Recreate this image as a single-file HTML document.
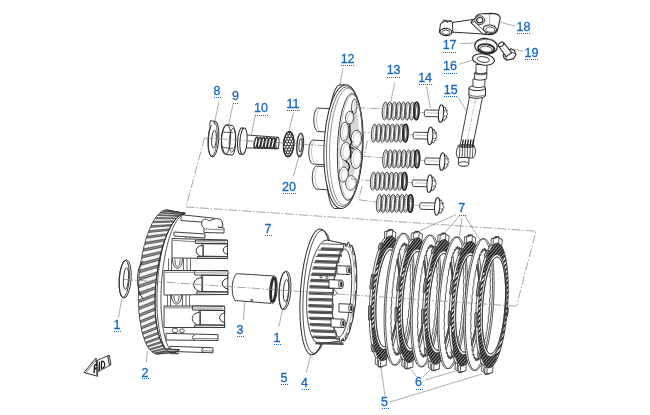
<!DOCTYPE html>
<html><head><meta charset="utf-8"><style>
html,body{margin:0;padding:0;background:#fff;width:650px;height:415px;overflow:hidden}
svg{position:absolute;left:0;top:0;display:block;will-change:transform}
</style></head><body>
<svg width="650" height="415" viewBox="0 0 650 415">
<defs>
<pattern id="fric" width="3.2" height="3.2" patternUnits="userSpaceOnUse" patternTransform="rotate(40)">
<rect width="3.2" height="3.2" fill="#f2f2f2"/><rect width="1.7" height="3.2" fill="#2a2a2a"/>
</pattern>
<pattern id="fricd" width="2.4" height="2.4" patternUnits="userSpaceOnUse" patternTransform="rotate(40)">
<rect width="2.4" height="2.4" fill="#cfcfcf"/><rect width="1.9" height="2.4" fill="#262626"/>
</pattern>
</defs>

<g fill="none" stroke="#9a9a9a" stroke-width="0.8">
<line x1="493" y1="20.5" x2="515" y2="26"/>
<line x1="513" y1="49" x2="523.8" y2="51.2"/>
<line x1="460.4" y1="43.6" x2="474.9" y2="43"/>
<line x1="459" y1="64.3" x2="473.4" y2="60"/>
<line x1="458" y1="96.8" x2="468.8" y2="115"/>
<line x1="426.5" y1="86" x2="430.3" y2="108"/>
<line x1="394.7" y1="83" x2="390.8" y2="101.4"/>
<line x1="343" y1="68" x2="339.5" y2="86.6"/>
<line x1="219" y1="101.7" x2="214" y2="124.6"/>
<line x1="233" y1="104" x2="228.5" y2="125.8"/>
<line x1="255" y1="116" x2="251.4" y2="135"/>
<line x1="293.6" y1="112.5" x2="288.8" y2="131.8"/>
<line x1="299" y1="156" x2="293.3" y2="176.5"/>
<line x1="456" y1="214.6" x2="420" y2="230.8"/>
<line x1="460" y1="215.4" x2="443.8" y2="233.8"/>
<line x1="462.3" y1="217.7" x2="457.7" y2="244.6"/>
<line x1="464.6" y1="215.4" x2="481.5" y2="242.3"/>
<line x1="147.3" y1="350.8" x2="146.3" y2="362.5"/>
<line x1="245.2" y1="298.5" x2="243.3" y2="320"/>
<line x1="282.4" y1="310" x2="278.8" y2="327"/>
<line x1="311.7" y1="350.6" x2="306.4" y2="372.5"/>
<line x1="417" y1="377" x2="410" y2="368"/>
<line x1="423" y1="377" x2="430" y2="370"/>
<line x1="425" y1="380" x2="456" y2="371"/>
<line x1="385" y1="396" x2="381" y2="368"/>
<line x1="390" y1="402" x2="482" y2="374"/>
<line x1="121.9" y1="298" x2="118.5" y2="317.5"/>
</g>
<g fill="#fff" stroke="#2a2a2a" stroke-width="0.9" stroke-linejoin="round">
<ellipse cx="125.20" cy="279.00" rx="5.90" ry="19.20" transform="rotate(4 125.20 279.00)" />
<ellipse cx="124.20" cy="279.00" rx="5.00" ry="18.60" transform="rotate(4 124.20 279.00)" fill="none"/>
<ellipse cx="126.00" cy="278.60" rx="2.50" ry="11.00" transform="rotate(4 126.00 278.60)" />
<ellipse cx="285.00" cy="290.40" rx="5.80" ry="19.50" transform="rotate(4 285.00 290.40)" />
<ellipse cx="284.00" cy="290.40" rx="4.90" ry="18.80" transform="rotate(4 284.00 290.40)" fill="none"/>
<ellipse cx="286.00" cy="290.60" rx="2.60" ry="11.20" transform="rotate(4 286.00 290.60)" />
<path d="M236.6,273.7 L273.4,275.9 L271,303.4 L235,300.5 C231,295 231,279 236.6,273.7 Z"/>
<ellipse cx="273.40" cy="289.60" rx="3.70" ry="13.80" transform="rotate(4 273.40 289.60)" />
<ellipse cx="273.40" cy="289.80" rx="2.30" ry="12.00" transform="rotate(4 273.40 289.80)" stroke-width="2.2" fill="none"/>
<ellipse cx="251.70" cy="300.30" rx="1.00" ry="0.80" transform="rotate(0 251.70 300.30)" fill="#fff"/>
<path d="M178,214 L224,218 L228,240 L228,330 L209,353 L172,351 C158,330 158,240 178,214 Z" fill="#fff" stroke="none"/>
<line x1="168.5" y1="258.5" x2="168.5" y2="270.5" stroke-width="0.7"/>
<line x1="171.5" y1="258.5" x2="171.5" y2="270.5" stroke-width="0.7"/>
<line x1="183.5" y1="258.5" x2="183.5" y2="270.5" stroke-width="0.7"/>
<line x1="187.0" y1="258.5" x2="187.0" y2="270.5" stroke-width="0.7"/>
<line x1="190.5" y1="258.5" x2="190.5" y2="270.5" stroke-width="0.7"/>
<path d="M172.5,258.5 C172.5,271.5 182.5,271.5 182.5,258.5" fill="none" stroke-width="0.9"/>
<path d="M175.0,259.5 C175.0,269.0 180.0,269.0 180.0,259.5" fill="none" stroke-width="0.8"/>
<line x1="167.5" y1="295.0" x2="167.5" y2="306.0" stroke-width="0.7"/>
<line x1="170.5" y1="295.0" x2="170.5" y2="306.0" stroke-width="0.7"/>
<line x1="182.5" y1="295.0" x2="182.5" y2="306.0" stroke-width="0.7"/>
<line x1="186.0" y1="295.0" x2="186.0" y2="306.0" stroke-width="0.7"/>
<line x1="189.5" y1="295.0" x2="189.5" y2="306.0" stroke-width="0.7"/>
<path d="M171.5,295.0 C171.5,307.0 181.5,307.0 181.5,295.0" fill="none" stroke-width="0.9"/>
<path d="M174.0,296.0 C174.0,304.5 179.0,304.5 179.0,296.0" fill="none" stroke-width="0.8"/>
<path d="M186,236 L186,238.5 M190,236 L190,238.5 M194,236 L194,238.5" fill="none" stroke-width="0.7"/>
<ellipse cx="175.00" cy="330.50" rx="2.80" ry="2.30" transform="rotate(0 175.00 330.50)" fill="none" stroke-width="0.8"/>
<ellipse cx="182.00" cy="330.80" rx="2.30" ry="2.00" transform="rotate(0 182.00 330.80)" fill="none" stroke-width="0.8"/>
<path d="M181.00,214.70 L214.30,218.20 L214.30,223.00 L181.00,220.50 Z" stroke-width="0.9"/>
<path d="M174.00,232.00 L205.00,234.00 L205.00,238.00 L174.00,236.00 Z" stroke-width="0.9"/>
<path d="M172.00,238.50 L227.50,240.00 L227.50,258.50 L172.00,258.00 Z" stroke-width="0.9"/>
<line x1="173.0" y1="240.3" x2="195.5" y2="241.8" fill="none" stroke-width="0.6"/>
<path d="M195.5,240.0 L226.5,240.4 C228.1,240.6 228.1,243.5 226.5,243.7 L195.5,243.4 Z" stroke-width="0.9"/>
<line x1="196.5" y1="241.7" x2="226.0" y2="242.1" stroke-width="0.5"/>
<path d="M202.0,243.7 L227.5,244.0 L227.5,246.0 C221.8,246.8 221.8,253.4 227.5,254.2 L227.5,256.5 L202.0,256.2 Z" fill="#fff" stroke-width="1"/>
<path d="M202.0,245.6 C194.2,246.0 194.2,255.4 202.0,256.5" fill="#fff" stroke-width="1"/>
<path d="M203.3,244.7 L203.3,256.0" fill="none" stroke-width="0.9"/>
<path d="M197.5,256.5 L227.5,256.8 L227.5,258.5 L197.5,258.2 Z" stroke-width="0.9"/>
<path d="M164.00,270.50 L227.80,270.50 L227.80,294.50 L164.00,295.00 Z" stroke-width="0.9"/>
<line x1="165.0" y1="272.3" x2="194.8" y2="272.3" fill="none" stroke-width="0.6"/>
<path d="M194.8,270.5 L226.8,270.9 C228.4,271.1 228.4,275.1 226.8,275.3 L194.8,275.0 Z" stroke-width="0.9"/>
<line x1="195.8" y1="272.7" x2="226.3" y2="273.1" stroke-width="0.5"/>
<path d="M201.3,275.3 L227.8,275.6 L227.8,278.3 C220.4,279.3 220.4,287.8 227.8,288.9 L227.8,291.9 L201.3,291.6 Z" fill="#fff" stroke-width="1"/>
<path d="M201.3,277.8 C191.2,278.3 191.2,290.5 201.3,291.9" fill="#fff" stroke-width="1"/>
<path d="M202.6,276.3 L202.6,291.4" fill="none" stroke-width="0.9"/>
<path d="M196.8,291.9 L227.8,292.2 L227.8,294.5 L196.8,294.2 Z" stroke-width="0.9"/>
<path d="M164.00,306.00 L224.60,306.00 L224.60,327.50 L164.00,327.50 Z" stroke-width="0.9"/>
<line x1="165.0" y1="307.8" x2="192.6" y2="307.8" fill="none" stroke-width="0.6"/>
<path d="M192.6,306.0 L223.6,306.4 C225.2,306.6 225.2,310.1 223.6,310.3 L192.6,310.0 Z" stroke-width="0.9"/>
<line x1="193.6" y1="307.9" x2="223.1" y2="308.3" stroke-width="0.5"/>
<path d="M199.1,310.3 L224.6,310.6 L224.6,313.0 C218.0,313.9 218.0,321.5 224.6,322.5 L224.6,325.1 L199.1,324.8 Z" fill="#fff" stroke-width="1"/>
<path d="M199.1,312.5 C190.1,313.0 190.1,323.9 199.1,325.1" fill="#fff" stroke-width="1"/>
<path d="M200.4,311.3 L200.4,324.6" fill="none" stroke-width="0.9"/>
<path d="M194.6,325.1 L224.6,325.4 L224.6,327.5 L194.6,327.2 Z" stroke-width="0.9"/>
<path d="M166.00,333.30 L218.00,334.70 L218.00,340.50 L166.00,340.00 Z" stroke-width="0.9"/>
<path d="M194.0,334.7 L194.0,335.9 C191.7,335.9 191.7,339.3 194.0,339.3 L194.0,340.5" fill="#fff" stroke-width="0.9"/>
<line x1="194.0" y1="338.5" x2="218.0" y2="338.7" fill="none" stroke-width="0.6"/>
<path d="M170.00,346.30 L213.00,347.80 L213.00,352.80 L170.00,351.40 Z" stroke-width="0.9"/>
<path d="M203.0,347.8 L203.0,348.8 C201.1,348.8 201.1,351.8 203.0,351.8 L203.0,352.8" fill="#fff" stroke-width="0.9"/>
<line x1="203.0" y1="350.8" x2="213.0" y2="351.0" fill="none" stroke-width="0.6"/>
<path d="M202,221 C204,218.5 207,218.5 209,221 L214,219 C218,218 221,219 222,221 L223,226 C221,228 219,228 218,227 L224,228 L224,233 L204,232.5 L204,228 C202,227 201,224 202,221 Z" stroke-width="0.9"/>
<path d="M205,229 L223,229.8" fill="none" stroke-width="0.6"/>
<path d="M184.51,214.25 L183.19,214.64 L181.85,215.34 L180.51,216.35 L179.17,217.66 L177.84,219.27 L176.52,221.16 L175.22,223.34 L173.95,225.79 L172.71,228.50 L171.51,231.46 L170.35,234.66 L169.24,238.07 L168.18,241.69 L167.18,245.50 L166.23,249.48 L165.36,253.62 L164.56,257.89 L163.83,262.28 L163.17,266.77 L162.60,271.33 L162.11,275.95 L161.70,280.61 L161.38,285.28 L161.14,289.95 L161.00,294.59 L160.94,299.18 L160.98,303.70 L161.10,308.14 L161.32,312.46 L161.62,316.66 L162.01,320.72 L162.48,324.61 L163.04,328.32 L163.67,331.83 L164.39,335.12 L165.18,338.19 L166.04,341.01 L166.96,343.58 L167.95,345.89 L169.00,347.91 L170.10,349.65 L171.25,351.10 L172.44,352.24 L173.67,353.08 L174.94,353.62 L176.23,353.84 L177.54,353.74 L178.87,353.34 L174.87,353.34 L173.54,353.74 L172.23,353.84 L170.94,353.62 L169.67,353.08 L168.44,352.24 L167.25,351.10 L166.10,349.65 L165.00,347.91 L163.95,345.89 L162.96,343.58 L162.04,341.01 L161.18,338.19 L160.39,335.12 L159.67,331.83 L159.04,328.32 L158.48,324.61 L158.01,320.72 L157.62,316.66 L157.32,312.46 L157.10,308.14 L156.98,303.70 L156.94,299.18 L157.00,294.59 L157.14,289.95 L157.38,285.28 L157.70,280.61 L158.11,275.95 L158.60,271.33 L159.17,266.77 L159.83,262.28 L160.56,257.89 L161.36,253.62 L162.23,249.48 L163.18,245.50 L164.18,241.69 L165.24,238.07 L166.35,234.66 L167.51,231.46 L168.71,228.50 L169.95,225.79 L171.22,223.34 L172.52,221.16 L173.84,219.27 L175.17,217.66 L176.51,216.35 L177.85,215.34 L179.19,214.64 L180.51,214.25 Z" fill="#fff" stroke-width="0.8"/>
<path d="M170.93,211.55 L169.91,210.97 L168.88,210.55 L167.83,210.28 L166.76,210.16 L165.69,210.20 L164.61,210.40 L163.52,210.75 L162.43,211.25 L161.34,211.91 L160.25,212.72 L159.16,213.68 L158.08,214.78 L157.01,216.03 L155.95,217.43 L154.90,218.96 L153.87,220.63 L152.85,222.43 L151.86,224.36 L150.89,226.41 L149.94,228.59 L149.01,230.88 L148.12,233.28 L147.25,235.78 L146.42,238.38 L145.62,241.08 L144.86,243.87 L144.13,246.74 L143.44,249.69 L142.79,252.70 L142.18,255.78 L141.62,258.92 L141.10,262.10 L140.62,265.33 L140.20,268.59 L139.81,271.89 L139.48,275.20 L139.19,278.53 L138.96,281.87 L138.77,285.21 L138.63,288.54 L138.55,291.85 L138.51,295.15 L138.53,298.41 L138.60,301.65 L138.71,304.84 L138.88,307.97 L139.10,311.06 L139.36,314.08 L139.68,317.03 L140.04,319.91 L140.45,322.70 L140.91,325.41 L141.41,328.02 L141.96,330.53 L142.55,332.94 L143.18,335.24 L143.85,337.42 L144.57,339.49 L145.32,341.43 L146.10,343.24 L146.92,344.92 L147.78,346.46 L148.66,347.86 L149.57,349.12 L150.51,350.24 L151.48,351.21 L152.46,352.03 L153.47,352.70 L154.49,353.22 L155.54,353.58 L156.59,353.79 L157.66,353.84 L158.74,353.74 L159.82,353.48 L160.91,353.07 L162.00,352.51 L163.09,351.79 L164.18,350.92 L165.26,349.90 L166.34,348.74 L179.53,349.61 L178.50,350.42 L177.48,351.10 L176.45,351.67 L175.43,352.11 L174.42,352.42 L173.42,352.60 L172.43,352.66 L171.44,352.59 L170.48,352.39 L169.52,352.07 L168.59,351.61 L167.67,351.04 L166.78,350.34 L165.91,349.51 L165.06,348.57 L164.23,347.50 L163.44,346.32 L162.67,345.02 L161.93,343.61 L161.23,342.09 L160.55,340.46 L159.91,338.72 L159.31,336.88 L158.74,334.95 L158.20,332.91 L157.71,330.79 L157.25,328.58 L156.84,326.29 L156.46,323.92 L156.13,321.47 L155.84,318.95 L155.59,316.37 L155.38,313.72 L155.22,311.02 L155.10,308.27 L155.02,305.47 L154.99,302.63 L155.00,299.76 L155.05,296.85 L155.15,293.92 L155.29,290.97 L155.48,288.01 L155.71,285.03 L155.98,282.05 L156.29,279.08 L156.65,276.11 L157.04,273.15 L157.48,270.21 L157.95,267.30 L158.47,264.41 L159.02,261.56 L159.61,258.74 L160.23,255.98 L160.89,253.26 L161.58,250.59 L162.30,247.98 L163.05,245.44 L163.83,242.97 L164.64,240.57 L165.48,238.25 L166.34,236.00 L167.22,233.85 L168.13,231.78 L169.06,229.81 L170.00,227.94 L170.96,226.17 L171.93,224.50 L172.92,222.93 L173.92,221.48 L174.93,220.14 L175.94,218.91 L176.96,217.81 L177.99,216.82 L179.02,215.95 L180.04,215.20 L181.07,214.58 L182.09,214.08 L183.10,213.71 L184.11,213.47 L185.11,213.35 Z" fill="#8c8c8c" stroke-width="0.9"/>
<path d="M169.43,210.52 L185.11,213.35 L184.91,213.37 L167.91,210.07 Z" fill="#f6f6f6" stroke="#2a2a2a" stroke-width="0.6"/>
<path d="M167.04,209.96 L185.11,213.35 L184.91,213.37 L165.47,210.01 Z" fill="#f6f6f6" stroke="#2a2a2a" stroke-width="0.6"/>
<path d="M164.59,210.19 L185.11,213.35 L184.36,213.43 L163.00,210.74 Z" fill="#f6f6f6" stroke="#2a2a2a" stroke-width="0.6"/>
<path d="M162.11,211.20 L183.47,213.61 L181.88,214.17 L160.52,212.25 Z" fill="#f6f6f6" stroke="#2a2a2a" stroke-width="0.6"/>
<path d="M159.63,212.99 L180.98,214.63 L179.38,215.67 L158.06,214.53 Z" fill="#f6f6f6" stroke="#2a2a2a" stroke-width="0.6"/>
<path d="M157.18,215.53 L178.47,216.39 L176.86,217.91 L155.63,217.54 Z" fill="#f6f6f6" stroke="#2a2a2a" stroke-width="0.6"/>
<path d="M154.78,218.80 L175.96,218.89 L174.38,220.86 L153.28,221.26 Z" fill="#f6f6f6" stroke="#2a2a2a" stroke-width="0.6"/>
<path d="M152.45,222.77 L173.49,222.09 L171.94,224.49 L151.02,225.65 Z" fill="#f6f6f6" stroke="#2a2a2a" stroke-width="0.6"/>
<path d="M150.24,227.38 L171.08,225.95 L169.58,228.76 L148.88,230.65 Z" fill="#f6f6f6" stroke="#2a2a2a" stroke-width="0.6"/>
<path d="M148.15,232.59 L168.75,230.45 L167.32,233.63 L146.89,236.22 Z" fill="#f6f6f6" stroke="#2a2a2a" stroke-width="0.6"/>
<path d="M146.21,238.34 L166.54,235.51 L165.19,239.03 L145.06,242.28 Z" fill="#f6f6f6" stroke="#2a2a2a" stroke-width="0.6"/>
<path d="M144.45,244.58 L164.46,241.10 L163.21,244.92 L143.42,248.78 Z" fill="#f6f6f6" stroke="#2a2a2a" stroke-width="0.6"/>
<path d="M142.88,251.22 L162.54,247.15 L161.41,251.23 L141.98,255.65 Z" fill="#f6f6f6" stroke="#2a2a2a" stroke-width="0.6"/>
<path d="M141.52,258.20 L160.80,253.59 L159.79,257.88 L140.76,262.81 Z" fill="#f6f6f6" stroke="#2a2a2a" stroke-width="0.6"/>
<path d="M140.38,265.44 L159.26,260.35 L158.39,264.81 L139.78,270.17 Z" fill="#f6f6f6" stroke="#2a2a2a" stroke-width="0.6"/>
<path d="M139.48,272.86 L157.94,267.36 L157.22,271.94 L139.03,277.67 Z" fill="#f6f6f6" stroke="#2a2a2a" stroke-width="0.6"/>
<path d="M138.83,280.38 L156.85,274.54 L156.28,279.19 L138.54,285.21 Z" fill="#f6f6f6" stroke="#2a2a2a" stroke-width="0.6"/>
<path d="M138.43,287.92 L156.00,281.81 L155.59,286.48 L138.31,292.71 Z" fill="#f6f6f6" stroke="#2a2a2a" stroke-width="0.6"/>
<path d="M138.29,295.39 L155.40,289.10 L155.16,293.73 L138.33,300.10 Z" fill="#f6f6f6" stroke="#2a2a2a" stroke-width="0.6"/>
<path d="M138.40,302.72 L155.07,296.32 L154.99,300.87 L138.62,307.30 Z" fill="#f6f6f6" stroke="#2a2a2a" stroke-width="0.6"/>
<path d="M138.78,309.82 L154.99,303.39 L155.08,307.81 L139.16,314.21 Z" fill="#f6f6f6" stroke="#2a2a2a" stroke-width="0.6"/>
<path d="M139.41,316.62 L155.18,310.24 L155.43,314.47 L139.95,320.77 Z" fill="#f6f6f6" stroke="#2a2a2a" stroke-width="0.6"/>
<path d="M140.29,323.03 L155.62,316.79 L156.05,320.80 L140.98,326.91 Z" fill="#f6f6f6" stroke="#2a2a2a" stroke-width="0.6"/>
<path d="M141.41,329.00 L156.33,322.98 L156.91,326.71 L142.24,332.55 Z" fill="#f6f6f6" stroke="#2a2a2a" stroke-width="0.6"/>
<path d="M142.75,334.45 L157.28,328.72 L158.02,332.14 L143.72,337.64 Z" fill="#f6f6f6" stroke="#2a2a2a" stroke-width="0.6"/>
<path d="M144.30,339.33 L158.47,333.96 L159.35,337.03 L145.40,342.12 Z" fill="#f6f6f6" stroke="#2a2a2a" stroke-width="0.6"/>
<path d="M146.05,343.58 L159.89,338.65 L160.90,341.33 L147.26,345.95 Z" fill="#f6f6f6" stroke="#2a2a2a" stroke-width="0.6"/>
<path d="M147.97,347.15 L161.51,342.72 L162.65,344.99 L149.28,349.07 Z" fill="#f6f6f6" stroke="#2a2a2a" stroke-width="0.6"/>
<path d="M150.05,350.01 L163.33,346.14 L164.58,347.97 L151.45,351.45 Z" fill="#f6f6f6" stroke="#2a2a2a" stroke-width="0.6"/>
<path d="M152.25,352.13 L165.32,348.87 L166.67,350.24 L153.72,353.08 Z" fill="#f6f6f6" stroke="#2a2a2a" stroke-width="0.6"/>
<path d="M154.57,353.48 L167.45,350.88 L168.89,351.77 L156.09,353.93 Z" fill="#f6f6f6" stroke="#2a2a2a" stroke-width="0.6"/>
<path d="M156.96,354.04 L169.72,352.14 L171.22,352.55 L158.53,353.99 Z" fill="#f6f6f6" stroke="#2a2a2a" stroke-width="0.6"/>
<path d="M159.41,353.81 L172.08,352.65 L173.64,352.57 L161.00,353.26 Z" fill="#f6f6f6" stroke="#2a2a2a" stroke-width="0.6"/>
<path d="M161.89,352.80 L174.53,352.39 L176.12,351.83 L163.48,351.75 Z" fill="#f6f6f6" stroke="#2a2a2a" stroke-width="0.6"/>
<path d="M164.37,351.01 L177.02,351.37 L178.62,350.33 L165.94,349.47 Z" fill="#f6f6f6" stroke="#2a2a2a" stroke-width="0.6"/>
<path d="M185.11,213.35 L184.11,213.47 L183.10,213.71 L182.09,214.08 L181.07,214.58 L180.04,215.20 L179.02,215.95 L177.99,216.82 L176.96,217.81 L175.94,218.91 L174.93,220.14 L173.92,221.48 L172.92,222.93 L171.93,224.50 L170.96,226.17 L170.00,227.94 L169.06,229.81 L168.13,231.78 L167.22,233.85 L166.34,236.00 L165.48,238.25 L164.64,240.57 L163.83,242.97 L163.05,245.44 L162.30,247.98 L161.58,250.59 L160.89,253.26 L160.23,255.98 L159.61,258.74 L159.02,261.56 L158.47,264.41 L157.95,267.30 L157.48,270.21 L157.04,273.15 L156.65,276.11 L156.29,279.08 L155.98,282.05 L155.71,285.03 L155.48,288.01 L155.29,290.97 L155.15,293.92 L155.05,296.85 L155.00,299.76 L154.99,302.63 L155.02,305.47 L155.10,308.27 L155.22,311.02 L155.38,313.72 L155.59,316.37 L155.84,318.95 L156.13,321.47 L156.46,323.92 L156.84,326.29 L157.25,328.58 L157.71,330.79 L158.20,332.91 L158.74,334.95 L159.31,336.88 L159.91,338.72 L160.55,340.46 L161.23,342.09 L161.93,343.61 L162.67,345.02 L163.44,346.32 L164.23,347.50 L165.06,348.57 L165.91,349.51 L166.78,350.34 L167.67,351.04 L168.59,351.61 L169.52,352.07 L170.48,352.39 L171.44,352.59 L172.43,352.66 L173.42,352.60 L174.42,352.42 L175.43,352.11 L176.45,351.67 L177.48,351.10 L178.50,350.42 L179.53,349.61" fill="none" stroke-width="0.9"/>
<path d="M143,261 C136,266 135.5,292 143,298.5" fill="none" stroke-width="1"/>
<ellipse cx="316.00" cy="291.80" rx="15.50" ry="63.00" transform="rotate(4 316.00 291.80)" stroke-width="1"/>
<ellipse cx="318.20" cy="291.80" rx="14.80" ry="61.80" transform="rotate(4 318.20 291.80)" fill="none" stroke-width="0.8"/>
<path d="M327.14,240.00 L324.82,240.50 L323.85,241.00 L323.10,241.50 L322.47,242.00 L321.91,242.50 L321.41,243.00 L320.94,243.50 L320.51,244.00 L320.11,244.50 L319.73,245.00 L319.37,245.50 L319.03,246.00 L318.70,246.50 L318.38,247.00 L318.08,247.50 L317.79,248.00 L317.50,248.50 L317.23,249.00 L316.97,249.50 L316.71,250.00 L316.46,250.50 L316.22,251.00 L315.99,251.50 L315.76,252.00 L315.53,252.50 L315.32,253.00 L315.10,253.50 L314.90,254.00 L314.69,254.50 L314.50,255.00 L314.30,255.50 L314.11,256.00 L313.93,256.50 L313.75,257.00 L313.57,257.50 L313.40,258.00 L313.23,258.50 L313.06,259.00 L312.89,259.50 L312.73,260.00 L312.58,260.50 L312.42,261.00 L312.27,261.50 L312.12,262.00 L311.98,262.50 L311.83,263.00 L311.69,263.50 L311.56,264.00 L311.42,264.50 L311.29,265.00 L311.16,265.50 L311.03,266.00 L310.91,266.50 L310.78,267.00 L310.66,267.50 L310.54,268.00 L310.43,268.50 L310.31,269.00 L310.20,269.50 L310.09,270.00 L309.98,270.50 L309.88,271.00 L309.77,271.50 L309.67,272.00 L309.57,272.50 L309.47,273.00 L309.37,273.50 L309.28,274.00 L309.19,274.50 L309.10,275.00 L309.01,275.50 L308.92,276.00 L308.84,276.50 L308.75,277.00 L308.67,277.50 L308.59,278.00 L308.51,278.50 L308.43,279.00 L308.36,279.50 L308.29,280.00 L308.21,280.50 L308.14,281.00 L308.07,281.50 L308.01,282.00 L307.94,282.50 L307.88,283.00 L307.82,283.50 L307.76,284.00 L307.70,284.50 L307.64,285.00 L307.58,285.50 L307.53,286.00 L307.48,286.50 L307.43,287.00 L307.38,287.50 L307.33,288.00 L307.28,288.50 L307.24,289.00 L307.19,289.50 L307.15,290.00 L307.11,290.50 L307.07,291.00 L307.04,291.50 L307.00,292.00 L306.97,292.50 L306.93,293.00 L306.90,293.50 L306.87,294.00 L306.84,294.50 L306.82,295.00 L306.79,295.50 L306.77,296.00 L306.75,296.50 L306.73,297.00 L306.71,297.50 L306.69,298.00 L306.67,298.50 L306.66,299.00 L306.65,299.50 L306.64,300.00 L306.63,300.50 L306.62,301.00 L306.61,301.50 L306.61,302.00 L306.60,302.50 L306.60,303.00 L306.60,303.50 L306.61,304.00 L306.61,304.50 L306.61,305.00 L306.62,305.50 L306.63,306.00 L306.64,306.50 L306.65,307.00 L306.67,307.50 L306.68,308.00 L306.70,308.50 L306.72,309.00 L306.74,309.50 L306.76,310.00 L306.78,310.50 L306.81,311.00 L306.84,311.50 L306.87,312.00 L306.90,312.50 L306.94,313.00 L306.97,313.50 L307.01,314.00 L307.05,314.50 L307.09,315.00 L307.14,315.50 L307.18,316.00 L307.23,316.50 L307.28,317.00 L307.34,317.50 L307.39,318.00 L307.45,318.50 L307.51,319.00 L307.57,319.50 L307.64,320.00 L307.70,320.50 L307.77,321.00 L307.85,321.50 L307.92,322.00 L308.00,322.50 L308.08,323.00 L308.17,323.50 L308.25,324.00 L308.34,324.50 L308.44,325.00 L308.54,325.50 L308.64,326.00 L308.74,326.50 L308.85,327.00 L308.96,327.50 L309.07,328.00 L309.19,328.50 L309.32,329.00 L309.44,329.50 L309.58,330.00 L309.71,330.50 L309.86,331.00 L310.00,331.50 L310.16,332.00 L310.32,332.50 L310.48,333.00 L310.65,333.50 L310.83,334.00 L311.02,334.50 L311.21,335.00 L311.41,335.50 L311.63,336.00 L311.85,336.50 L312.08,337.00 L312.33,337.50 L312.59,338.00 L312.86,338.50 L313.15,339.00 L313.46,339.50 L313.79,340.00 L314.15,340.50 L314.55,341.00 L314.98,341.50 L315.47,342.00 L316.03,342.50 L316.71,343.00 L317.61,343.50 L319.86,344.00 L345.22,340.12 L345.96,339.03 L346.71,337.76 L347.44,336.32 L348.16,334.72 L348.87,332.97 L349.56,331.06 L350.24,329.01 L350.89,326.82 L351.52,324.50 L352.12,322.07 L352.70,319.52 L353.24,316.88 L353.75,314.14 L354.23,311.32 L354.67,308.43 L355.07,305.49 L355.43,302.49 L355.75,299.46 L356.03,296.40 L356.27,293.32 L356.46,290.25 L356.61,287.18 L356.72,284.13 L356.77,281.11 L356.79,278.14 L356.75,275.21 L356.67,272.36 L356.55,269.58 L356.38,266.88 L356.16,264.28 L355.91,261.78 L355.60,259.40 L355.26,257.15 L354.88,255.02 L354.46,253.03 L354.00,251.20 L353.51,249.51 L352.98,247.99 L352.42,246.63 L351.84,245.44 Z" fill="#fff" stroke-width="1"/>
<path d="M321.5,243.8 L343.5,244.5" fill="none" stroke="#333" stroke-width="0.8"/>
<path d="M321.5,247.8 L343.5,248.5" fill="none" stroke="#333" stroke-width="0.8"/>
<path d="M320.8,248.9 L343.5,249.6" fill="none" stroke="#4a4a4a" stroke-width="1.7"/>
<path d="M318.0,250.1 L342.0,250.8" fill="none" stroke="#333" stroke-width="0.8"/>
<path d="M318.0,254.1 L342.0,254.8" fill="none" stroke="#333" stroke-width="0.8"/>
<path d="M317.3,255.2 L342.0,255.9" fill="none" stroke="#4a4a4a" stroke-width="1.7"/>
<path d="M315.5,256.4 L339.4,257.1" fill="none" stroke="#333" stroke-width="0.8"/>
<path d="M315.5,260.4 L339.4,261.1" fill="none" stroke="#333" stroke-width="0.8"/>
<path d="M314.8,261.5 L339.4,262.2" fill="none" stroke="#4a4a4a" stroke-width="1.7"/>
<path d="M313.6,262.7 L337.6,263.4" fill="none" stroke="#333" stroke-width="0.8"/>
<path d="M313.6,266.7 L337.6,267.4" fill="none" stroke="#333" stroke-width="0.8"/>
<path d="M312.9,267.8 L337.6,268.5" fill="none" stroke="#4a4a4a" stroke-width="1.7"/>
<path d="M312.1,269.0 L336.3,269.7" fill="none" stroke="#333" stroke-width="0.8"/>
<path d="M312.1,273.0 L336.3,273.7" fill="none" stroke="#333" stroke-width="0.8"/>
<path d="M311.4,274.1 L336.3,274.8" fill="none" stroke="#4a4a4a" stroke-width="1.7"/>
<path d="M310.9,275.3 L335.2,276.0" fill="none" stroke="#333" stroke-width="0.8"/>
<path d="M310.9,279.3 L335.2,280.0" fill="none" stroke="#333" stroke-width="0.8"/>
<path d="M310.2,280.4 L335.2,281.1" fill="none" stroke="#4a4a4a" stroke-width="1.7"/>
<path d="M310.0,281.6 L334.4,282.3" fill="none" stroke="#333" stroke-width="0.8"/>
<path d="M310.0,285.6 L334.4,286.3" fill="none" stroke="#333" stroke-width="0.8"/>
<path d="M309.3,286.7 L334.4,287.4" fill="none" stroke="#4a4a4a" stroke-width="1.7"/>
<path d="M309.4,287.9 L333.8,288.6" fill="none" stroke="#333" stroke-width="0.8"/>
<path d="M309.4,291.9 L333.8,292.6" fill="none" stroke="#333" stroke-width="0.8"/>
<path d="M308.7,293.0 L333.8,293.7" fill="none" stroke="#4a4a4a" stroke-width="1.7"/>
<path d="M309.0,294.2 L333.3,294.9" fill="none" stroke="#333" stroke-width="0.8"/>
<path d="M309.0,298.2 L333.3,298.9" fill="none" stroke="#333" stroke-width="0.8"/>
<path d="M308.3,299.3 L333.3,300.0" fill="none" stroke="#4a4a4a" stroke-width="1.7"/>
<path d="M308.8,300.5 L333.1,301.2" fill="none" stroke="#333" stroke-width="0.8"/>
<path d="M308.8,304.5 L333.1,305.2" fill="none" stroke="#333" stroke-width="0.8"/>
<path d="M308.1,305.6 L333.1,306.3" fill="none" stroke="#4a4a4a" stroke-width="1.7"/>
<path d="M308.9,306.8 L333.0,307.5" fill="none" stroke="#333" stroke-width="0.8"/>
<path d="M308.9,310.8 L333.0,311.5" fill="none" stroke="#333" stroke-width="0.8"/>
<path d="M308.2,311.9 L333.0,312.6" fill="none" stroke="#4a4a4a" stroke-width="1.7"/>
<path d="M309.3,313.1 L333.2,313.8" fill="none" stroke="#333" stroke-width="0.8"/>
<path d="M309.3,317.1 L333.2,317.8" fill="none" stroke="#333" stroke-width="0.8"/>
<path d="M308.6,318.2 L333.2,318.9" fill="none" stroke="#4a4a4a" stroke-width="1.7"/>
<path d="M310.0,319.4 L333.6,320.1" fill="none" stroke="#333" stroke-width="0.8"/>
<path d="M310.0,323.4 L333.6,324.1" fill="none" stroke="#333" stroke-width="0.8"/>
<path d="M309.3,324.5 L333.6,325.2" fill="none" stroke="#4a4a4a" stroke-width="1.7"/>
<path d="M311.2,325.7 L334.5,326.4" fill="none" stroke="#333" stroke-width="0.8"/>
<path d="M311.2,329.7 L334.5,330.4" fill="none" stroke="#333" stroke-width="0.8"/>
<path d="M310.5,330.8 L334.5,331.5" fill="none" stroke="#4a4a4a" stroke-width="1.7"/>
<path d="M313.0,332.0 L336.1,332.7" fill="none" stroke="#333" stroke-width="0.8"/>
<path d="M313.0,336.0 L336.1,336.7" fill="none" stroke="#333" stroke-width="0.8"/>
<path d="M312.3,337.1 L336.1,337.8" fill="none" stroke="#4a4a4a" stroke-width="1.7"/>
<path d="M316.1,338.3 L343.5,339.0" fill="none" stroke="#333" stroke-width="0.8"/>
<path d="M316.1,342.3 L343.5,343.0" fill="none" stroke="#333" stroke-width="0.8"/>
<path d="M315.4,343.4 L343.5,344.1" fill="none" stroke="#4a4a4a" stroke-width="1.7"/>
<path d="M348.02,242.12 L349.04,242.39 L349.60,246.74 L350.47,247.69 L351.84,245.44 L352.67,247.19 L352.77,252.53 L353.41,254.77 L354.76,254.44 L355.31,257.46 L354.94,263.13 L355.29,266.40 L356.46,268.02 L356.66,271.96 L355.85,277.28 L355.86,281.17 L356.70,284.56 L356.53,288.93 L355.39,293.26 L355.06,297.32 L355.48,302.06 L354.96,306.33 L353.62,309.15 L352.99,312.88 L352.93,318.40 L352.12,322.07 L350.75,323.04 L349.90,325.99 L349.37,331.62 L348.37,334.24 L347.12,333.24 L346.15,335.05 L345.22,340.12 L344.14,341.37 L343.18,338.52 L342.20,338.99 L340.98,342.88 L339.96,342.61 L339.40,338.26 L338.53,337.31 L337.16,339.56 L336.33,337.81 L336.23,332.47 L335.59,330.23 L334.24,330.56 L333.69,327.54 L334.06,321.87 L333.71,318.60 L332.54,316.98 L332.34,313.04 L333.15,307.72 L333.14,303.83 L332.30,300.44 L332.47,296.07 L333.61,291.74 L333.94,287.68 L333.52,282.94 L334.04,278.67 L335.38,275.85 L336.01,272.12 L336.07,266.60 L336.88,262.93 L338.25,261.96 L339.10,259.01 L339.63,253.38 L340.63,250.76 L341.88,251.76 L342.85,249.95 L343.78,244.88 L344.86,243.63 L345.82,246.48 L346.80,246.01 L348.02,242.12 Z M345.07,249.11 L344.26,249.22 L343.43,249.66 L342.59,250.44 L341.75,251.53 L340.90,252.95 L340.07,254.67 L339.25,256.68 L338.45,258.96 L337.68,261.51 L336.94,264.29 L336.24,267.30 L335.59,270.50 L334.98,273.87 L334.43,277.38 L333.93,281.02 L333.49,284.75 L333.12,288.54 L332.82,292.36 L332.59,296.19 L332.43,299.99 L332.34,303.74 L332.33,307.41 L332.39,310.97 L332.52,314.39 L332.72,317.65 L333.00,320.72 L333.34,323.58 L333.75,326.21 L334.22,328.59 L334.75,330.69 L335.34,332.51 L335.98,334.03 L336.66,335.23 L337.38,336.11 L338.14,336.67 L338.93,336.89 L339.74,336.78 L340.57,336.34 L341.41,335.56 L342.25,334.47 L343.10,333.05 L343.93,331.33 L344.75,329.32 L345.55,327.04 L346.32,324.49 L347.06,321.71 L347.76,318.70 L348.41,315.50 L349.02,312.13 L349.57,308.62 L350.07,304.98 L350.51,301.25 L350.88,297.46 L351.18,293.64 L351.41,289.81 L351.57,286.01 L351.66,282.26 L351.67,278.59 L351.61,275.03 L351.48,271.61 L351.28,268.35 L351.00,265.28 L350.66,262.42 L350.25,259.79 L349.78,257.41 L349.25,255.31 L348.66,253.49 L348.02,251.97 L347.34,250.77 L346.62,249.89 L345.86,249.33 L345.07,249.11 Z" fill="#fff" fill-rule="evenodd" stroke-width="0.9"/>
<ellipse cx="343.30" cy="293.00" rx="10.60" ry="47.50" transform="rotate(4 343.30 293.00)" fill="none" stroke="#777" stroke-width="0.6"/>
<path d="M337,265.7 L349,266.2 L349,274.5 L337,274 Z" stroke-width="0.9"/>
<ellipse cx="349.00" cy="270.30" rx="2.30" ry="4.30" transform="rotate(0 349.00 270.30)" fill="#fff" stroke-width="0.9"/>
<ellipse cx="349.30" cy="270.30" rx="1.20" ry="3.00" transform="rotate(0 349.30 270.30)" fill="#333" stroke="none"/>
<path d="M329,279.7 L341,280.2 L341,288.5 L329,288 Z" stroke-width="0.9"/>
<ellipse cx="341.00" cy="284.30" rx="2.30" ry="4.30" transform="rotate(0 341.00 284.30)" fill="#fff" stroke-width="0.9"/>
<ellipse cx="341.30" cy="284.30" rx="1.20" ry="3.00" transform="rotate(0 341.30 284.30)" fill="#333" stroke="none"/>
<path d="M339,303.7 L351,304.2 L351,312.5 L339,312 Z" stroke-width="0.9"/>
<ellipse cx="351.00" cy="308.30" rx="2.30" ry="4.30" transform="rotate(0 351.00 308.30)" fill="#fff" stroke-width="0.9"/>
<ellipse cx="351.30" cy="308.30" rx="1.20" ry="3.00" transform="rotate(0 351.30 308.30)" fill="#333" stroke="none"/>
<path d="M331,318.7 L343,319.2 L343,327.5 L331,327 Z" stroke-width="0.9"/>
<ellipse cx="343.00" cy="323.30" rx="2.30" ry="4.30" transform="rotate(0 343.00 323.30)" fill="#fff" stroke-width="0.9"/>
<ellipse cx="343.30" cy="323.30" rx="1.20" ry="3.00" transform="rotate(0 343.30 323.30)" fill="#333" stroke="none"/>
<rect x="320.0" y="276.0" width="2" height="2" fill="#fff" stroke-width="0.6"/>
<rect x="326.0" y="276.5" width="2" height="2" fill="#fff" stroke-width="0.6"/>
<path d="M334,290 L337.5,293 L334,296" fill="#fff" stroke-width="0.7"/>
<path d="M388.86,235.95 L387.90,236.02 L386.92,236.35 L385.93,236.95 L384.94,237.81 L383.95,238.93 L382.95,240.31 L381.97,241.93 L380.99,243.80 L380.03,245.89 L379.09,248.22 L378.17,250.75 L377.28,253.49 L376.42,256.43 L375.60,259.54 L374.81,262.81 L374.07,266.24 L373.37,269.81 L372.71,273.50 L372.11,277.29 L371.56,281.18 L371.07,285.14 L370.63,289.15 L370.25,293.21 L369.94,297.28 L369.68,301.36 L369.49,305.43 L369.36,309.46 L369.30,313.45 L369.31,317.38 L369.38,321.22 L369.51,324.96 L369.71,328.59 L369.97,332.09 L370.29,335.45 L370.68,338.64 L371.12,341.67 L371.62,344.50 L372.17,347.14 L372.78,349.57 L373.44,351.79 L374.15,353.77 L374.90,355.51 L375.69,357.01 L376.52,358.26 L377.38,359.25 L378.28,359.98 L379.20,360.45 L380.14,360.65 L381.10,360.58 L382.08,360.25 L383.07,359.65 L384.06,358.79 L385.05,357.67 L386.05,356.29 L387.03,354.67 L388.01,352.80 L388.97,350.71 L389.91,348.38 L390.83,345.85 L391.72,343.11 L392.58,340.17 L393.40,337.06 L394.19,333.79 L394.93,330.36 L395.63,326.79 L396.29,323.10 L396.89,319.31 L397.44,315.42 L397.93,311.46 L398.37,307.45 L398.75,303.39 L399.06,299.32 L399.32,295.24 L399.51,291.17 L399.64,287.14 L399.70,283.15 L399.69,279.22 L399.62,275.38 L399.49,271.64 L399.29,268.01 L399.03,264.51 L398.71,261.15 L398.32,257.96 L397.88,254.93 L397.38,252.10 L396.83,249.46 L396.22,247.03 L395.56,244.81 L394.85,242.83 L394.10,241.09 L393.31,239.59 L392.48,238.34 L391.62,237.35 L390.72,236.62 L389.80,236.15 L388.86,235.95 Z M390.88,249.92 L390.15,249.97 L389.40,250.23 L388.64,250.70 L387.88,251.36 L387.11,252.23 L386.35,253.30 L385.59,254.56 L384.84,256.01 L384.11,257.64 L383.38,259.44 L382.68,261.41 L381.99,263.54 L381.33,265.81 L380.70,268.23 L380.09,270.77 L379.52,273.43 L378.98,276.20 L378.47,279.06 L378.01,282.01 L377.58,285.02 L377.20,288.09 L376.86,291.21 L376.57,294.36 L376.33,297.52 L376.13,300.68 L375.98,303.84 L375.88,306.97 L375.83,310.07 L375.83,313.11 L375.88,316.09 L375.98,319.00 L376.13,321.81 L376.33,324.53 L376.58,327.13 L376.87,329.61 L377.21,331.96 L377.59,334.16 L378.01,336.21 L378.48,338.09 L378.98,339.81 L379.52,341.35 L380.10,342.70 L380.71,343.86 L381.34,344.83 L382.00,345.60 L382.69,346.17 L383.39,346.53 L384.12,346.68 L384.85,346.63 L385.60,346.37 L386.36,345.90 L387.12,345.24 L387.89,344.37 L388.65,343.30 L389.41,342.04 L390.16,340.59 L390.89,338.96 L391.62,337.16 L392.32,335.19 L393.01,333.06 L393.67,330.79 L394.30,328.37 L394.91,325.83 L395.48,323.17 L396.02,320.40 L396.53,317.54 L396.99,314.59 L397.42,311.58 L397.80,308.51 L398.14,305.39 L398.43,302.24 L398.67,299.08 L398.87,295.92 L399.02,292.76 L399.12,289.63 L399.17,286.53 L399.17,283.49 L399.12,280.51 L399.02,277.60 L398.87,274.79 L398.67,272.07 L398.42,269.47 L398.13,266.99 L397.79,264.64 L397.41,262.44 L396.99,260.39 L396.52,258.51 L396.02,256.79 L395.48,255.25 L394.90,253.90 L394.29,252.74 L393.66,251.77 L393.00,251.00 L392.31,250.43 L391.61,250.07 L390.88,249.92 Z" fill="#fff" fill-rule="evenodd" stroke-width="0.8"/>
<path d="M388.63,229.53 L390.83,229.53 L395.94,232.69 L393.74,232.69 Z" fill="#fff" stroke-width="0.75"/>
<path d="M387.92,235.95 L388.63,229.53 L393.74,232.69 L393.02,239.10 Z" fill="#fff" stroke-width="0.75"/>
<path d="M390.12,235.95 L390.83,229.53 L395.94,232.69 L395.22,239.10 Z" fill="#fff" stroke-width="0.75"/>
<path d="M384.71,231.76 L386.91,231.76 L392.54,229.68 L390.34,229.68 Z" fill="#fff" stroke-width="0.75"/>
<path d="M384.48,238.22 L384.71,231.76 L390.34,229.68 L390.11,236.15 Z" fill="#fff" stroke-width="0.75"/>
<path d="M386.68,238.22 L386.91,231.76 L392.54,229.68 L392.31,236.15 Z" fill="#fff" stroke-width="0.75"/>
<path d="M378.24,247.87 L380.44,247.87 L382.37,243.04 L380.17,243.04 Z" fill="#fff" stroke-width="0.75"/>
<path d="M378.74,250.50 L378.24,247.87 L380.17,243.04 L380.67,245.67 Z" fill="#fff" stroke-width="0.75"/>
<path d="M380.94,250.50 L380.44,247.87 L382.37,243.04 L382.87,245.67 Z" fill="#fff" stroke-width="0.75"/>
<path d="M369.87,288.54 L372.07,288.54 L373.86,274.66 L371.66,274.66 Z" fill="#fff" stroke-width="0.75"/>
<path d="M371.00,289.45 L369.87,288.54 L371.66,274.66 L372.78,275.56 Z" fill="#fff" stroke-width="0.75"/>
<path d="M373.20,289.45 L372.07,288.54 L373.86,274.66 L374.98,275.56 Z" fill="#fff" stroke-width="0.75"/>
<path d="M368.49,319.93 L370.69,319.93 L370.86,305.93 L368.66,305.93 Z" fill="#fff" stroke-width="0.75"/>
<path d="M369.73,319.19 L368.49,319.93 L368.66,305.93 L369.90,305.19 Z" fill="#fff" stroke-width="0.75"/>
<path d="M371.93,319.19 L370.69,319.93 L370.86,305.93 L372.10,305.19 Z" fill="#fff" stroke-width="0.75"/>
<path d="M372.33,351.74 L374.53,351.74 L373.34,346.67 L371.14,346.67 Z" fill="#fff" stroke-width="0.75"/>
<path d="M373.20,349.24 L372.33,351.74 L371.14,346.67 L372.01,344.17 Z" fill="#fff" stroke-width="0.75"/>
<path d="M375.40,349.24 L374.53,351.74 L373.34,346.67 L374.21,344.17 Z" fill="#fff" stroke-width="0.75"/>
<path d="M380.00,367.04 L382.20,367.04 L377.29,363.59 L375.09,363.59 Z" fill="#fff" stroke-width="0.75"/>
<path d="M380.75,360.64 L380.00,367.04 L375.09,363.59 L375.84,357.19 Z" fill="#fff" stroke-width="0.75"/>
<path d="M382.95,360.64 L382.20,367.04 L377.29,363.59 L378.04,357.19 Z" fill="#fff" stroke-width="0.75"/>
<path d="M384.06,365.12 L386.26,365.12 L380.51,366.83 L378.31,366.83 Z" fill="#fff" stroke-width="0.75"/>
<path d="M384.33,358.65 L384.06,365.12 L378.31,366.83 L378.58,360.36 Z" fill="#fff" stroke-width="0.75"/>
<path d="M386.53,358.65 L386.26,365.12 L380.51,366.83 L380.78,360.36 Z" fill="#fff" stroke-width="0.75"/>
<path d="M399.63,301.00 L401.83,301.00 L401.11,308.97 L398.91,308.97 Z" fill="#fff" stroke-width="0.75"/>
<path d="M398.50,300.64 L399.63,301.00 L398.91,308.97 L397.78,308.61 Z" fill="#fff" stroke-width="0.75"/>
<path d="M400.70,300.64 L401.83,301.00 L401.11,308.97 L399.98,308.61 Z" fill="#fff" stroke-width="0.75"/>
<path d="M398.12,245.97 L397.61,244.37 L397.08,242.89 L396.52,241.56 L395.94,240.36 L395.33,239.30 L394.71,238.38 L394.07,237.60 L393.40,236.98 L392.73,236.50 L392.03,236.16 L391.33,235.98 L390.61,235.95 L389.89,236.07 L389.15,236.34 L388.42,236.76 L387.67,237.32 L386.93,238.03 L386.18,238.89 L385.44,239.89 L384.69,241.04 L383.96,242.32 L383.23,243.73 L382.50,245.28 L381.79,246.95 L381.09,248.75 L380.41,250.67 L379.73,252.70 L379.08,254.84 L378.44,257.08 L377.83,259.43 L377.23,261.87 L376.66,264.40 L378.34,270.59 L378.83,268.53 L379.34,266.54 L379.86,264.63 L380.41,262.80 L380.97,261.05 L381.55,259.39 L382.14,257.83 L382.74,256.37 L383.35,255.00 L383.97,253.74 L384.60,252.59 L385.24,251.55 L385.88,250.62 L386.53,249.81 L387.17,249.11 L387.82,248.53 L388.46,248.07 L389.10,247.73 L389.74,247.51 L390.37,247.42 L390.99,247.45 L391.61,247.60 L392.21,247.87 L392.80,248.27 L393.38,248.78 L393.94,249.42 L394.49,250.17 L395.02,251.04 L395.53,252.02 L396.02,253.11 L396.48,254.32 L396.93,255.62 Z" fill="url(#fricd)" stroke="none"/>
<path d="M377.06,262.59 L376.63,264.51 L376.22,266.48 L375.82,268.49 L375.43,270.54 L375.06,272.63 L374.71,274.75 L374.37,276.91 L374.05,279.10 L373.74,281.31 L373.46,283.55 L373.19,285.80 L372.94,288.08 L372.71,290.37 L372.50,292.66 L372.31,294.97 L372.14,297.28 L371.98,299.59 L371.85,301.90 L371.74,304.21 L371.65,306.51 L371.58,308.79 L371.53,311.07 L371.50,313.32 L371.50,315.55 L371.51,317.76 L371.55,319.95 L371.60,322.10 L371.68,324.22 L371.77,326.31 L371.89,328.35 L372.03,330.36 L372.19,332.32 L374.71,326.01 L374.56,324.41 L374.44,322.78 L374.33,321.11 L374.23,319.40 L374.16,317.67 L374.10,315.91 L374.06,314.13 L374.04,312.33 L374.04,310.50 L374.06,308.66 L374.09,306.81 L374.14,304.94 L374.21,303.07 L374.30,301.19 L374.41,299.30 L374.53,297.41 L374.67,295.53 L374.83,293.65 L375.00,291.77 L375.20,289.90 L375.40,288.05 L375.63,286.21 L375.87,284.38 L376.12,282.58 L376.40,280.79 L376.68,279.04 L376.98,277.30 L377.30,275.60 L377.62,273.92 L377.97,272.29 L378.32,270.68 L378.69,269.12 Z" fill="url(#fric)" stroke="none"/>
<path d="M372.04,330.48 L372.25,333.06 L372.50,335.56 L372.79,337.96 L373.10,340.28 L373.45,342.49 L373.84,344.60 L374.25,346.59 L374.69,348.47 L375.17,350.22 L375.66,351.86 L376.19,353.36 L376.74,354.73 L377.32,355.96 L377.92,357.06 L378.54,358.01 L379.18,358.82 L379.83,359.48 L380.51,360.00 L381.20,360.37 L381.90,360.59 L382.61,360.66 L383.33,360.57 L384.07,360.34 L384.80,359.96 L385.55,359.43 L386.29,358.75 L387.04,357.93 L387.78,356.96 L388.53,355.86 L389.26,354.61 L390.00,353.23 L390.72,351.71 L390.90,341.91 L390.27,343.15 L389.64,344.27 L389.00,345.29 L388.36,346.19 L387.72,346.98 L387.07,347.64 L386.43,348.19 L385.78,348.62 L385.14,348.93 L384.51,349.12 L383.88,349.18 L383.26,349.12 L382.65,348.94 L382.05,348.64 L381.46,348.22 L380.88,347.67 L380.32,347.01 L379.78,346.23 L379.26,345.33 L378.75,344.32 L378.27,343.20 L377.80,341.97 L377.36,340.64 L376.95,339.20 L376.55,337.67 L376.19,336.04 L375.85,334.32 L375.53,332.51 L375.25,330.62 L374.99,328.66 L374.77,326.62 L374.57,324.51 Z" fill="url(#fricd)" stroke="none"/>
<path d="M391.06,235.95 L390.10,236.02 L389.12,236.35 L388.13,236.95 L387.14,237.81 L386.15,238.93 L385.15,240.31 L384.17,241.93 L383.19,243.80 L382.23,245.89 L381.29,248.22 L380.37,250.75 L379.48,253.49 L378.62,256.43 L377.80,259.54 L377.01,262.81 L376.27,266.24 L375.57,269.81 L374.91,273.50 L374.31,277.29 L373.76,281.18 L373.27,285.14 L372.83,289.15 L372.45,293.21 L372.14,297.28 L371.88,301.36 L371.69,305.43 L371.56,309.46 L371.50,313.45 L371.51,317.38 L371.58,321.22 L371.71,324.96 L371.91,328.59 L372.17,332.09 L372.49,335.45 L372.88,338.64 L373.32,341.67 L373.82,344.50 L374.37,347.14 L374.98,349.57 L375.64,351.79 L376.35,353.77 L377.10,355.51 L377.89,357.01 L378.72,358.26 L379.58,359.25 L380.48,359.98 L381.40,360.45 L382.34,360.65 L383.30,360.58 L384.28,360.25 L385.27,359.65 L386.26,358.79 L387.25,357.67 L388.25,356.29 L389.23,354.67 L390.21,352.80 L391.17,350.71 L392.11,348.38 L393.03,345.85 L393.92,343.11 L394.78,340.17 L395.60,337.06 L396.39,333.79 L397.13,330.36 L397.83,326.79 L398.49,323.10 L399.09,319.31 L399.64,315.42 L400.13,311.46 L400.57,307.45 L400.95,303.39 L401.26,299.32 L401.52,295.24 L401.71,291.17 L401.84,287.14 L401.90,283.15 L401.89,279.22 L401.82,275.38 L401.69,271.64 L401.49,268.01 L401.23,264.51 L400.91,261.15 L400.52,257.96 L400.08,254.93 L399.58,252.10 L399.03,249.46 L398.42,247.03 L397.76,244.81 L397.05,242.83 L396.30,241.09 L395.51,239.59 L394.68,238.34 L393.82,237.35 L392.92,236.62 L392.00,236.15 L391.06,235.95 Z" fill="none" stroke-width="0.8"/>
<path d="M390.76,247.42 L389.92,247.48 L389.07,247.74 L388.22,248.23 L387.36,248.93 L386.50,249.84 L385.64,250.96 L384.79,252.28 L383.95,253.80 L383.12,255.51 L382.31,257.40 L381.52,259.47 L380.76,261.70 L380.02,264.09 L379.31,266.63 L378.64,269.30 L378.01,272.09 L377.41,275.00 L376.86,278.01 L376.35,281.11 L375.88,284.28 L375.47,287.51 L375.10,290.78 L374.79,294.09 L374.53,297.41 L374.33,300.74 L374.17,304.06 L374.08,307.36 L374.04,310.61 L374.06,313.81 L374.13,316.95 L374.26,320.01 L374.45,322.97 L374.69,325.83 L374.98,328.57 L375.33,331.18 L375.73,333.65 L376.17,335.97 L376.67,338.12 L377.20,340.11 L377.78,341.92 L378.41,343.54 L379.06,344.96 L379.76,346.19 L380.48,347.21 L381.24,348.03 L382.02,348.62 L382.82,349.01 L383.64,349.18 L384.48,349.12 L385.33,348.86 L386.18,348.37 L387.04,347.67 L387.90,346.76 L388.76,345.64 L389.61,344.32 L390.45,342.80 L391.28,341.09 L392.09,339.20 L392.88,337.13 L393.64,334.90 L394.38,332.51 L395.09,329.97 L395.76,327.30 L396.39,324.51 L396.99,321.60 L397.54,318.59 L398.05,315.49 L398.52,312.32 L398.93,309.09 L399.30,305.82 L399.61,302.51 L399.87,299.19 L400.07,295.86 L400.23,292.54 L400.32,289.24 L400.36,285.99 L400.34,282.79 L400.27,279.65 L400.14,276.59 L399.95,273.63 L399.71,270.77 L399.42,268.03 L399.07,265.42 L398.67,262.95 L398.23,260.63 L397.73,258.48 L397.20,256.49 L396.62,254.68 L395.99,253.06 L395.34,251.64 L394.64,250.41 L393.92,249.39 L393.16,248.57 L392.38,247.98 L391.58,247.59 L390.76,247.42 Z" fill="none" stroke-width="0.6"/>
<path d="M390.88,249.92 L390.15,249.97 L389.40,250.23 L388.64,250.70 L387.88,251.36 L387.11,252.23 L386.35,253.30 L385.59,254.56 L384.84,256.01 L384.11,257.64 L383.38,259.44 L382.68,261.41 L381.99,263.54 L381.33,265.81 L380.70,268.23 L380.09,270.77 L379.52,273.43 L378.98,276.20 L378.47,279.06 L378.01,282.01 L377.58,285.02 L377.20,288.09 L376.86,291.21 L376.57,294.36 L376.33,297.52 L376.13,300.68 L375.98,303.84 L375.88,306.97 L375.83,310.07 L375.83,313.11 L375.88,316.09 L375.98,319.00 L376.13,321.81 L376.33,324.53 L376.58,327.13 L376.87,329.61 L377.21,331.96 L377.59,334.16 L378.01,336.21 L378.48,338.09 L378.98,339.81 L379.52,341.35 L380.10,342.70 L380.71,343.86 L381.34,344.83 L382.00,345.60 L382.69,346.17 L383.39,346.53 L384.12,346.68 L384.85,346.63 L385.60,346.37 L386.36,345.90 L387.12,345.24 L387.89,344.37 L388.65,343.30 L389.41,342.04 L390.16,340.59 L390.89,338.96 L391.62,337.16 L392.32,335.19 L393.01,333.06 L393.67,330.79 L394.30,328.37 L394.91,325.83 L395.48,323.17 L396.02,320.40 L396.53,317.54 L396.99,314.59 L397.42,311.58 L397.80,308.51 L398.14,305.39 L398.43,302.24 L398.67,299.08 L398.87,295.92 L399.02,292.76 L399.12,289.63 L399.17,286.53 L399.17,283.49 L399.12,280.51 L399.02,277.60 L398.87,274.79 L398.67,272.07 L398.42,269.47 L398.13,266.99 L397.79,264.64 L397.41,262.44 L396.99,260.39 L396.52,258.51 L396.02,256.79 L395.48,255.25 L394.90,253.90 L394.29,252.74 L393.66,251.77 L393.00,251.00 L392.31,250.43 L391.61,250.07 L390.88,249.92 Z" fill="none" stroke-width="0.7"/>
<path d="M403.00,233.36 L402.11,233.44 L401.19,233.80 L400.27,234.44 L399.34,235.36 L398.40,236.55 L397.46,238.01 L396.53,239.73 L395.60,241.71 L394.69,243.93 L393.79,246.39 L392.92,249.07 L392.06,251.97 L391.24,255.08 L390.44,258.37 L389.68,261.83 L388.95,265.46 L388.27,269.23 L387.63,273.13 L387.03,277.14 L386.49,281.24 L385.99,285.42 L385.55,289.67 L385.16,293.95 L384.83,298.25 L384.56,302.56 L384.35,306.85 L384.20,311.11 L384.10,315.32 L384.07,319.46 L384.10,323.52 L384.20,327.47 L384.35,331.30 L384.56,334.99 L384.83,338.53 L385.16,341.90 L385.55,345.08 L385.99,348.08 L386.49,350.86 L387.03,353.42 L387.63,355.74 L388.27,357.83 L388.95,359.66 L389.68,361.24 L390.44,362.55 L391.24,363.59 L392.06,364.35 L392.92,364.84 L393.80,365.04 L394.69,364.96 L395.61,364.60 L396.53,363.96 L397.46,363.04 L398.40,361.85 L399.34,360.39 L400.27,358.67 L401.20,356.69 L402.11,354.47 L403.01,352.01 L403.88,349.33 L404.74,346.43 L405.56,343.32 L406.36,340.03 L407.12,336.57 L407.85,332.94 L408.53,329.17 L409.17,325.27 L409.77,321.26 L410.31,317.16 L410.81,312.98 L411.25,308.73 L411.64,304.45 L411.97,300.15 L412.24,295.84 L412.45,291.55 L412.60,287.29 L412.70,283.08 L412.73,278.94 L412.70,274.88 L412.60,270.93 L412.45,267.10 L412.24,263.41 L411.97,259.87 L411.64,256.50 L411.25,253.32 L410.81,250.32 L410.31,247.54 L409.77,244.98 L409.17,242.66 L408.53,240.57 L407.85,238.74 L407.12,237.16 L406.36,235.85 L405.56,234.81 L404.74,234.05 L403.88,233.56 L403.00,233.36 Z M404.74,242.84 L404.38,242.86 L403.86,245.49 L403.51,245.67 L403.26,243.43 L402.88,243.80 L402.41,246.72 L402.04,247.23 L401.71,245.40 L401.32,246.10 L400.92,249.24 L400.55,250.06 L400.15,248.69 L399.75,249.71 L399.43,252.99 L399.06,254.10 L398.59,253.22 L398.21,254.54 L397.97,257.87 L397.61,259.26 L397.10,258.89 L396.74,260.47 L396.58,263.78 L396.25,265.40 L395.69,265.55 L395.36,267.35 L395.29,270.55 L394.99,272.36 L394.41,273.04 L394.12,275.02 L394.14,278.04 L393.88,279.99 L393.29,281.17 L393.04,283.28 L393.16,286.04 L392.94,288.10 L392.35,289.75 L392.15,291.94 L392.36,294.37 L392.19,296.47 L391.62,298.56 L391.47,300.77 L391.77,302.81 L391.65,304.92 L391.12,307.38 L391.03,309.57 L391.40,311.17 L391.34,313.22 L390.85,316.01 L390.83,318.11 L391.26,319.23 L391.26,321.18 L390.83,324.22 L390.87,326.18 L391.36,326.80 L391.42,328.59 L391.06,331.81 L391.15,333.59 L391.69,333.69 L391.81,335.29 L391.52,338.60 L391.68,340.15 L392.25,339.73 L392.42,341.09 L392.22,344.42 L392.42,345.71 L393.01,344.77 L393.23,345.86 L393.12,349.13 L393.38,350.12 L393.97,348.69 L394.24,349.49 L394.22,352.61 L394.52,353.27 L395.09,351.40 L395.40,351.87 L395.47,354.77 L395.81,355.10 L396.36,352.81 L396.69,352.96 L396.86,355.56 L397.22,355.54 L397.74,352.91 L398.09,352.73 L398.34,354.97 L398.72,354.60 L399.19,351.68 L399.56,351.17 L399.89,353.00 L400.28,352.30 L400.68,349.16 L401.05,348.34 L401.45,349.71 L401.85,348.69 L402.17,345.41 L402.54,344.30 L403.01,345.18 L403.39,343.86 L403.63,340.53 L403.99,339.14 L404.50,339.51 L404.86,337.93 L405.02,334.62 L405.35,333.00 L405.91,332.85 L406.24,331.05 L406.31,327.85 L406.61,326.04 L407.19,325.36 L407.48,323.38 L407.46,320.36 L407.72,318.41 L408.31,317.23 L408.56,315.12 L408.44,312.36 L408.66,310.30 L409.25,308.65 L409.45,306.46 L409.24,304.03 L409.41,301.93 L409.98,299.84 L410.13,297.63 L409.83,295.59 L409.95,293.48 L410.48,291.02 L410.57,288.83 L410.20,287.23 L410.26,285.18 L410.75,282.39 L410.77,280.29 L410.34,279.17 L410.34,277.22 L410.77,274.18 L410.73,272.22 L410.24,271.60 L410.18,269.81 L410.54,266.59 L410.45,264.81 L409.91,264.71 L409.79,263.11 L410.08,259.80 L409.92,258.25 L409.35,258.67 L409.18,257.31 L409.38,253.98 L409.18,252.69 L408.59,253.63 L408.37,252.54 L408.48,249.27 L408.22,248.28 L407.63,249.71 L407.36,248.91 L407.38,245.79 L407.08,245.13 L406.51,247.00 L406.20,246.53 L406.13,243.63 L405.79,243.30 L405.24,245.59 L404.91,245.44 L404.74,242.84 Z" fill="#fff" fill-rule="evenodd" stroke-width="0.8"/>
<path d="M404.60,233.36 L403.71,233.44 L402.79,233.80 L401.87,234.44 L400.94,235.36 L400.00,236.55 L399.06,238.01 L398.13,239.73 L397.20,241.71 L396.29,243.93 L395.39,246.39 L394.52,249.07 L393.66,251.97 L392.84,255.08 L392.04,258.37 L391.28,261.83 L390.55,265.46 L389.87,269.23 L389.23,273.13 L388.63,277.14 L388.09,281.24 L387.59,285.42 L387.15,289.67 L386.76,293.95 L386.43,298.25 L386.16,302.56 L385.95,306.85 L385.80,311.11 L385.70,315.32 L385.67,319.46 L385.70,323.52 L385.80,327.47 L385.95,331.30 L386.16,334.99 L386.43,338.53 L386.76,341.90 L387.15,345.08 L387.59,348.08 L388.09,350.86 L388.63,353.42 L389.23,355.74 L389.87,357.83 L390.55,359.66 L391.28,361.24 L392.04,362.55 L392.84,363.59 L393.66,364.35 L394.52,364.84 L395.40,365.04 L396.29,364.96 L397.21,364.60 L398.13,363.96 L399.06,363.04 L400.00,361.85 L400.94,360.39 L401.87,358.67 L402.80,356.69 L403.71,354.47 L404.61,352.01 L405.48,349.33 L406.34,346.43 L407.16,343.32 L407.96,340.03 L408.72,336.57 L409.45,332.94 L410.13,329.17 L410.77,325.27 L411.37,321.26 L411.91,317.16 L412.41,312.98 L412.85,308.73 L413.24,304.45 L413.57,300.15 L413.84,295.84 L414.05,291.55 L414.20,287.29 L414.30,283.08 L414.33,278.94 L414.30,274.88 L414.20,270.93 L414.05,267.10 L413.84,263.41 L413.57,259.87 L413.24,256.50 L412.85,253.32 L412.41,250.32 L411.91,247.54 L411.37,244.98 L410.77,242.66 L410.13,240.57 L409.45,238.74 L408.72,237.16 L407.96,235.85 L407.16,234.81 L406.34,234.05 L405.48,233.56 L404.60,233.36 Z" fill="none" stroke-width="0.8"/>
<path d="M415.46,237.75 L414.50,237.82 L413.52,238.15 L412.53,238.75 L411.54,239.61 L410.55,240.73 L409.55,242.11 L408.57,243.73 L407.59,245.60 L406.63,247.69 L405.69,250.02 L404.77,252.55 L403.88,255.29 L403.02,258.23 L402.20,261.34 L401.41,264.61 L400.67,268.04 L399.97,271.61 L399.31,275.30 L398.71,279.09 L398.16,282.98 L397.67,286.94 L397.23,290.95 L396.85,295.01 L396.54,299.08 L396.28,303.16 L396.09,307.23 L395.96,311.26 L395.90,315.25 L395.91,319.18 L395.98,323.02 L396.11,326.76 L396.31,330.39 L396.57,333.89 L396.89,337.25 L397.28,340.44 L397.72,343.47 L398.22,346.30 L398.77,348.94 L399.38,351.37 L400.04,353.59 L400.75,355.57 L401.50,357.31 L402.29,358.81 L403.12,360.06 L403.98,361.05 L404.88,361.78 L405.80,362.25 L406.74,362.45 L407.70,362.38 L408.68,362.05 L409.67,361.45 L410.66,360.59 L411.65,359.47 L412.65,358.09 L413.63,356.47 L414.61,354.60 L415.57,352.51 L416.51,350.18 L417.43,347.65 L418.32,344.91 L419.18,341.97 L420.00,338.86 L420.79,335.59 L421.53,332.16 L422.23,328.59 L422.89,324.90 L423.49,321.11 L424.04,317.22 L424.53,313.26 L424.97,309.25 L425.35,305.19 L425.66,301.12 L425.92,297.04 L426.11,292.97 L426.24,288.94 L426.30,284.95 L426.29,281.02 L426.22,277.18 L426.09,273.44 L425.89,269.81 L425.63,266.31 L425.31,262.95 L424.92,259.76 L424.48,256.73 L423.98,253.90 L423.43,251.26 L422.82,248.83 L422.16,246.61 L421.45,244.63 L420.70,242.89 L419.91,241.39 L419.08,240.14 L418.22,239.15 L417.32,238.42 L416.40,237.95 L415.46,237.75 Z M417.48,251.72 L416.75,251.77 L416.00,252.03 L415.24,252.50 L414.48,253.16 L413.71,254.03 L412.95,255.10 L412.19,256.36 L411.44,257.81 L410.71,259.44 L409.98,261.24 L409.28,263.21 L408.59,265.34 L407.93,267.61 L407.30,270.03 L406.69,272.57 L406.12,275.23 L405.58,278.00 L405.07,280.86 L404.61,283.81 L404.18,286.82 L403.80,289.89 L403.46,293.01 L403.17,296.16 L402.93,299.32 L402.73,302.48 L402.58,305.64 L402.48,308.77 L402.43,311.87 L402.43,314.91 L402.48,317.89 L402.58,320.80 L402.73,323.61 L402.93,326.33 L403.18,328.93 L403.47,331.41 L403.81,333.76 L404.19,335.96 L404.61,338.01 L405.08,339.89 L405.58,341.61 L406.12,343.15 L406.70,344.50 L407.31,345.66 L407.94,346.63 L408.60,347.40 L409.29,347.97 L409.99,348.33 L410.72,348.48 L411.45,348.43 L412.20,348.17 L412.96,347.70 L413.72,347.04 L414.49,346.17 L415.25,345.10 L416.01,343.84 L416.76,342.39 L417.49,340.76 L418.22,338.96 L418.92,336.99 L419.61,334.86 L420.27,332.59 L420.90,330.17 L421.51,327.63 L422.08,324.97 L422.62,322.20 L423.13,319.34 L423.59,316.39 L424.02,313.38 L424.40,310.31 L424.74,307.19 L425.03,304.04 L425.27,300.88 L425.47,297.72 L425.62,294.56 L425.72,291.43 L425.77,288.33 L425.77,285.29 L425.72,282.31 L425.62,279.40 L425.47,276.59 L425.27,273.87 L425.02,271.27 L424.73,268.79 L424.39,266.44 L424.01,264.24 L423.59,262.19 L423.12,260.31 L422.62,258.59 L422.08,257.05 L421.50,255.70 L420.89,254.54 L420.26,253.57 L419.60,252.80 L418.91,252.23 L418.21,251.87 L417.48,251.72 Z" fill="#fff" fill-rule="evenodd" stroke-width="0.8"/>
<path d="M415.23,231.33 L417.43,231.33 L422.54,234.49 L420.34,234.49 Z" fill="#fff" stroke-width="0.75"/>
<path d="M414.52,237.75 L415.23,231.33 L420.34,234.49 L419.62,240.90 Z" fill="#fff" stroke-width="0.75"/>
<path d="M416.72,237.75 L417.43,231.33 L422.54,234.49 L421.82,240.90 Z" fill="#fff" stroke-width="0.75"/>
<path d="M411.31,233.56 L413.51,233.56 L419.14,231.48 L416.94,231.48 Z" fill="#fff" stroke-width="0.75"/>
<path d="M411.08,240.02 L411.31,233.56 L416.94,231.48 L416.71,237.95 Z" fill="#fff" stroke-width="0.75"/>
<path d="M413.28,240.02 L413.51,233.56 L419.14,231.48 L418.91,237.95 Z" fill="#fff" stroke-width="0.75"/>
<path d="M404.84,249.67 L407.04,249.67 L408.97,244.84 L406.77,244.84 Z" fill="#fff" stroke-width="0.75"/>
<path d="M405.34,252.30 L404.84,249.67 L406.77,244.84 L407.27,247.47 Z" fill="#fff" stroke-width="0.75"/>
<path d="M407.54,252.30 L407.04,249.67 L408.97,244.84 L409.47,247.47 Z" fill="#fff" stroke-width="0.75"/>
<path d="M396.47,290.34 L398.67,290.34 L400.46,276.46 L398.26,276.46 Z" fill="#fff" stroke-width="0.75"/>
<path d="M397.60,291.25 L396.47,290.34 L398.26,276.46 L399.38,277.36 Z" fill="#fff" stroke-width="0.75"/>
<path d="M399.80,291.25 L398.67,290.34 L400.46,276.46 L401.58,277.36 Z" fill="#fff" stroke-width="0.75"/>
<path d="M395.09,321.73 L397.29,321.73 L397.46,307.73 L395.26,307.73 Z" fill="#fff" stroke-width="0.75"/>
<path d="M396.33,320.99 L395.09,321.73 L395.26,307.73 L396.50,306.99 Z" fill="#fff" stroke-width="0.75"/>
<path d="M398.53,320.99 L397.29,321.73 L397.46,307.73 L398.70,306.99 Z" fill="#fff" stroke-width="0.75"/>
<path d="M398.93,353.54 L401.13,353.54 L399.94,348.47 L397.74,348.47 Z" fill="#fff" stroke-width="0.75"/>
<path d="M399.80,351.04 L398.93,353.54 L397.74,348.47 L398.61,345.97 Z" fill="#fff" stroke-width="0.75"/>
<path d="M402.00,351.04 L401.13,353.54 L399.94,348.47 L400.81,345.97 Z" fill="#fff" stroke-width="0.75"/>
<path d="M406.60,368.84 L408.80,368.84 L403.89,365.39 L401.69,365.39 Z" fill="#fff" stroke-width="0.75"/>
<path d="M407.35,362.44 L406.60,368.84 L401.69,365.39 L402.44,358.99 Z" fill="#fff" stroke-width="0.75"/>
<path d="M409.55,362.44 L408.80,368.84 L403.89,365.39 L404.64,358.99 Z" fill="#fff" stroke-width="0.75"/>
<path d="M410.66,366.92 L412.86,366.92 L407.11,368.63 L404.91,368.63 Z" fill="#fff" stroke-width="0.75"/>
<path d="M410.93,360.45 L410.66,366.92 L404.91,368.63 L405.18,362.16 Z" fill="#fff" stroke-width="0.75"/>
<path d="M413.13,360.45 L412.86,366.92 L407.11,368.63 L407.38,362.16 Z" fill="#fff" stroke-width="0.75"/>
<path d="M426.23,302.80 L428.43,302.80 L427.71,310.77 L425.51,310.77 Z" fill="#fff" stroke-width="0.75"/>
<path d="M425.10,302.44 L426.23,302.80 L425.51,310.77 L424.38,310.41 Z" fill="#fff" stroke-width="0.75"/>
<path d="M427.30,302.44 L428.43,302.80 L427.71,310.77 L426.58,310.41 Z" fill="#fff" stroke-width="0.75"/>
<path d="M424.72,247.77 L424.21,246.17 L423.68,244.69 L423.12,243.36 L422.54,242.16 L421.93,241.10 L421.31,240.18 L420.67,239.40 L420.00,238.78 L419.33,238.30 L418.63,237.96 L417.93,237.78 L417.21,237.75 L416.49,237.87 L415.75,238.14 L415.02,238.56 L414.27,239.12 L413.53,239.83 L412.78,240.69 L412.04,241.69 L411.29,242.84 L410.56,244.12 L409.83,245.53 L409.10,247.08 L408.39,248.75 L407.69,250.55 L407.01,252.47 L406.33,254.50 L405.68,256.64 L405.04,258.88 L404.43,261.23 L403.83,263.67 L403.26,266.20 L404.94,272.39 L405.43,270.33 L405.94,268.34 L406.46,266.43 L407.01,264.60 L407.57,262.85 L408.15,261.19 L408.74,259.63 L409.34,258.17 L409.95,256.80 L410.57,255.54 L411.20,254.39 L411.84,253.35 L412.48,252.42 L413.13,251.61 L413.77,250.91 L414.42,250.33 L415.06,249.87 L415.70,249.53 L416.34,249.31 L416.97,249.22 L417.59,249.25 L418.21,249.40 L418.81,249.67 L419.40,250.07 L419.98,250.58 L420.54,251.22 L421.09,251.97 L421.62,252.84 L422.13,253.82 L422.62,254.91 L423.08,256.12 L423.53,257.42 Z" fill="url(#fricd)" stroke="none"/>
<path d="M403.66,264.39 L403.23,266.31 L402.82,268.28 L402.42,270.29 L402.03,272.34 L401.66,274.43 L401.31,276.55 L400.97,278.71 L400.65,280.90 L400.34,283.11 L400.06,285.35 L399.79,287.60 L399.54,289.88 L399.31,292.17 L399.10,294.46 L398.91,296.77 L398.74,299.08 L398.58,301.39 L398.45,303.70 L398.34,306.01 L398.25,308.31 L398.18,310.59 L398.13,312.87 L398.10,315.12 L398.10,317.35 L398.11,319.56 L398.15,321.75 L398.20,323.90 L398.28,326.02 L398.37,328.11 L398.49,330.15 L398.63,332.16 L398.79,334.12 L401.31,327.81 L401.16,326.21 L401.04,324.58 L400.93,322.91 L400.83,321.20 L400.76,319.47 L400.70,317.71 L400.66,315.93 L400.64,314.13 L400.64,312.30 L400.66,310.46 L400.69,308.61 L400.74,306.74 L400.81,304.87 L400.90,302.99 L401.01,301.10 L401.13,299.21 L401.27,297.33 L401.43,295.45 L401.60,293.57 L401.80,291.70 L402.00,289.85 L402.23,288.01 L402.47,286.18 L402.72,284.38 L403.00,282.59 L403.28,280.84 L403.58,279.10 L403.90,277.40 L404.22,275.72 L404.57,274.09 L404.92,272.48 L405.29,270.92 Z" fill="url(#fric)" stroke="none"/>
<path d="M398.64,332.28 L398.85,334.86 L399.10,337.36 L399.39,339.76 L399.70,342.08 L400.05,344.29 L400.44,346.40 L400.85,348.39 L401.29,350.27 L401.77,352.02 L402.26,353.66 L402.79,355.16 L403.34,356.53 L403.92,357.76 L404.52,358.86 L405.14,359.81 L405.78,360.62 L406.43,361.28 L407.11,361.80 L407.80,362.17 L408.50,362.39 L409.21,362.46 L409.93,362.37 L410.67,362.14 L411.40,361.76 L412.15,361.23 L412.89,360.55 L413.64,359.73 L414.38,358.76 L415.13,357.66 L415.86,356.41 L416.60,355.03 L417.32,353.51 L417.50,343.71 L416.87,344.95 L416.24,346.07 L415.60,347.09 L414.96,347.99 L414.32,348.78 L413.67,349.44 L413.03,349.99 L412.38,350.42 L411.74,350.73 L411.11,350.92 L410.48,350.98 L409.86,350.92 L409.25,350.74 L408.65,350.44 L408.06,350.02 L407.48,349.47 L406.92,348.81 L406.38,348.03 L405.86,347.13 L405.35,346.12 L404.87,345.00 L404.40,343.77 L403.96,342.44 L403.55,341.00 L403.15,339.47 L402.79,337.84 L402.45,336.12 L402.13,334.31 L401.85,332.42 L401.59,330.46 L401.37,328.42 L401.17,326.31 Z" fill="url(#fricd)" stroke="none"/>
<path d="M417.66,237.75 L416.70,237.82 L415.72,238.15 L414.73,238.75 L413.74,239.61 L412.75,240.73 L411.75,242.11 L410.77,243.73 L409.79,245.60 L408.83,247.69 L407.89,250.02 L406.97,252.55 L406.08,255.29 L405.22,258.23 L404.40,261.34 L403.61,264.61 L402.87,268.04 L402.17,271.61 L401.51,275.30 L400.91,279.09 L400.36,282.98 L399.87,286.94 L399.43,290.95 L399.05,295.01 L398.74,299.08 L398.48,303.16 L398.29,307.23 L398.16,311.26 L398.10,315.25 L398.11,319.18 L398.18,323.02 L398.31,326.76 L398.51,330.39 L398.77,333.89 L399.09,337.25 L399.48,340.44 L399.92,343.47 L400.42,346.30 L400.97,348.94 L401.58,351.37 L402.24,353.59 L402.95,355.57 L403.70,357.31 L404.49,358.81 L405.32,360.06 L406.18,361.05 L407.08,361.78 L408.00,362.25 L408.94,362.45 L409.90,362.38 L410.88,362.05 L411.87,361.45 L412.86,360.59 L413.85,359.47 L414.85,358.09 L415.83,356.47 L416.81,354.60 L417.77,352.51 L418.71,350.18 L419.63,347.65 L420.52,344.91 L421.38,341.97 L422.20,338.86 L422.99,335.59 L423.73,332.16 L424.43,328.59 L425.09,324.90 L425.69,321.11 L426.24,317.22 L426.73,313.26 L427.17,309.25 L427.55,305.19 L427.86,301.12 L428.12,297.04 L428.31,292.97 L428.44,288.94 L428.50,284.95 L428.49,281.02 L428.42,277.18 L428.29,273.44 L428.09,269.81 L427.83,266.31 L427.51,262.95 L427.12,259.76 L426.68,256.73 L426.18,253.90 L425.63,251.26 L425.02,248.83 L424.36,246.61 L423.65,244.63 L422.90,242.89 L422.11,241.39 L421.28,240.14 L420.42,239.15 L419.52,238.42 L418.60,237.95 L417.66,237.75 Z" fill="none" stroke-width="0.8"/>
<path d="M417.36,249.22 L416.52,249.28 L415.67,249.54 L414.82,250.03 L413.96,250.73 L413.10,251.64 L412.24,252.76 L411.39,254.08 L410.55,255.60 L409.72,257.31 L408.91,259.20 L408.12,261.27 L407.36,263.50 L406.62,265.89 L405.91,268.43 L405.24,271.10 L404.61,273.89 L404.01,276.80 L403.46,279.81 L402.95,282.91 L402.48,286.08 L402.07,289.31 L401.70,292.58 L401.39,295.89 L401.13,299.21 L400.93,302.54 L400.77,305.86 L400.68,309.16 L400.64,312.41 L400.66,315.61 L400.73,318.75 L400.86,321.81 L401.05,324.77 L401.29,327.63 L401.58,330.37 L401.93,332.98 L402.33,335.45 L402.77,337.77 L403.27,339.92 L403.80,341.91 L404.38,343.72 L405.01,345.34 L405.66,346.76 L406.36,347.99 L407.08,349.01 L407.84,349.83 L408.62,350.42 L409.42,350.81 L410.24,350.98 L411.08,350.92 L411.93,350.66 L412.78,350.17 L413.64,349.47 L414.50,348.56 L415.36,347.44 L416.21,346.12 L417.05,344.60 L417.88,342.89 L418.69,341.00 L419.48,338.93 L420.24,336.70 L420.98,334.31 L421.69,331.77 L422.36,329.10 L422.99,326.31 L423.59,323.40 L424.14,320.39 L424.65,317.29 L425.12,314.12 L425.53,310.89 L425.90,307.62 L426.21,304.31 L426.47,300.99 L426.67,297.66 L426.83,294.34 L426.92,291.04 L426.96,287.79 L426.94,284.59 L426.87,281.45 L426.74,278.39 L426.55,275.43 L426.31,272.57 L426.02,269.83 L425.67,267.22 L425.27,264.75 L424.83,262.43 L424.33,260.28 L423.80,258.29 L423.22,256.48 L422.59,254.86 L421.94,253.44 L421.24,252.21 L420.52,251.19 L419.76,250.37 L418.98,249.78 L418.18,249.39 L417.36,249.22 Z" fill="none" stroke-width="0.6"/>
<path d="M417.48,251.72 L416.75,251.77 L416.00,252.03 L415.24,252.50 L414.48,253.16 L413.71,254.03 L412.95,255.10 L412.19,256.36 L411.44,257.81 L410.71,259.44 L409.98,261.24 L409.28,263.21 L408.59,265.34 L407.93,267.61 L407.30,270.03 L406.69,272.57 L406.12,275.23 L405.58,278.00 L405.07,280.86 L404.61,283.81 L404.18,286.82 L403.80,289.89 L403.46,293.01 L403.17,296.16 L402.93,299.32 L402.73,302.48 L402.58,305.64 L402.48,308.77 L402.43,311.87 L402.43,314.91 L402.48,317.89 L402.58,320.80 L402.73,323.61 L402.93,326.33 L403.18,328.93 L403.47,331.41 L403.81,333.76 L404.19,335.96 L404.61,338.01 L405.08,339.89 L405.58,341.61 L406.12,343.15 L406.70,344.50 L407.31,345.66 L407.94,346.63 L408.60,347.40 L409.29,347.97 L409.99,348.33 L410.72,348.48 L411.45,348.43 L412.20,348.17 L412.96,347.70 L413.72,347.04 L414.49,346.17 L415.25,345.10 L416.01,343.84 L416.76,342.39 L417.49,340.76 L418.22,338.96 L418.92,336.99 L419.61,334.86 L420.27,332.59 L420.90,330.17 L421.51,327.63 L422.08,324.97 L422.62,322.20 L423.13,319.34 L423.59,316.39 L424.02,313.38 L424.40,310.31 L424.74,307.19 L425.03,304.04 L425.27,300.88 L425.47,297.72 L425.62,294.56 L425.72,291.43 L425.77,288.33 L425.77,285.29 L425.72,282.31 L425.62,279.40 L425.47,276.59 L425.27,273.87 L425.02,271.27 L424.73,268.79 L424.39,266.44 L424.01,264.24 L423.59,262.19 L423.12,260.31 L422.62,258.59 L422.08,257.05 L421.50,255.70 L420.89,254.54 L420.26,253.57 L419.60,252.80 L418.91,252.23 L418.21,251.87 L417.48,251.72 Z" fill="none" stroke-width="0.7"/>
<path d="M429.60,235.16 L428.71,235.24 L427.79,235.60 L426.87,236.24 L425.94,237.16 L425.00,238.35 L424.06,239.81 L423.13,241.53 L422.20,243.51 L421.29,245.73 L420.39,248.19 L419.52,250.87 L418.66,253.77 L417.84,256.88 L417.04,260.17 L416.28,263.63 L415.55,267.26 L414.87,271.03 L414.23,274.93 L413.63,278.94 L413.09,283.04 L412.59,287.22 L412.15,291.47 L411.76,295.75 L411.43,300.05 L411.16,304.36 L410.95,308.65 L410.80,312.91 L410.70,317.12 L410.67,321.26 L410.70,325.32 L410.80,329.27 L410.95,333.10 L411.16,336.79 L411.43,340.33 L411.76,343.70 L412.15,346.88 L412.59,349.88 L413.09,352.66 L413.63,355.22 L414.23,357.54 L414.87,359.63 L415.55,361.46 L416.28,363.04 L417.04,364.35 L417.84,365.39 L418.66,366.15 L419.52,366.64 L420.40,366.84 L421.29,366.76 L422.21,366.40 L423.13,365.76 L424.06,364.84 L425.00,363.65 L425.94,362.19 L426.87,360.47 L427.80,358.49 L428.71,356.27 L429.61,353.81 L430.48,351.13 L431.34,348.23 L432.16,345.12 L432.96,341.83 L433.72,338.37 L434.45,334.74 L435.13,330.97 L435.77,327.07 L436.37,323.06 L436.91,318.96 L437.41,314.78 L437.85,310.53 L438.24,306.25 L438.57,301.95 L438.84,297.64 L439.05,293.35 L439.20,289.09 L439.30,284.88 L439.33,280.74 L439.30,276.68 L439.20,272.73 L439.05,268.90 L438.84,265.21 L438.57,261.67 L438.24,258.30 L437.85,255.12 L437.41,252.12 L436.91,249.34 L436.37,246.78 L435.77,244.46 L435.13,242.37 L434.45,240.54 L433.72,238.96 L432.96,237.65 L432.16,236.61 L431.34,235.85 L430.48,235.36 L429.60,235.16 Z M431.34,244.64 L430.98,244.66 L430.46,247.29 L430.11,247.47 L429.86,245.23 L429.48,245.60 L429.01,248.52 L428.64,249.03 L428.31,247.20 L427.92,247.90 L427.52,251.04 L427.15,251.86 L426.75,250.49 L426.35,251.51 L426.03,254.79 L425.66,255.90 L425.19,255.02 L424.81,256.34 L424.57,259.67 L424.21,261.06 L423.70,260.69 L423.34,262.27 L423.18,265.58 L422.85,267.20 L422.29,267.35 L421.96,269.15 L421.89,272.35 L421.59,274.16 L421.01,274.84 L420.72,276.82 L420.74,279.84 L420.48,281.79 L419.89,282.97 L419.64,285.08 L419.76,287.84 L419.54,289.90 L418.95,291.55 L418.75,293.74 L418.96,296.17 L418.79,298.27 L418.22,300.36 L418.07,302.57 L418.37,304.61 L418.25,306.72 L417.72,309.18 L417.63,311.37 L418.00,312.97 L417.94,315.02 L417.45,317.81 L417.43,319.91 L417.86,321.03 L417.86,322.98 L417.43,326.02 L417.47,327.98 L417.96,328.60 L418.02,330.39 L417.66,333.61 L417.75,335.39 L418.29,335.49 L418.41,337.09 L418.12,340.40 L418.28,341.95 L418.85,341.53 L419.02,342.89 L418.82,346.22 L419.02,347.51 L419.61,346.57 L419.83,347.66 L419.72,350.93 L419.98,351.92 L420.57,350.49 L420.84,351.29 L420.82,354.41 L421.12,355.07 L421.69,353.20 L422.00,353.67 L422.07,356.57 L422.41,356.90 L422.96,354.61 L423.29,354.76 L423.46,357.36 L423.82,357.34 L424.34,354.71 L424.69,354.53 L424.94,356.77 L425.32,356.40 L425.79,353.48 L426.16,352.97 L426.49,354.80 L426.88,354.10 L427.28,350.96 L427.65,350.14 L428.05,351.51 L428.45,350.49 L428.77,347.21 L429.14,346.10 L429.61,346.98 L429.99,345.66 L430.23,342.33 L430.59,340.94 L431.10,341.31 L431.46,339.73 L431.62,336.42 L431.95,334.80 L432.51,334.65 L432.84,332.85 L432.91,329.65 L433.21,327.84 L433.79,327.16 L434.08,325.18 L434.06,322.16 L434.32,320.21 L434.91,319.03 L435.16,316.92 L435.04,314.16 L435.26,312.10 L435.85,310.45 L436.05,308.26 L435.84,305.83 L436.01,303.73 L436.58,301.64 L436.73,299.43 L436.43,297.39 L436.55,295.28 L437.08,292.82 L437.17,290.63 L436.80,289.03 L436.86,286.98 L437.35,284.19 L437.37,282.09 L436.94,280.97 L436.94,279.02 L437.37,275.98 L437.33,274.02 L436.84,273.40 L436.78,271.61 L437.14,268.39 L437.05,266.61 L436.51,266.51 L436.39,264.91 L436.68,261.60 L436.52,260.05 L435.95,260.47 L435.78,259.11 L435.98,255.78 L435.78,254.49 L435.19,255.43 L434.97,254.34 L435.08,251.07 L434.82,250.08 L434.23,251.51 L433.96,250.71 L433.98,247.59 L433.68,246.93 L433.11,248.80 L432.80,248.33 L432.73,245.43 L432.39,245.10 L431.84,247.39 L431.51,247.24 L431.34,244.64 Z" fill="#fff" fill-rule="evenodd" stroke-width="0.8"/>
<path d="M431.20,235.16 L430.31,235.24 L429.39,235.60 L428.47,236.24 L427.54,237.16 L426.60,238.35 L425.66,239.81 L424.73,241.53 L423.80,243.51 L422.89,245.73 L421.99,248.19 L421.12,250.87 L420.26,253.77 L419.44,256.88 L418.64,260.17 L417.88,263.63 L417.15,267.26 L416.47,271.03 L415.83,274.93 L415.23,278.94 L414.69,283.04 L414.19,287.22 L413.75,291.47 L413.36,295.75 L413.03,300.05 L412.76,304.36 L412.55,308.65 L412.40,312.91 L412.30,317.12 L412.27,321.26 L412.30,325.32 L412.40,329.27 L412.55,333.10 L412.76,336.79 L413.03,340.33 L413.36,343.70 L413.75,346.88 L414.19,349.88 L414.69,352.66 L415.23,355.22 L415.83,357.54 L416.47,359.63 L417.15,361.46 L417.88,363.04 L418.64,364.35 L419.44,365.39 L420.26,366.15 L421.12,366.64 L422.00,366.84 L422.89,366.76 L423.81,366.40 L424.73,365.76 L425.66,364.84 L426.60,363.65 L427.54,362.19 L428.47,360.47 L429.40,358.49 L430.31,356.27 L431.21,353.81 L432.08,351.13 L432.94,348.23 L433.76,345.12 L434.56,341.83 L435.32,338.37 L436.05,334.74 L436.73,330.97 L437.37,327.07 L437.97,323.06 L438.51,318.96 L439.01,314.78 L439.45,310.53 L439.84,306.25 L440.17,301.95 L440.44,297.64 L440.65,293.35 L440.80,289.09 L440.90,284.88 L440.93,280.74 L440.90,276.68 L440.80,272.73 L440.65,268.90 L440.44,265.21 L440.17,261.67 L439.84,258.30 L439.45,255.12 L439.01,252.12 L438.51,249.34 L437.97,246.78 L437.37,244.46 L436.73,242.37 L436.05,240.54 L435.32,238.96 L434.56,237.65 L433.76,236.61 L432.94,235.85 L432.08,235.36 L431.20,235.16 Z" fill="none" stroke-width="0.8"/>
<path d="M442.06,239.55 L441.10,239.62 L440.12,239.95 L439.13,240.55 L438.14,241.41 L437.15,242.53 L436.15,243.91 L435.17,245.53 L434.19,247.40 L433.23,249.49 L432.29,251.82 L431.37,254.35 L430.48,257.09 L429.62,260.03 L428.80,263.14 L428.01,266.41 L427.27,269.84 L426.57,273.41 L425.91,277.10 L425.31,280.89 L424.76,284.78 L424.27,288.74 L423.83,292.75 L423.45,296.81 L423.14,300.88 L422.88,304.96 L422.69,309.03 L422.56,313.06 L422.50,317.05 L422.51,320.98 L422.58,324.82 L422.71,328.56 L422.91,332.19 L423.17,335.69 L423.49,339.05 L423.88,342.24 L424.32,345.27 L424.82,348.10 L425.37,350.74 L425.98,353.17 L426.64,355.39 L427.35,357.37 L428.10,359.11 L428.89,360.61 L429.72,361.86 L430.58,362.85 L431.48,363.58 L432.40,364.05 L433.34,364.25 L434.30,364.18 L435.28,363.85 L436.27,363.25 L437.26,362.39 L438.25,361.27 L439.25,359.89 L440.23,358.27 L441.21,356.40 L442.17,354.31 L443.11,351.98 L444.03,349.45 L444.92,346.71 L445.78,343.77 L446.60,340.66 L447.39,337.39 L448.13,333.96 L448.83,330.39 L449.49,326.70 L450.09,322.91 L450.64,319.02 L451.13,315.06 L451.57,311.05 L451.95,306.99 L452.26,302.92 L452.52,298.84 L452.71,294.77 L452.84,290.74 L452.90,286.75 L452.89,282.82 L452.82,278.98 L452.69,275.24 L452.49,271.61 L452.23,268.11 L451.91,264.75 L451.52,261.56 L451.08,258.53 L450.58,255.70 L450.03,253.06 L449.42,250.63 L448.76,248.41 L448.05,246.43 L447.30,244.69 L446.51,243.19 L445.68,241.94 L444.82,240.95 L443.92,240.22 L443.00,239.75 L442.06,239.55 Z M444.08,253.52 L443.35,253.57 L442.60,253.83 L441.84,254.30 L441.08,254.96 L440.31,255.83 L439.55,256.90 L438.79,258.16 L438.04,259.61 L437.31,261.24 L436.58,263.04 L435.88,265.01 L435.19,267.14 L434.53,269.41 L433.90,271.83 L433.29,274.37 L432.72,277.03 L432.18,279.80 L431.67,282.66 L431.21,285.61 L430.78,288.62 L430.40,291.69 L430.06,294.81 L429.77,297.96 L429.53,301.12 L429.33,304.28 L429.18,307.44 L429.08,310.57 L429.03,313.67 L429.03,316.71 L429.08,319.69 L429.18,322.60 L429.33,325.41 L429.53,328.13 L429.78,330.73 L430.07,333.21 L430.41,335.56 L430.79,337.76 L431.21,339.81 L431.68,341.69 L432.18,343.41 L432.72,344.95 L433.30,346.30 L433.91,347.46 L434.54,348.43 L435.20,349.20 L435.89,349.77 L436.59,350.13 L437.32,350.28 L438.05,350.23 L438.80,349.97 L439.56,349.50 L440.32,348.84 L441.09,347.97 L441.85,346.90 L442.61,345.64 L443.36,344.19 L444.09,342.56 L444.82,340.76 L445.52,338.79 L446.21,336.66 L446.87,334.39 L447.50,331.97 L448.11,329.43 L448.68,326.77 L449.22,324.00 L449.73,321.14 L450.19,318.19 L450.62,315.18 L451.00,312.11 L451.34,308.99 L451.63,305.84 L451.87,302.68 L452.07,299.52 L452.22,296.36 L452.32,293.23 L452.37,290.13 L452.37,287.09 L452.32,284.11 L452.22,281.20 L452.07,278.39 L451.87,275.67 L451.62,273.07 L451.33,270.59 L450.99,268.24 L450.61,266.04 L450.19,263.99 L449.72,262.11 L449.22,260.39 L448.68,258.85 L448.10,257.50 L447.49,256.34 L446.86,255.37 L446.20,254.60 L445.51,254.03 L444.81,253.67 L444.08,253.52 Z" fill="#fff" fill-rule="evenodd" stroke-width="0.8"/>
<path d="M441.83,233.13 L444.03,233.13 L449.14,236.29 L446.94,236.29 Z" fill="#fff" stroke-width="0.75"/>
<path d="M441.12,239.55 L441.83,233.13 L446.94,236.29 L446.22,242.70 Z" fill="#fff" stroke-width="0.75"/>
<path d="M443.32,239.55 L444.03,233.13 L449.14,236.29 L448.42,242.70 Z" fill="#fff" stroke-width="0.75"/>
<path d="M437.91,235.36 L440.11,235.36 L445.74,233.28 L443.54,233.28 Z" fill="#fff" stroke-width="0.75"/>
<path d="M437.68,241.82 L437.91,235.36 L443.54,233.28 L443.31,239.75 Z" fill="#fff" stroke-width="0.75"/>
<path d="M439.88,241.82 L440.11,235.36 L445.74,233.28 L445.51,239.75 Z" fill="#fff" stroke-width="0.75"/>
<path d="M431.44,251.47 L433.64,251.47 L435.57,246.64 L433.37,246.64 Z" fill="#fff" stroke-width="0.75"/>
<path d="M431.94,254.10 L431.44,251.47 L433.37,246.64 L433.87,249.27 Z" fill="#fff" stroke-width="0.75"/>
<path d="M434.14,254.10 L433.64,251.47 L435.57,246.64 L436.07,249.27 Z" fill="#fff" stroke-width="0.75"/>
<path d="M423.07,292.14 L425.27,292.14 L427.06,278.26 L424.86,278.26 Z" fill="#fff" stroke-width="0.75"/>
<path d="M424.20,293.05 L423.07,292.14 L424.86,278.26 L425.98,279.16 Z" fill="#fff" stroke-width="0.75"/>
<path d="M426.40,293.05 L425.27,292.14 L427.06,278.26 L428.18,279.16 Z" fill="#fff" stroke-width="0.75"/>
<path d="M421.69,323.53 L423.89,323.53 L424.06,309.53 L421.86,309.53 Z" fill="#fff" stroke-width="0.75"/>
<path d="M422.93,322.79 L421.69,323.53 L421.86,309.53 L423.10,308.79 Z" fill="#fff" stroke-width="0.75"/>
<path d="M425.13,322.79 L423.89,323.53 L424.06,309.53 L425.30,308.79 Z" fill="#fff" stroke-width="0.75"/>
<path d="M425.53,355.34 L427.73,355.34 L426.54,350.27 L424.34,350.27 Z" fill="#fff" stroke-width="0.75"/>
<path d="M426.40,352.84 L425.53,355.34 L424.34,350.27 L425.21,347.77 Z" fill="#fff" stroke-width="0.75"/>
<path d="M428.60,352.84 L427.73,355.34 L426.54,350.27 L427.41,347.77 Z" fill="#fff" stroke-width="0.75"/>
<path d="M433.20,370.64 L435.40,370.64 L430.49,367.19 L428.29,367.19 Z" fill="#fff" stroke-width="0.75"/>
<path d="M433.95,364.24 L433.20,370.64 L428.29,367.19 L429.04,360.79 Z" fill="#fff" stroke-width="0.75"/>
<path d="M436.15,364.24 L435.40,370.64 L430.49,367.19 L431.24,360.79 Z" fill="#fff" stroke-width="0.75"/>
<path d="M437.26,368.72 L439.46,368.72 L433.71,370.43 L431.51,370.43 Z" fill="#fff" stroke-width="0.75"/>
<path d="M437.53,362.25 L437.26,368.72 L431.51,370.43 L431.78,363.96 Z" fill="#fff" stroke-width="0.75"/>
<path d="M439.73,362.25 L439.46,368.72 L433.71,370.43 L433.98,363.96 Z" fill="#fff" stroke-width="0.75"/>
<path d="M452.83,304.60 L455.03,304.60 L454.31,312.57 L452.11,312.57 Z" fill="#fff" stroke-width="0.75"/>
<path d="M451.70,304.24 L452.83,304.60 L452.11,312.57 L450.98,312.21 Z" fill="#fff" stroke-width="0.75"/>
<path d="M453.90,304.24 L455.03,304.60 L454.31,312.57 L453.18,312.21 Z" fill="#fff" stroke-width="0.75"/>
<path d="M451.32,249.57 L450.81,247.97 L450.28,246.49 L449.72,245.16 L449.14,243.96 L448.53,242.90 L447.91,241.98 L447.27,241.20 L446.60,240.58 L445.93,240.10 L445.23,239.76 L444.53,239.58 L443.81,239.55 L443.09,239.67 L442.35,239.94 L441.62,240.36 L440.87,240.92 L440.13,241.63 L439.38,242.49 L438.64,243.49 L437.89,244.64 L437.16,245.92 L436.43,247.33 L435.70,248.88 L434.99,250.55 L434.29,252.35 L433.61,254.27 L432.93,256.30 L432.28,258.44 L431.64,260.68 L431.03,263.03 L430.43,265.47 L429.86,268.00 L431.54,274.19 L432.03,272.13 L432.54,270.14 L433.06,268.23 L433.61,266.40 L434.17,264.65 L434.75,262.99 L435.34,261.43 L435.94,259.97 L436.55,258.60 L437.17,257.34 L437.80,256.19 L438.44,255.15 L439.08,254.22 L439.73,253.41 L440.37,252.71 L441.02,252.13 L441.66,251.67 L442.30,251.33 L442.94,251.11 L443.57,251.02 L444.19,251.05 L444.81,251.20 L445.41,251.47 L446.00,251.87 L446.58,252.38 L447.14,253.02 L447.69,253.77 L448.22,254.64 L448.73,255.62 L449.22,256.71 L449.68,257.92 L450.13,259.22 Z" fill="url(#fricd)" stroke="none"/>
<path d="M430.26,266.19 L429.83,268.11 L429.42,270.08 L429.02,272.09 L428.63,274.14 L428.26,276.23 L427.91,278.35 L427.57,280.51 L427.25,282.70 L426.94,284.91 L426.66,287.15 L426.39,289.40 L426.14,291.68 L425.91,293.97 L425.70,296.26 L425.51,298.57 L425.34,300.88 L425.18,303.19 L425.05,305.50 L424.94,307.81 L424.85,310.11 L424.78,312.39 L424.73,314.67 L424.70,316.92 L424.70,319.15 L424.71,321.36 L424.75,323.55 L424.80,325.70 L424.88,327.82 L424.97,329.91 L425.09,331.95 L425.23,333.96 L425.39,335.92 L427.91,329.61 L427.76,328.01 L427.64,326.38 L427.53,324.71 L427.43,323.00 L427.36,321.27 L427.30,319.51 L427.26,317.73 L427.24,315.93 L427.24,314.10 L427.26,312.26 L427.29,310.41 L427.34,308.54 L427.41,306.67 L427.50,304.79 L427.61,302.90 L427.73,301.01 L427.87,299.13 L428.03,297.25 L428.20,295.37 L428.40,293.50 L428.60,291.65 L428.83,289.81 L429.07,287.98 L429.32,286.18 L429.60,284.39 L429.88,282.64 L430.18,280.90 L430.50,279.20 L430.82,277.52 L431.17,275.89 L431.52,274.28 L431.89,272.72 Z" fill="url(#fric)" stroke="none"/>
<path d="M425.24,334.08 L425.45,336.66 L425.70,339.16 L425.99,341.56 L426.30,343.88 L426.65,346.09 L427.04,348.20 L427.45,350.19 L427.89,352.07 L428.37,353.82 L428.86,355.46 L429.39,356.96 L429.94,358.33 L430.52,359.56 L431.12,360.66 L431.74,361.61 L432.38,362.42 L433.03,363.08 L433.71,363.60 L434.40,363.97 L435.10,364.19 L435.81,364.26 L436.53,364.17 L437.27,363.94 L438.00,363.56 L438.75,363.03 L439.49,362.35 L440.24,361.53 L440.98,360.56 L441.73,359.46 L442.46,358.21 L443.20,356.83 L443.92,355.31 L444.10,345.51 L443.47,346.75 L442.84,347.87 L442.20,348.89 L441.56,349.79 L440.92,350.58 L440.27,351.24 L439.63,351.79 L438.98,352.22 L438.34,352.53 L437.71,352.72 L437.08,352.78 L436.46,352.72 L435.85,352.54 L435.25,352.24 L434.66,351.82 L434.08,351.27 L433.52,350.61 L432.98,349.83 L432.46,348.93 L431.95,347.92 L431.47,346.80 L431.00,345.57 L430.56,344.24 L430.15,342.80 L429.75,341.27 L429.39,339.64 L429.05,337.92 L428.73,336.11 L428.45,334.22 L428.19,332.26 L427.97,330.22 L427.77,328.11 Z" fill="url(#fricd)" stroke="none"/>
<path d="M444.26,239.55 L443.30,239.62 L442.32,239.95 L441.33,240.55 L440.34,241.41 L439.35,242.53 L438.35,243.91 L437.37,245.53 L436.39,247.40 L435.43,249.49 L434.49,251.82 L433.57,254.35 L432.68,257.09 L431.82,260.03 L431.00,263.14 L430.21,266.41 L429.47,269.84 L428.77,273.41 L428.11,277.10 L427.51,280.89 L426.96,284.78 L426.47,288.74 L426.03,292.75 L425.65,296.81 L425.34,300.88 L425.08,304.96 L424.89,309.03 L424.76,313.06 L424.70,317.05 L424.71,320.98 L424.78,324.82 L424.91,328.56 L425.11,332.19 L425.37,335.69 L425.69,339.05 L426.08,342.24 L426.52,345.27 L427.02,348.10 L427.57,350.74 L428.18,353.17 L428.84,355.39 L429.55,357.37 L430.30,359.11 L431.09,360.61 L431.92,361.86 L432.78,362.85 L433.68,363.58 L434.60,364.05 L435.54,364.25 L436.50,364.18 L437.48,363.85 L438.47,363.25 L439.46,362.39 L440.45,361.27 L441.45,359.89 L442.43,358.27 L443.41,356.40 L444.37,354.31 L445.31,351.98 L446.23,349.45 L447.12,346.71 L447.98,343.77 L448.80,340.66 L449.59,337.39 L450.33,333.96 L451.03,330.39 L451.69,326.70 L452.29,322.91 L452.84,319.02 L453.33,315.06 L453.77,311.05 L454.15,306.99 L454.46,302.92 L454.72,298.84 L454.91,294.77 L455.04,290.74 L455.10,286.75 L455.09,282.82 L455.02,278.98 L454.89,275.24 L454.69,271.61 L454.43,268.11 L454.11,264.75 L453.72,261.56 L453.28,258.53 L452.78,255.70 L452.23,253.06 L451.62,250.63 L450.96,248.41 L450.25,246.43 L449.50,244.69 L448.71,243.19 L447.88,241.94 L447.02,240.95 L446.12,240.22 L445.20,239.75 L444.26,239.55 Z" fill="none" stroke-width="0.8"/>
<path d="M443.96,251.02 L443.12,251.08 L442.27,251.34 L441.42,251.83 L440.56,252.53 L439.70,253.44 L438.84,254.56 L437.99,255.88 L437.15,257.40 L436.32,259.11 L435.51,261.00 L434.72,263.07 L433.96,265.30 L433.22,267.69 L432.51,270.23 L431.84,272.90 L431.21,275.69 L430.61,278.60 L430.06,281.61 L429.55,284.71 L429.08,287.88 L428.67,291.11 L428.30,294.38 L427.99,297.69 L427.73,301.01 L427.53,304.34 L427.37,307.66 L427.28,310.96 L427.24,314.21 L427.26,317.41 L427.33,320.55 L427.46,323.61 L427.65,326.57 L427.89,329.43 L428.18,332.17 L428.53,334.78 L428.93,337.25 L429.37,339.57 L429.87,341.72 L430.40,343.71 L430.98,345.52 L431.61,347.14 L432.26,348.56 L432.96,349.79 L433.68,350.81 L434.44,351.63 L435.22,352.22 L436.02,352.61 L436.84,352.78 L437.68,352.72 L438.53,352.46 L439.38,351.97 L440.24,351.27 L441.10,350.36 L441.96,349.24 L442.81,347.92 L443.65,346.40 L444.48,344.69 L445.29,342.80 L446.08,340.73 L446.84,338.50 L447.58,336.11 L448.29,333.57 L448.96,330.90 L449.59,328.11 L450.19,325.20 L450.74,322.19 L451.25,319.09 L451.72,315.92 L452.13,312.69 L452.50,309.42 L452.81,306.11 L453.07,302.79 L453.27,299.46 L453.43,296.14 L453.52,292.84 L453.56,289.59 L453.54,286.39 L453.47,283.25 L453.34,280.19 L453.15,277.23 L452.91,274.37 L452.62,271.63 L452.27,269.02 L451.87,266.55 L451.43,264.23 L450.93,262.08 L450.40,260.09 L449.82,258.28 L449.19,256.66 L448.54,255.24 L447.84,254.01 L447.12,252.99 L446.36,252.17 L445.58,251.58 L444.78,251.19 L443.96,251.02 Z" fill="none" stroke-width="0.6"/>
<path d="M444.08,253.52 L443.35,253.57 L442.60,253.83 L441.84,254.30 L441.08,254.96 L440.31,255.83 L439.55,256.90 L438.79,258.16 L438.04,259.61 L437.31,261.24 L436.58,263.04 L435.88,265.01 L435.19,267.14 L434.53,269.41 L433.90,271.83 L433.29,274.37 L432.72,277.03 L432.18,279.80 L431.67,282.66 L431.21,285.61 L430.78,288.62 L430.40,291.69 L430.06,294.81 L429.77,297.96 L429.53,301.12 L429.33,304.28 L429.18,307.44 L429.08,310.57 L429.03,313.67 L429.03,316.71 L429.08,319.69 L429.18,322.60 L429.33,325.41 L429.53,328.13 L429.78,330.73 L430.07,333.21 L430.41,335.56 L430.79,337.76 L431.21,339.81 L431.68,341.69 L432.18,343.41 L432.72,344.95 L433.30,346.30 L433.91,347.46 L434.54,348.43 L435.20,349.20 L435.89,349.77 L436.59,350.13 L437.32,350.28 L438.05,350.23 L438.80,349.97 L439.56,349.50 L440.32,348.84 L441.09,347.97 L441.85,346.90 L442.61,345.64 L443.36,344.19 L444.09,342.56 L444.82,340.76 L445.52,338.79 L446.21,336.66 L446.87,334.39 L447.50,331.97 L448.11,329.43 L448.68,326.77 L449.22,324.00 L449.73,321.14 L450.19,318.19 L450.62,315.18 L451.00,312.11 L451.34,308.99 L451.63,305.84 L451.87,302.68 L452.07,299.52 L452.22,296.36 L452.32,293.23 L452.37,290.13 L452.37,287.09 L452.32,284.11 L452.22,281.20 L452.07,278.39 L451.87,275.67 L451.62,273.07 L451.33,270.59 L450.99,268.24 L450.61,266.04 L450.19,263.99 L449.72,262.11 L449.22,260.39 L448.68,258.85 L448.10,257.50 L447.49,256.34 L446.86,255.37 L446.20,254.60 L445.51,254.03 L444.81,253.67 L444.08,253.52 Z" fill="none" stroke-width="0.7"/>
<path d="M456.20,236.96 L455.31,237.04 L454.39,237.40 L453.47,238.04 L452.54,238.96 L451.60,240.15 L450.66,241.61 L449.73,243.33 L448.80,245.31 L447.89,247.53 L446.99,249.99 L446.12,252.67 L445.26,255.57 L444.44,258.68 L443.64,261.97 L442.88,265.43 L442.15,269.06 L441.47,272.83 L440.83,276.73 L440.23,280.74 L439.69,284.84 L439.19,289.02 L438.75,293.27 L438.36,297.55 L438.03,301.85 L437.76,306.16 L437.55,310.45 L437.40,314.71 L437.30,318.92 L437.27,323.06 L437.30,327.12 L437.40,331.07 L437.55,334.90 L437.76,338.59 L438.03,342.13 L438.36,345.50 L438.75,348.68 L439.19,351.68 L439.69,354.46 L440.23,357.02 L440.83,359.34 L441.47,361.43 L442.15,363.26 L442.88,364.84 L443.64,366.15 L444.44,367.19 L445.26,367.95 L446.12,368.44 L447.00,368.64 L447.89,368.56 L448.81,368.20 L449.73,367.56 L450.66,366.64 L451.60,365.45 L452.54,363.99 L453.47,362.27 L454.40,360.29 L455.31,358.07 L456.21,355.61 L457.08,352.93 L457.94,350.03 L458.76,346.92 L459.56,343.63 L460.32,340.17 L461.05,336.54 L461.73,332.77 L462.37,328.87 L462.97,324.86 L463.51,320.76 L464.01,316.58 L464.45,312.33 L464.84,308.05 L465.17,303.75 L465.44,299.44 L465.65,295.15 L465.80,290.89 L465.90,286.68 L465.93,282.54 L465.90,278.48 L465.80,274.53 L465.65,270.70 L465.44,267.01 L465.17,263.47 L464.84,260.10 L464.45,256.92 L464.01,253.92 L463.51,251.14 L462.97,248.58 L462.37,246.26 L461.73,244.17 L461.05,242.34 L460.32,240.76 L459.56,239.45 L458.76,238.41 L457.94,237.65 L457.08,237.16 L456.20,236.96 Z M457.94,246.44 L457.58,246.46 L457.06,249.09 L456.71,249.27 L456.46,247.03 L456.08,247.40 L455.61,250.32 L455.24,250.83 L454.91,249.00 L454.52,249.70 L454.12,252.84 L453.75,253.66 L453.35,252.29 L452.95,253.31 L452.63,256.59 L452.26,257.70 L451.79,256.82 L451.41,258.14 L451.17,261.47 L450.81,262.86 L450.30,262.49 L449.94,264.07 L449.78,267.38 L449.45,269.00 L448.89,269.15 L448.56,270.95 L448.49,274.15 L448.19,275.96 L447.61,276.64 L447.32,278.62 L447.34,281.64 L447.08,283.59 L446.49,284.77 L446.24,286.88 L446.36,289.64 L446.14,291.70 L445.55,293.35 L445.35,295.54 L445.56,297.97 L445.39,300.07 L444.82,302.16 L444.67,304.37 L444.97,306.41 L444.85,308.52 L444.32,310.98 L444.23,313.17 L444.60,314.77 L444.54,316.82 L444.05,319.61 L444.03,321.71 L444.46,322.83 L444.46,324.78 L444.03,327.82 L444.07,329.78 L444.56,330.40 L444.62,332.19 L444.26,335.41 L444.35,337.19 L444.89,337.29 L445.01,338.89 L444.72,342.20 L444.88,343.75 L445.45,343.33 L445.62,344.69 L445.42,348.02 L445.62,349.31 L446.21,348.37 L446.43,349.46 L446.32,352.73 L446.58,353.72 L447.17,352.29 L447.44,353.09 L447.42,356.21 L447.72,356.87 L448.29,355.00 L448.60,355.47 L448.67,358.37 L449.01,358.70 L449.56,356.41 L449.89,356.56 L450.06,359.16 L450.42,359.14 L450.94,356.51 L451.29,356.33 L451.54,358.57 L451.92,358.20 L452.39,355.28 L452.76,354.77 L453.09,356.60 L453.48,355.90 L453.88,352.76 L454.25,351.94 L454.65,353.31 L455.05,352.29 L455.37,349.01 L455.74,347.90 L456.21,348.78 L456.59,347.46 L456.83,344.13 L457.19,342.74 L457.70,343.11 L458.06,341.53 L458.22,338.22 L458.55,336.60 L459.11,336.45 L459.44,334.65 L459.51,331.45 L459.81,329.64 L460.39,328.96 L460.68,326.98 L460.66,323.96 L460.92,322.01 L461.51,320.83 L461.76,318.72 L461.64,315.96 L461.86,313.90 L462.45,312.25 L462.65,310.06 L462.44,307.63 L462.61,305.53 L463.18,303.44 L463.33,301.23 L463.03,299.19 L463.15,297.08 L463.68,294.62 L463.77,292.43 L463.40,290.83 L463.46,288.78 L463.95,285.99 L463.97,283.89 L463.54,282.77 L463.54,280.82 L463.97,277.78 L463.93,275.82 L463.44,275.20 L463.38,273.41 L463.74,270.19 L463.65,268.41 L463.11,268.31 L462.99,266.71 L463.28,263.40 L463.12,261.85 L462.55,262.27 L462.38,260.91 L462.58,257.58 L462.38,256.29 L461.79,257.23 L461.57,256.14 L461.68,252.87 L461.42,251.88 L460.83,253.31 L460.56,252.51 L460.58,249.39 L460.28,248.73 L459.71,250.60 L459.40,250.13 L459.33,247.23 L458.99,246.90 L458.44,249.19 L458.11,249.04 L457.94,246.44 Z" fill="#fff" fill-rule="evenodd" stroke-width="0.8"/>
<path d="M457.80,236.96 L456.91,237.04 L455.99,237.40 L455.07,238.04 L454.14,238.96 L453.20,240.15 L452.26,241.61 L451.33,243.33 L450.40,245.31 L449.49,247.53 L448.59,249.99 L447.72,252.67 L446.86,255.57 L446.04,258.68 L445.24,261.97 L444.48,265.43 L443.75,269.06 L443.07,272.83 L442.43,276.73 L441.83,280.74 L441.29,284.84 L440.79,289.02 L440.35,293.27 L439.96,297.55 L439.63,301.85 L439.36,306.16 L439.15,310.45 L439.00,314.71 L438.90,318.92 L438.87,323.06 L438.90,327.12 L439.00,331.07 L439.15,334.90 L439.36,338.59 L439.63,342.13 L439.96,345.50 L440.35,348.68 L440.79,351.68 L441.29,354.46 L441.83,357.02 L442.43,359.34 L443.07,361.43 L443.75,363.26 L444.48,364.84 L445.24,366.15 L446.04,367.19 L446.86,367.95 L447.72,368.44 L448.60,368.64 L449.49,368.56 L450.41,368.20 L451.33,367.56 L452.26,366.64 L453.20,365.45 L454.14,363.99 L455.07,362.27 L456.00,360.29 L456.91,358.07 L457.81,355.61 L458.68,352.93 L459.54,350.03 L460.36,346.92 L461.16,343.63 L461.92,340.17 L462.65,336.54 L463.33,332.77 L463.97,328.87 L464.57,324.86 L465.11,320.76 L465.61,316.58 L466.05,312.33 L466.44,308.05 L466.77,303.75 L467.04,299.44 L467.25,295.15 L467.40,290.89 L467.50,286.68 L467.53,282.54 L467.50,278.48 L467.40,274.53 L467.25,270.70 L467.04,267.01 L466.77,263.47 L466.44,260.10 L466.05,256.92 L465.61,253.92 L465.11,251.14 L464.57,248.58 L463.97,246.26 L463.33,244.17 L462.65,242.34 L461.92,240.76 L461.16,239.45 L460.36,238.41 L459.54,237.65 L458.68,237.16 L457.80,236.96 Z" fill="none" stroke-width="0.8"/>
<path d="M468.66,241.35 L467.70,241.42 L466.72,241.75 L465.73,242.35 L464.74,243.21 L463.75,244.33 L462.75,245.71 L461.77,247.33 L460.79,249.20 L459.83,251.29 L458.89,253.62 L457.97,256.15 L457.08,258.89 L456.22,261.83 L455.40,264.94 L454.61,268.21 L453.87,271.64 L453.17,275.21 L452.51,278.90 L451.91,282.69 L451.36,286.58 L450.87,290.54 L450.43,294.55 L450.05,298.61 L449.74,302.68 L449.48,306.76 L449.29,310.83 L449.16,314.86 L449.10,318.85 L449.11,322.78 L449.18,326.62 L449.31,330.36 L449.51,333.99 L449.77,337.49 L450.09,340.85 L450.48,344.04 L450.92,347.07 L451.42,349.90 L451.97,352.54 L452.58,354.97 L453.24,357.19 L453.95,359.17 L454.70,360.91 L455.49,362.41 L456.32,363.66 L457.18,364.65 L458.08,365.38 L459.00,365.85 L459.94,366.05 L460.90,365.98 L461.88,365.65 L462.87,365.05 L463.86,364.19 L464.85,363.07 L465.85,361.69 L466.83,360.07 L467.81,358.20 L468.77,356.11 L469.71,353.78 L470.63,351.25 L471.52,348.51 L472.38,345.57 L473.20,342.46 L473.99,339.19 L474.73,335.76 L475.43,332.19 L476.09,328.50 L476.69,324.71 L477.24,320.82 L477.73,316.86 L478.17,312.85 L478.55,308.79 L478.86,304.72 L479.12,300.64 L479.31,296.57 L479.44,292.54 L479.50,288.55 L479.49,284.62 L479.42,280.78 L479.29,277.04 L479.09,273.41 L478.83,269.91 L478.51,266.55 L478.12,263.36 L477.68,260.33 L477.18,257.50 L476.63,254.86 L476.02,252.43 L475.36,250.21 L474.65,248.23 L473.90,246.49 L473.11,244.99 L472.28,243.74 L471.42,242.75 L470.52,242.02 L469.60,241.55 L468.66,241.35 Z M470.68,255.32 L469.95,255.37 L469.20,255.63 L468.44,256.10 L467.68,256.76 L466.91,257.63 L466.15,258.70 L465.39,259.96 L464.64,261.41 L463.91,263.04 L463.18,264.84 L462.48,266.81 L461.79,268.94 L461.13,271.21 L460.50,273.63 L459.89,276.17 L459.32,278.83 L458.78,281.60 L458.27,284.46 L457.81,287.41 L457.38,290.42 L457.00,293.49 L456.66,296.61 L456.37,299.76 L456.13,302.92 L455.93,306.08 L455.78,309.24 L455.68,312.37 L455.63,315.47 L455.63,318.51 L455.68,321.49 L455.78,324.40 L455.93,327.21 L456.13,329.93 L456.38,332.53 L456.67,335.01 L457.01,337.36 L457.39,339.56 L457.81,341.61 L458.28,343.49 L458.78,345.21 L459.32,346.75 L459.90,348.10 L460.51,349.26 L461.14,350.23 L461.80,351.00 L462.49,351.57 L463.19,351.93 L463.92,352.08 L464.65,352.03 L465.40,351.77 L466.16,351.30 L466.92,350.64 L467.69,349.77 L468.45,348.70 L469.21,347.44 L469.96,345.99 L470.69,344.36 L471.42,342.56 L472.12,340.59 L472.81,338.46 L473.47,336.19 L474.10,333.77 L474.71,331.23 L475.28,328.57 L475.82,325.80 L476.33,322.94 L476.79,319.99 L477.22,316.98 L477.60,313.91 L477.94,310.79 L478.23,307.64 L478.47,304.48 L478.67,301.32 L478.82,298.16 L478.92,295.03 L478.97,291.93 L478.97,288.89 L478.92,285.91 L478.82,283.00 L478.67,280.19 L478.47,277.47 L478.22,274.87 L477.93,272.39 L477.59,270.04 L477.21,267.84 L476.79,265.79 L476.32,263.91 L475.82,262.19 L475.28,260.65 L474.70,259.30 L474.09,258.14 L473.46,257.17 L472.80,256.40 L472.11,255.83 L471.41,255.47 L470.68,255.32 Z" fill="#fff" fill-rule="evenodd" stroke-width="0.8"/>
<path d="M468.43,234.93 L470.63,234.93 L475.74,238.09 L473.54,238.09 Z" fill="#fff" stroke-width="0.75"/>
<path d="M467.72,241.35 L468.43,234.93 L473.54,238.09 L472.82,244.50 Z" fill="#fff" stroke-width="0.75"/>
<path d="M469.92,241.35 L470.63,234.93 L475.74,238.09 L475.02,244.50 Z" fill="#fff" stroke-width="0.75"/>
<path d="M464.51,237.16 L466.71,237.16 L472.34,235.08 L470.14,235.08 Z" fill="#fff" stroke-width="0.75"/>
<path d="M464.28,243.62 L464.51,237.16 L470.14,235.08 L469.91,241.55 Z" fill="#fff" stroke-width="0.75"/>
<path d="M466.48,243.62 L466.71,237.16 L472.34,235.08 L472.11,241.55 Z" fill="#fff" stroke-width="0.75"/>
<path d="M458.04,253.27 L460.24,253.27 L462.17,248.44 L459.97,248.44 Z" fill="#fff" stroke-width="0.75"/>
<path d="M458.54,255.90 L458.04,253.27 L459.97,248.44 L460.47,251.07 Z" fill="#fff" stroke-width="0.75"/>
<path d="M460.74,255.90 L460.24,253.27 L462.17,248.44 L462.67,251.07 Z" fill="#fff" stroke-width="0.75"/>
<path d="M449.67,293.94 L451.87,293.94 L453.66,280.06 L451.46,280.06 Z" fill="#fff" stroke-width="0.75"/>
<path d="M450.80,294.85 L449.67,293.94 L451.46,280.06 L452.58,280.96 Z" fill="#fff" stroke-width="0.75"/>
<path d="M453.00,294.85 L451.87,293.94 L453.66,280.06 L454.78,280.96 Z" fill="#fff" stroke-width="0.75"/>
<path d="M448.29,325.33 L450.49,325.33 L450.66,311.33 L448.46,311.33 Z" fill="#fff" stroke-width="0.75"/>
<path d="M449.53,324.59 L448.29,325.33 L448.46,311.33 L449.70,310.59 Z" fill="#fff" stroke-width="0.75"/>
<path d="M451.73,324.59 L450.49,325.33 L450.66,311.33 L451.90,310.59 Z" fill="#fff" stroke-width="0.75"/>
<path d="M452.13,357.14 L454.33,357.14 L453.14,352.07 L450.94,352.07 Z" fill="#fff" stroke-width="0.75"/>
<path d="M453.00,354.64 L452.13,357.14 L450.94,352.07 L451.81,349.57 Z" fill="#fff" stroke-width="0.75"/>
<path d="M455.20,354.64 L454.33,357.14 L453.14,352.07 L454.01,349.57 Z" fill="#fff" stroke-width="0.75"/>
<path d="M459.80,372.44 L462.00,372.44 L457.09,368.99 L454.89,368.99 Z" fill="#fff" stroke-width="0.75"/>
<path d="M460.55,366.04 L459.80,372.44 L454.89,368.99 L455.64,362.59 Z" fill="#fff" stroke-width="0.75"/>
<path d="M462.75,366.04 L462.00,372.44 L457.09,368.99 L457.84,362.59 Z" fill="#fff" stroke-width="0.75"/>
<path d="M463.86,370.52 L466.06,370.52 L460.31,372.23 L458.11,372.23 Z" fill="#fff" stroke-width="0.75"/>
<path d="M464.13,364.05 L463.86,370.52 L458.11,372.23 L458.38,365.76 Z" fill="#fff" stroke-width="0.75"/>
<path d="M466.33,364.05 L466.06,370.52 L460.31,372.23 L460.58,365.76 Z" fill="#fff" stroke-width="0.75"/>
<path d="M479.43,306.40 L481.63,306.40 L480.91,314.37 L478.71,314.37 Z" fill="#fff" stroke-width="0.75"/>
<path d="M478.30,306.04 L479.43,306.40 L478.71,314.37 L477.58,314.01 Z" fill="#fff" stroke-width="0.75"/>
<path d="M480.50,306.04 L481.63,306.40 L480.91,314.37 L479.78,314.01 Z" fill="#fff" stroke-width="0.75"/>
<path d="M477.92,251.37 L477.41,249.77 L476.88,248.29 L476.32,246.96 L475.74,245.76 L475.13,244.70 L474.51,243.78 L473.87,243.00 L473.20,242.38 L472.53,241.90 L471.83,241.56 L471.13,241.38 L470.41,241.35 L469.69,241.47 L468.95,241.74 L468.22,242.16 L467.47,242.72 L466.73,243.43 L465.98,244.29 L465.24,245.29 L464.49,246.44 L463.76,247.72 L463.03,249.13 L462.30,250.68 L461.59,252.35 L460.89,254.15 L460.21,256.07 L459.53,258.10 L458.88,260.24 L458.24,262.48 L457.63,264.83 L457.03,267.27 L456.46,269.80 L458.14,275.99 L458.63,273.93 L459.14,271.94 L459.66,270.03 L460.21,268.20 L460.77,266.45 L461.35,264.79 L461.94,263.23 L462.54,261.77 L463.15,260.40 L463.77,259.14 L464.40,257.99 L465.04,256.95 L465.68,256.02 L466.33,255.21 L466.97,254.51 L467.62,253.93 L468.26,253.47 L468.90,253.13 L469.54,252.91 L470.17,252.82 L470.79,252.85 L471.41,253.00 L472.01,253.27 L472.60,253.67 L473.18,254.18 L473.74,254.82 L474.29,255.57 L474.82,256.44 L475.33,257.42 L475.82,258.51 L476.28,259.72 L476.73,261.02 Z" fill="url(#fricd)" stroke="none"/>
<path d="M456.86,267.99 L456.43,269.91 L456.02,271.88 L455.62,273.89 L455.23,275.94 L454.86,278.03 L454.51,280.15 L454.17,282.31 L453.85,284.50 L453.54,286.71 L453.26,288.95 L452.99,291.20 L452.74,293.48 L452.51,295.77 L452.30,298.06 L452.11,300.37 L451.94,302.68 L451.78,304.99 L451.65,307.30 L451.54,309.61 L451.45,311.91 L451.38,314.19 L451.33,316.47 L451.30,318.72 L451.30,320.95 L451.31,323.16 L451.35,325.35 L451.40,327.50 L451.48,329.62 L451.57,331.71 L451.69,333.75 L451.83,335.76 L451.99,337.72 L454.51,331.41 L454.36,329.81 L454.24,328.18 L454.13,326.51 L454.03,324.80 L453.96,323.07 L453.90,321.31 L453.86,319.53 L453.84,317.73 L453.84,315.90 L453.86,314.06 L453.89,312.21 L453.94,310.34 L454.01,308.47 L454.10,306.59 L454.21,304.70 L454.33,302.81 L454.47,300.93 L454.63,299.05 L454.80,297.17 L455.00,295.30 L455.20,293.45 L455.43,291.61 L455.67,289.78 L455.92,287.98 L456.20,286.19 L456.48,284.44 L456.78,282.70 L457.10,281.00 L457.42,279.32 L457.77,277.69 L458.12,276.08 L458.49,274.52 Z" fill="url(#fric)" stroke="none"/>
<path d="M451.84,335.88 L452.05,338.46 L452.30,340.96 L452.59,343.36 L452.90,345.68 L453.25,347.89 L453.64,350.00 L454.05,351.99 L454.49,353.87 L454.97,355.62 L455.46,357.26 L455.99,358.76 L456.54,360.13 L457.12,361.36 L457.72,362.46 L458.34,363.41 L458.98,364.22 L459.63,364.88 L460.31,365.40 L461.00,365.77 L461.70,365.99 L462.41,366.06 L463.13,365.97 L463.87,365.74 L464.60,365.36 L465.35,364.83 L466.09,364.15 L466.84,363.33 L467.58,362.36 L468.33,361.26 L469.06,360.01 L469.80,358.63 L470.52,357.11 L470.70,347.31 L470.07,348.55 L469.44,349.67 L468.80,350.69 L468.16,351.59 L467.52,352.38 L466.87,353.04 L466.23,353.59 L465.58,354.02 L464.94,354.33 L464.31,354.52 L463.68,354.58 L463.06,354.52 L462.45,354.34 L461.85,354.04 L461.26,353.62 L460.68,353.07 L460.12,352.41 L459.58,351.63 L459.06,350.73 L458.55,349.72 L458.07,348.60 L457.60,347.37 L457.16,346.04 L456.75,344.60 L456.35,343.07 L455.99,341.44 L455.65,339.72 L455.33,337.91 L455.05,336.02 L454.79,334.06 L454.57,332.02 L454.37,329.91 Z" fill="url(#fricd)" stroke="none"/>
<path d="M470.86,241.35 L469.90,241.42 L468.92,241.75 L467.93,242.35 L466.94,243.21 L465.95,244.33 L464.95,245.71 L463.97,247.33 L462.99,249.20 L462.03,251.29 L461.09,253.62 L460.17,256.15 L459.28,258.89 L458.42,261.83 L457.60,264.94 L456.81,268.21 L456.07,271.64 L455.37,275.21 L454.71,278.90 L454.11,282.69 L453.56,286.58 L453.07,290.54 L452.63,294.55 L452.25,298.61 L451.94,302.68 L451.68,306.76 L451.49,310.83 L451.36,314.86 L451.30,318.85 L451.31,322.78 L451.38,326.62 L451.51,330.36 L451.71,333.99 L451.97,337.49 L452.29,340.85 L452.68,344.04 L453.12,347.07 L453.62,349.90 L454.17,352.54 L454.78,354.97 L455.44,357.19 L456.15,359.17 L456.90,360.91 L457.69,362.41 L458.52,363.66 L459.38,364.65 L460.28,365.38 L461.20,365.85 L462.14,366.05 L463.10,365.98 L464.08,365.65 L465.07,365.05 L466.06,364.19 L467.05,363.07 L468.05,361.69 L469.03,360.07 L470.01,358.20 L470.97,356.11 L471.91,353.78 L472.83,351.25 L473.72,348.51 L474.58,345.57 L475.40,342.46 L476.19,339.19 L476.93,335.76 L477.63,332.19 L478.29,328.50 L478.89,324.71 L479.44,320.82 L479.93,316.86 L480.37,312.85 L480.75,308.79 L481.06,304.72 L481.32,300.64 L481.51,296.57 L481.64,292.54 L481.70,288.55 L481.69,284.62 L481.62,280.78 L481.49,277.04 L481.29,273.41 L481.03,269.91 L480.71,266.55 L480.32,263.36 L479.88,260.33 L479.38,257.50 L478.83,254.86 L478.22,252.43 L477.56,250.21 L476.85,248.23 L476.10,246.49 L475.31,244.99 L474.48,243.74 L473.62,242.75 L472.72,242.02 L471.80,241.55 L470.86,241.35 Z" fill="none" stroke-width="0.8"/>
<path d="M470.56,252.82 L469.72,252.88 L468.87,253.14 L468.02,253.63 L467.16,254.33 L466.30,255.24 L465.44,256.36 L464.59,257.68 L463.75,259.20 L462.92,260.91 L462.11,262.80 L461.32,264.87 L460.56,267.10 L459.82,269.49 L459.11,272.03 L458.44,274.70 L457.81,277.49 L457.21,280.40 L456.66,283.41 L456.15,286.51 L455.68,289.68 L455.27,292.91 L454.90,296.18 L454.59,299.49 L454.33,302.81 L454.13,306.14 L453.97,309.46 L453.88,312.76 L453.84,316.01 L453.86,319.21 L453.93,322.35 L454.06,325.41 L454.25,328.37 L454.49,331.23 L454.78,333.97 L455.13,336.58 L455.53,339.05 L455.97,341.37 L456.47,343.52 L457.00,345.51 L457.58,347.32 L458.21,348.94 L458.86,350.36 L459.56,351.59 L460.28,352.61 L461.04,353.43 L461.82,354.02 L462.62,354.41 L463.44,354.58 L464.28,354.52 L465.13,354.26 L465.98,353.77 L466.84,353.07 L467.70,352.16 L468.56,351.04 L469.41,349.72 L470.25,348.20 L471.08,346.49 L471.89,344.60 L472.68,342.53 L473.44,340.30 L474.18,337.91 L474.89,335.37 L475.56,332.70 L476.19,329.91 L476.79,327.00 L477.34,323.99 L477.85,320.89 L478.32,317.72 L478.73,314.49 L479.10,311.22 L479.41,307.91 L479.67,304.59 L479.87,301.26 L480.03,297.94 L480.12,294.64 L480.16,291.39 L480.14,288.19 L480.07,285.05 L479.94,281.99 L479.75,279.03 L479.51,276.17 L479.22,273.43 L478.87,270.82 L478.47,268.35 L478.03,266.03 L477.53,263.88 L477.00,261.89 L476.42,260.08 L475.79,258.46 L475.14,257.04 L474.44,255.81 L473.72,254.79 L472.96,253.97 L472.18,253.38 L471.38,252.99 L470.56,252.82 Z" fill="none" stroke-width="0.6"/>
<path d="M470.68,255.32 L469.95,255.37 L469.20,255.63 L468.44,256.10 L467.68,256.76 L466.91,257.63 L466.15,258.70 L465.39,259.96 L464.64,261.41 L463.91,263.04 L463.18,264.84 L462.48,266.81 L461.79,268.94 L461.13,271.21 L460.50,273.63 L459.89,276.17 L459.32,278.83 L458.78,281.60 L458.27,284.46 L457.81,287.41 L457.38,290.42 L457.00,293.49 L456.66,296.61 L456.37,299.76 L456.13,302.92 L455.93,306.08 L455.78,309.24 L455.68,312.37 L455.63,315.47 L455.63,318.51 L455.68,321.49 L455.78,324.40 L455.93,327.21 L456.13,329.93 L456.38,332.53 L456.67,335.01 L457.01,337.36 L457.39,339.56 L457.81,341.61 L458.28,343.49 L458.78,345.21 L459.32,346.75 L459.90,348.10 L460.51,349.26 L461.14,350.23 L461.80,351.00 L462.49,351.57 L463.19,351.93 L463.92,352.08 L464.65,352.03 L465.40,351.77 L466.16,351.30 L466.92,350.64 L467.69,349.77 L468.45,348.70 L469.21,347.44 L469.96,345.99 L470.69,344.36 L471.42,342.56 L472.12,340.59 L472.81,338.46 L473.47,336.19 L474.10,333.77 L474.71,331.23 L475.28,328.57 L475.82,325.80 L476.33,322.94 L476.79,319.99 L477.22,316.98 L477.60,313.91 L477.94,310.79 L478.23,307.64 L478.47,304.48 L478.67,301.32 L478.82,298.16 L478.92,295.03 L478.97,291.93 L478.97,288.89 L478.92,285.91 L478.82,283.00 L478.67,280.19 L478.47,277.47 L478.22,274.87 L477.93,272.39 L477.59,270.04 L477.21,267.84 L476.79,265.79 L476.32,263.91 L475.82,262.19 L475.28,260.65 L474.70,259.30 L474.09,258.14 L473.46,257.17 L472.80,256.40 L472.11,255.83 L471.41,255.47 L470.68,255.32 Z" fill="none" stroke-width="0.7"/>
<path d="M482.80,238.76 L481.91,238.84 L480.99,239.20 L480.07,239.84 L479.14,240.76 L478.20,241.95 L477.26,243.41 L476.33,245.13 L475.40,247.11 L474.49,249.33 L473.59,251.79 L472.72,254.47 L471.86,257.37 L471.04,260.48 L470.24,263.77 L469.48,267.23 L468.75,270.86 L468.07,274.63 L467.43,278.53 L466.83,282.54 L466.29,286.64 L465.79,290.82 L465.35,295.07 L464.96,299.35 L464.63,303.65 L464.36,307.96 L464.15,312.25 L464.00,316.51 L463.90,320.72 L463.87,324.86 L463.90,328.92 L464.00,332.87 L464.15,336.70 L464.36,340.39 L464.63,343.93 L464.96,347.30 L465.35,350.48 L465.79,353.48 L466.29,356.26 L466.83,358.82 L467.43,361.14 L468.07,363.23 L468.75,365.06 L469.48,366.64 L470.24,367.95 L471.04,368.99 L471.86,369.75 L472.72,370.24 L473.60,370.44 L474.49,370.36 L475.41,370.00 L476.33,369.36 L477.26,368.44 L478.20,367.25 L479.14,365.79 L480.07,364.07 L481.00,362.09 L481.91,359.87 L482.81,357.41 L483.68,354.73 L484.54,351.83 L485.36,348.72 L486.16,345.43 L486.92,341.97 L487.65,338.34 L488.33,334.57 L488.97,330.67 L489.57,326.66 L490.11,322.56 L490.61,318.38 L491.05,314.13 L491.44,309.85 L491.77,305.55 L492.04,301.24 L492.25,296.95 L492.40,292.69 L492.50,288.48 L492.53,284.34 L492.50,280.28 L492.40,276.33 L492.25,272.50 L492.04,268.81 L491.77,265.27 L491.44,261.90 L491.05,258.72 L490.61,255.72 L490.11,252.94 L489.57,250.38 L488.97,248.06 L488.33,245.97 L487.65,244.14 L486.92,242.56 L486.16,241.25 L485.36,240.21 L484.54,239.45 L483.68,238.96 L482.80,238.76 Z M484.54,248.24 L484.18,248.26 L483.66,250.89 L483.31,251.07 L483.06,248.83 L482.68,249.20 L482.21,252.12 L481.84,252.63 L481.51,250.80 L481.12,251.50 L480.72,254.64 L480.35,255.46 L479.95,254.09 L479.55,255.11 L479.23,258.39 L478.86,259.50 L478.39,258.62 L478.01,259.94 L477.77,263.27 L477.41,264.66 L476.90,264.29 L476.54,265.87 L476.38,269.18 L476.05,270.80 L475.49,270.95 L475.16,272.75 L475.09,275.95 L474.79,277.76 L474.21,278.44 L473.92,280.42 L473.94,283.44 L473.68,285.39 L473.09,286.57 L472.84,288.68 L472.96,291.44 L472.74,293.50 L472.15,295.15 L471.95,297.34 L472.16,299.77 L471.99,301.87 L471.42,303.96 L471.27,306.17 L471.57,308.21 L471.45,310.32 L470.92,312.78 L470.83,314.97 L471.20,316.57 L471.14,318.62 L470.65,321.41 L470.63,323.51 L471.06,324.63 L471.06,326.58 L470.63,329.62 L470.67,331.58 L471.16,332.20 L471.22,333.99 L470.86,337.21 L470.95,338.99 L471.49,339.09 L471.61,340.69 L471.32,344.00 L471.48,345.55 L472.05,345.13 L472.22,346.49 L472.02,349.82 L472.22,351.11 L472.81,350.17 L473.03,351.26 L472.92,354.53 L473.18,355.52 L473.77,354.09 L474.04,354.89 L474.02,358.01 L474.32,358.67 L474.89,356.80 L475.20,357.27 L475.27,360.17 L475.61,360.50 L476.16,358.21 L476.49,358.36 L476.66,360.96 L477.02,360.94 L477.54,358.31 L477.89,358.13 L478.14,360.37 L478.52,360.00 L478.99,357.08 L479.36,356.57 L479.69,358.40 L480.08,357.70 L480.48,354.56 L480.85,353.74 L481.25,355.11 L481.65,354.09 L481.97,350.81 L482.34,349.70 L482.81,350.58 L483.19,349.26 L483.43,345.93 L483.79,344.54 L484.30,344.91 L484.66,343.33 L484.82,340.02 L485.15,338.40 L485.71,338.25 L486.04,336.45 L486.11,333.25 L486.41,331.44 L486.99,330.76 L487.28,328.78 L487.26,325.76 L487.52,323.81 L488.11,322.63 L488.36,320.52 L488.24,317.76 L488.46,315.70 L489.05,314.05 L489.25,311.86 L489.04,309.43 L489.21,307.33 L489.78,305.24 L489.93,303.03 L489.63,300.99 L489.75,298.88 L490.28,296.42 L490.37,294.23 L490.00,292.63 L490.06,290.58 L490.55,287.79 L490.57,285.69 L490.14,284.57 L490.14,282.62 L490.57,279.58 L490.53,277.62 L490.04,277.00 L489.98,275.21 L490.34,271.99 L490.25,270.21 L489.71,270.11 L489.59,268.51 L489.88,265.20 L489.72,263.65 L489.15,264.07 L488.98,262.71 L489.18,259.38 L488.98,258.09 L488.39,259.03 L488.17,257.94 L488.28,254.67 L488.02,253.68 L487.43,255.11 L487.16,254.31 L487.18,251.19 L486.88,250.53 L486.31,252.40 L486.00,251.93 L485.93,249.03 L485.59,248.70 L485.04,250.99 L484.71,250.84 L484.54,248.24 Z" fill="#fff" fill-rule="evenodd" stroke-width="0.8"/>
<path d="M484.40,238.76 L483.51,238.84 L482.59,239.20 L481.67,239.84 L480.74,240.76 L479.80,241.95 L478.86,243.41 L477.93,245.13 L477.00,247.11 L476.09,249.33 L475.19,251.79 L474.32,254.47 L473.46,257.37 L472.64,260.48 L471.84,263.77 L471.08,267.23 L470.35,270.86 L469.67,274.63 L469.03,278.53 L468.43,282.54 L467.89,286.64 L467.39,290.82 L466.95,295.07 L466.56,299.35 L466.23,303.65 L465.96,307.96 L465.75,312.25 L465.60,316.51 L465.50,320.72 L465.47,324.86 L465.50,328.92 L465.60,332.87 L465.75,336.70 L465.96,340.39 L466.23,343.93 L466.56,347.30 L466.95,350.48 L467.39,353.48 L467.89,356.26 L468.43,358.82 L469.03,361.14 L469.67,363.23 L470.35,365.06 L471.08,366.64 L471.84,367.95 L472.64,368.99 L473.46,369.75 L474.32,370.24 L475.20,370.44 L476.09,370.36 L477.01,370.00 L477.93,369.36 L478.86,368.44 L479.80,367.25 L480.74,365.79 L481.67,364.07 L482.60,362.09 L483.51,359.87 L484.41,357.41 L485.28,354.73 L486.14,351.83 L486.96,348.72 L487.76,345.43 L488.52,341.97 L489.25,338.34 L489.93,334.57 L490.57,330.67 L491.17,326.66 L491.71,322.56 L492.21,318.38 L492.65,314.13 L493.04,309.85 L493.37,305.55 L493.64,301.24 L493.85,296.95 L494.00,292.69 L494.10,288.48 L494.13,284.34 L494.10,280.28 L494.00,276.33 L493.85,272.50 L493.64,268.81 L493.37,265.27 L493.04,261.90 L492.65,258.72 L492.21,255.72 L491.71,252.94 L491.17,250.38 L490.57,248.06 L489.93,245.97 L489.25,244.14 L488.52,242.56 L487.76,241.25 L486.96,240.21 L486.14,239.45 L485.28,238.96 L484.40,238.76 Z" fill="none" stroke-width="0.8"/>
<path d="M495.26,243.15 L494.30,243.22 L493.32,243.55 L492.33,244.15 L491.34,245.01 L490.35,246.13 L489.35,247.51 L488.37,249.13 L487.39,251.00 L486.43,253.09 L485.49,255.42 L484.57,257.95 L483.68,260.69 L482.82,263.63 L482.00,266.74 L481.21,270.01 L480.47,273.44 L479.77,277.01 L479.11,280.70 L478.51,284.49 L477.96,288.38 L477.47,292.34 L477.03,296.35 L476.65,300.41 L476.34,304.48 L476.08,308.56 L475.89,312.63 L475.76,316.66 L475.70,320.65 L475.71,324.58 L475.78,328.42 L475.91,332.16 L476.11,335.79 L476.37,339.29 L476.69,342.65 L477.08,345.84 L477.52,348.87 L478.02,351.70 L478.57,354.34 L479.18,356.77 L479.84,358.99 L480.55,360.97 L481.30,362.71 L482.09,364.21 L482.92,365.46 L483.78,366.45 L484.68,367.18 L485.60,367.65 L486.54,367.85 L487.50,367.78 L488.48,367.45 L489.47,366.85 L490.46,365.99 L491.45,364.87 L492.45,363.49 L493.43,361.87 L494.41,360.00 L495.37,357.91 L496.31,355.58 L497.23,353.05 L498.12,350.31 L498.98,347.37 L499.80,344.26 L500.59,340.99 L501.33,337.56 L502.03,333.99 L502.69,330.30 L503.29,326.51 L503.84,322.62 L504.33,318.66 L504.77,314.65 L505.15,310.59 L505.46,306.52 L505.72,302.44 L505.91,298.37 L506.04,294.34 L506.10,290.35 L506.09,286.42 L506.02,282.58 L505.89,278.84 L505.69,275.21 L505.43,271.71 L505.11,268.35 L504.72,265.16 L504.28,262.13 L503.78,259.30 L503.23,256.66 L502.62,254.23 L501.96,252.01 L501.25,250.03 L500.50,248.29 L499.71,246.79 L498.88,245.54 L498.02,244.55 L497.12,243.82 L496.20,243.35 L495.26,243.15 Z M497.28,257.12 L496.55,257.17 L495.80,257.43 L495.04,257.90 L494.28,258.56 L493.51,259.43 L492.75,260.50 L491.99,261.76 L491.24,263.21 L490.51,264.84 L489.78,266.64 L489.08,268.61 L488.39,270.74 L487.73,273.01 L487.10,275.43 L486.49,277.97 L485.92,280.63 L485.38,283.40 L484.87,286.26 L484.41,289.21 L483.98,292.22 L483.60,295.29 L483.26,298.41 L482.97,301.56 L482.73,304.72 L482.53,307.88 L482.38,311.04 L482.28,314.17 L482.23,317.27 L482.23,320.31 L482.28,323.29 L482.38,326.20 L482.53,329.01 L482.73,331.73 L482.98,334.33 L483.27,336.81 L483.61,339.16 L483.99,341.36 L484.41,343.41 L484.88,345.29 L485.38,347.01 L485.92,348.55 L486.50,349.90 L487.11,351.06 L487.74,352.03 L488.40,352.80 L489.09,353.37 L489.79,353.73 L490.52,353.88 L491.25,353.83 L492.00,353.57 L492.76,353.10 L493.52,352.44 L494.29,351.57 L495.05,350.50 L495.81,349.24 L496.56,347.79 L497.29,346.16 L498.02,344.36 L498.72,342.39 L499.41,340.26 L500.07,337.99 L500.70,335.57 L501.31,333.03 L501.88,330.37 L502.42,327.60 L502.93,324.74 L503.39,321.79 L503.82,318.78 L504.20,315.71 L504.54,312.59 L504.83,309.44 L505.07,306.28 L505.27,303.12 L505.42,299.96 L505.52,296.83 L505.57,293.73 L505.57,290.69 L505.52,287.71 L505.42,284.80 L505.27,281.99 L505.07,279.27 L504.82,276.67 L504.53,274.19 L504.19,271.84 L503.81,269.64 L503.39,267.59 L502.92,265.71 L502.42,263.99 L501.88,262.45 L501.30,261.10 L500.69,259.94 L500.06,258.97 L499.40,258.20 L498.71,257.63 L498.01,257.27 L497.28,257.12 Z" fill="#fff" fill-rule="evenodd" stroke-width="0.8"/>
<path d="M495.03,236.73 L497.23,236.73 L502.34,239.89 L500.14,239.89 Z" fill="#fff" stroke-width="0.75"/>
<path d="M494.32,243.15 L495.03,236.73 L500.14,239.89 L499.42,246.30 Z" fill="#fff" stroke-width="0.75"/>
<path d="M496.52,243.15 L497.23,236.73 L502.34,239.89 L501.62,246.30 Z" fill="#fff" stroke-width="0.75"/>
<path d="M491.11,238.96 L493.31,238.96 L498.94,236.88 L496.74,236.88 Z" fill="#fff" stroke-width="0.75"/>
<path d="M490.88,245.42 L491.11,238.96 L496.74,236.88 L496.51,243.35 Z" fill="#fff" stroke-width="0.75"/>
<path d="M493.08,245.42 L493.31,238.96 L498.94,236.88 L498.71,243.35 Z" fill="#fff" stroke-width="0.75"/>
<path d="M484.64,255.07 L486.84,255.07 L488.77,250.24 L486.57,250.24 Z" fill="#fff" stroke-width="0.75"/>
<path d="M485.14,257.70 L484.64,255.07 L486.57,250.24 L487.07,252.87 Z" fill="#fff" stroke-width="0.75"/>
<path d="M487.34,257.70 L486.84,255.07 L488.77,250.24 L489.27,252.87 Z" fill="#fff" stroke-width="0.75"/>
<path d="M476.27,295.74 L478.47,295.74 L480.26,281.86 L478.06,281.86 Z" fill="#fff" stroke-width="0.75"/>
<path d="M477.40,296.65 L476.27,295.74 L478.06,281.86 L479.18,282.76 Z" fill="#fff" stroke-width="0.75"/>
<path d="M479.60,296.65 L478.47,295.74 L480.26,281.86 L481.38,282.76 Z" fill="#fff" stroke-width="0.75"/>
<path d="M474.89,327.13 L477.09,327.13 L477.26,313.13 L475.06,313.13 Z" fill="#fff" stroke-width="0.75"/>
<path d="M476.13,326.39 L474.89,327.13 L475.06,313.13 L476.30,312.39 Z" fill="#fff" stroke-width="0.75"/>
<path d="M478.33,326.39 L477.09,327.13 L477.26,313.13 L478.50,312.39 Z" fill="#fff" stroke-width="0.75"/>
<path d="M478.73,358.94 L480.93,358.94 L479.74,353.87 L477.54,353.87 Z" fill="#fff" stroke-width="0.75"/>
<path d="M479.60,356.44 L478.73,358.94 L477.54,353.87 L478.41,351.37 Z" fill="#fff" stroke-width="0.75"/>
<path d="M481.80,356.44 L480.93,358.94 L479.74,353.87 L480.61,351.37 Z" fill="#fff" stroke-width="0.75"/>
<path d="M486.40,374.24 L488.60,374.24 L483.69,370.79 L481.49,370.79 Z" fill="#fff" stroke-width="0.75"/>
<path d="M487.15,367.84 L486.40,374.24 L481.49,370.79 L482.24,364.39 Z" fill="#fff" stroke-width="0.75"/>
<path d="M489.35,367.84 L488.60,374.24 L483.69,370.79 L484.44,364.39 Z" fill="#fff" stroke-width="0.75"/>
<path d="M490.46,372.32 L492.66,372.32 L486.91,374.03 L484.71,374.03 Z" fill="#fff" stroke-width="0.75"/>
<path d="M490.73,365.85 L490.46,372.32 L484.71,374.03 L484.98,367.56 Z" fill="#fff" stroke-width="0.75"/>
<path d="M492.93,365.85 L492.66,372.32 L486.91,374.03 L487.18,367.56 Z" fill="#fff" stroke-width="0.75"/>
<path d="M506.03,308.20 L508.23,308.20 L507.51,316.17 L505.31,316.17 Z" fill="#fff" stroke-width="0.75"/>
<path d="M504.90,307.84 L506.03,308.20 L505.31,316.17 L504.18,315.81 Z" fill="#fff" stroke-width="0.75"/>
<path d="M507.10,307.84 L508.23,308.20 L507.51,316.17 L506.38,315.81 Z" fill="#fff" stroke-width="0.75"/>
<path d="M504.52,253.17 L504.01,251.57 L503.48,250.09 L502.92,248.76 L502.34,247.56 L501.73,246.50 L501.11,245.58 L500.47,244.80 L499.80,244.18 L499.13,243.70 L498.43,243.36 L497.73,243.18 L497.01,243.15 L496.29,243.27 L495.55,243.54 L494.82,243.96 L494.07,244.52 L493.33,245.23 L492.58,246.09 L491.84,247.09 L491.09,248.24 L490.36,249.52 L489.63,250.93 L488.90,252.48 L488.19,254.15 L487.49,255.95 L486.81,257.87 L486.13,259.90 L485.48,262.04 L484.84,264.28 L484.23,266.63 L483.63,269.07 L483.06,271.60 L484.74,277.79 L485.23,275.73 L485.74,273.74 L486.26,271.83 L486.81,270.00 L487.37,268.25 L487.95,266.59 L488.54,265.03 L489.14,263.57 L489.75,262.20 L490.37,260.94 L491.00,259.79 L491.64,258.75 L492.28,257.82 L492.93,257.01 L493.57,256.31 L494.22,255.73 L494.86,255.27 L495.50,254.93 L496.14,254.71 L496.77,254.62 L497.39,254.65 L498.01,254.80 L498.61,255.07 L499.20,255.47 L499.78,255.98 L500.34,256.62 L500.89,257.37 L501.42,258.24 L501.93,259.22 L502.42,260.31 L502.88,261.52 L503.33,262.82 Z" fill="url(#fricd)" stroke="none"/>
<path d="M483.46,269.79 L483.03,271.71 L482.62,273.68 L482.22,275.69 L481.83,277.74 L481.46,279.83 L481.11,281.95 L480.77,284.11 L480.45,286.30 L480.14,288.51 L479.86,290.75 L479.59,293.00 L479.34,295.28 L479.11,297.57 L478.90,299.86 L478.71,302.17 L478.54,304.48 L478.38,306.79 L478.25,309.10 L478.14,311.41 L478.05,313.71 L477.98,315.99 L477.93,318.27 L477.90,320.52 L477.90,322.75 L477.91,324.96 L477.95,327.15 L478.00,329.30 L478.08,331.42 L478.17,333.51 L478.29,335.55 L478.43,337.56 L478.59,339.52 L481.11,333.21 L480.96,331.61 L480.84,329.98 L480.73,328.31 L480.63,326.60 L480.56,324.87 L480.50,323.11 L480.46,321.33 L480.44,319.53 L480.44,317.70 L480.46,315.86 L480.49,314.01 L480.54,312.14 L480.61,310.27 L480.70,308.39 L480.81,306.50 L480.93,304.61 L481.07,302.73 L481.23,300.85 L481.40,298.97 L481.60,297.10 L481.80,295.25 L482.03,293.41 L482.27,291.58 L482.52,289.78 L482.80,287.99 L483.08,286.24 L483.38,284.50 L483.70,282.80 L484.02,281.12 L484.37,279.49 L484.72,277.88 L485.09,276.32 Z" fill="url(#fric)" stroke="none"/>
<path d="M478.44,337.68 L478.65,340.26 L478.90,342.76 L479.19,345.16 L479.50,347.48 L479.85,349.69 L480.24,351.80 L480.65,353.79 L481.09,355.67 L481.57,357.42 L482.06,359.06 L482.59,360.56 L483.14,361.93 L483.72,363.16 L484.32,364.26 L484.94,365.21 L485.58,366.02 L486.23,366.68 L486.91,367.20 L487.60,367.57 L488.30,367.79 L489.01,367.86 L489.73,367.77 L490.47,367.54 L491.20,367.16 L491.95,366.63 L492.69,365.95 L493.44,365.13 L494.18,364.16 L494.93,363.06 L495.66,361.81 L496.40,360.43 L497.12,358.91 L497.30,349.11 L496.67,350.35 L496.04,351.47 L495.40,352.49 L494.76,353.39 L494.12,354.18 L493.47,354.84 L492.83,355.39 L492.18,355.82 L491.54,356.13 L490.91,356.32 L490.28,356.38 L489.66,356.32 L489.05,356.14 L488.45,355.84 L487.86,355.42 L487.28,354.87 L486.72,354.21 L486.18,353.43 L485.66,352.53 L485.15,351.52 L484.67,350.40 L484.20,349.17 L483.76,347.84 L483.35,346.40 L482.95,344.87 L482.59,343.24 L482.25,341.52 L481.93,339.71 L481.65,337.82 L481.39,335.86 L481.17,333.82 L480.97,331.71 Z" fill="url(#fricd)" stroke="none"/>
<path d="M496.61,360.00 L497.57,357.91 L498.51,355.58 L499.43,353.05 L500.32,350.31 L501.18,347.37 L502.00,344.26 L502.79,340.99 L503.53,337.56 L504.23,333.99 L504.89,330.30 L505.49,326.51 L506.04,322.62 L506.53,318.66 L506.97,314.65 L507.35,310.59 L507.66,306.52 L507.92,302.44 L508.11,298.37 L508.24,294.34 L508.30,290.35 L508.29,286.42 L508.22,282.58 L508.09,278.84 L507.89,275.21 L507.63,271.71 L507.31,268.35 L506.92,265.16 L506.48,262.13 L505.98,259.30 L505.43,256.66 L504.82,254.23 L504.16,252.01 L503.02,261.88 L503.60,263.69 L504.13,265.68 L504.63,267.83 L505.07,270.15 L505.47,272.62 L505.82,275.23 L506.11,277.97 L506.35,280.83 L506.54,283.79 L506.67,286.85 L506.74,289.99 L506.76,293.19 L506.72,296.44 L506.63,299.74 L506.47,303.06 L506.27,306.39 L506.01,309.71 L505.70,313.02 L505.33,316.29 L504.92,319.52 L504.45,322.69 L503.94,325.79 L503.39,328.80 L502.79,331.71 L502.16,334.50 L501.49,337.17 L500.78,339.71 L500.04,342.10 L499.28,344.33 L498.49,346.40 L497.68,348.29 L496.85,350.00 Z" fill="url(#fric)" stroke="none"/>
<path d="M497.46,243.15 L496.50,243.22 L495.52,243.55 L494.53,244.15 L493.54,245.01 L492.55,246.13 L491.55,247.51 L490.57,249.13 L489.59,251.00 L488.63,253.09 L487.69,255.42 L486.77,257.95 L485.88,260.69 L485.02,263.63 L484.20,266.74 L483.41,270.01 L482.67,273.44 L481.97,277.01 L481.31,280.70 L480.71,284.49 L480.16,288.38 L479.67,292.34 L479.23,296.35 L478.85,300.41 L478.54,304.48 L478.28,308.56 L478.09,312.63 L477.96,316.66 L477.90,320.65 L477.91,324.58 L477.98,328.42 L478.11,332.16 L478.31,335.79 L478.57,339.29 L478.89,342.65 L479.28,345.84 L479.72,348.87 L480.22,351.70 L480.77,354.34 L481.38,356.77 L482.04,358.99 L482.75,360.97 L483.50,362.71 L484.29,364.21 L485.12,365.46 L485.98,366.45 L486.88,367.18 L487.80,367.65 L488.74,367.85 L489.70,367.78 L490.68,367.45 L491.67,366.85 L492.66,365.99 L493.65,364.87 L494.65,363.49 L495.63,361.87 L496.61,360.00 L497.57,357.91 L498.51,355.58 L499.43,353.05 L500.32,350.31 L501.18,347.37 L502.00,344.26 L502.79,340.99 L503.53,337.56 L504.23,333.99 L504.89,330.30 L505.49,326.51 L506.04,322.62 L506.53,318.66 L506.97,314.65 L507.35,310.59 L507.66,306.52 L507.92,302.44 L508.11,298.37 L508.24,294.34 L508.30,290.35 L508.29,286.42 L508.22,282.58 L508.09,278.84 L507.89,275.21 L507.63,271.71 L507.31,268.35 L506.92,265.16 L506.48,262.13 L505.98,259.30 L505.43,256.66 L504.82,254.23 L504.16,252.01 L503.45,250.03 L502.70,248.29 L501.91,246.79 L501.08,245.54 L500.22,244.55 L499.32,243.82 L498.40,243.35 L497.46,243.15 Z" fill="none" stroke-width="0.8"/>
<path d="M497.16,254.62 L496.32,254.68 L495.47,254.94 L494.62,255.43 L493.76,256.13 L492.90,257.04 L492.04,258.16 L491.19,259.48 L490.35,261.00 L489.52,262.71 L488.71,264.60 L487.92,266.67 L487.16,268.90 L486.42,271.29 L485.71,273.83 L485.04,276.50 L484.41,279.29 L483.81,282.20 L483.26,285.21 L482.75,288.31 L482.28,291.48 L481.87,294.71 L481.50,297.98 L481.19,301.29 L480.93,304.61 L480.73,307.94 L480.57,311.26 L480.48,314.56 L480.44,317.81 L480.46,321.01 L480.53,324.15 L480.66,327.21 L480.85,330.17 L481.09,333.03 L481.38,335.77 L481.73,338.38 L482.13,340.85 L482.57,343.17 L483.07,345.32 L483.60,347.31 L484.18,349.12 L484.81,350.74 L485.46,352.16 L486.16,353.39 L486.88,354.41 L487.64,355.23 L488.42,355.82 L489.22,356.21 L490.04,356.38 L490.88,356.32 L491.73,356.06 L492.58,355.57 L493.44,354.87 L494.30,353.96 L495.16,352.84 L496.01,351.52 L496.85,350.00 L497.68,348.29 L498.49,346.40 L499.28,344.33 L500.04,342.10 L500.78,339.71 L501.49,337.17 L502.16,334.50 L502.79,331.71 L503.39,328.80 L503.94,325.79 L504.45,322.69 L504.92,319.52 L505.33,316.29 L505.70,313.02 L506.01,309.71 L506.27,306.39 L506.47,303.06 L506.63,299.74 L506.72,296.44 L506.76,293.19 L506.74,289.99 L506.67,286.85 L506.54,283.79 L506.35,280.83 L506.11,277.97 L505.82,275.23 L505.47,272.62 L505.07,270.15 L504.63,267.83 L504.13,265.68 L503.60,263.69 L503.02,261.88 L502.39,260.26 L501.74,258.84 L501.04,257.61 L500.32,256.59 L499.56,255.77 L498.78,255.18 L497.98,254.79 L497.16,254.62 Z" fill="none" stroke-width="0.6"/>
<path d="M497.28,257.12 L496.55,257.17 L495.80,257.43 L495.04,257.90 L494.28,258.56 L493.51,259.43 L492.75,260.50 L491.99,261.76 L491.24,263.21 L490.51,264.84 L489.78,266.64 L489.08,268.61 L488.39,270.74 L487.73,273.01 L487.10,275.43 L486.49,277.97 L485.92,280.63 L485.38,283.40 L484.87,286.26 L484.41,289.21 L483.98,292.22 L483.60,295.29 L483.26,298.41 L482.97,301.56 L482.73,304.72 L482.53,307.88 L482.38,311.04 L482.28,314.17 L482.23,317.27 L482.23,320.31 L482.28,323.29 L482.38,326.20 L482.53,329.01 L482.73,331.73 L482.98,334.33 L483.27,336.81 L483.61,339.16 L483.99,341.36 L484.41,343.41 L484.88,345.29 L485.38,347.01 L485.92,348.55 L486.50,349.90 L487.11,351.06 L487.74,352.03 L488.40,352.80 L489.09,353.37 L489.79,353.73 L490.52,353.88 L491.25,353.83 L492.00,353.57 L492.76,353.10 L493.52,352.44 L494.29,351.57 L495.05,350.50 L495.81,349.24 L496.56,347.79 L497.29,346.16 L498.02,344.36 L498.72,342.39 L499.41,340.26 L500.07,337.99 L500.70,335.57 L501.31,333.03 L501.88,330.37 L502.42,327.60 L502.93,324.74 L503.39,321.79 L503.82,318.78 L504.20,315.71 L504.54,312.59 L504.83,309.44 L505.07,306.28 L505.27,303.12 L505.42,299.96 L505.52,296.83 L505.57,293.73 L505.57,290.69 L505.52,287.71 L505.42,284.80 L505.27,281.99 L505.07,279.27 L504.82,276.67 L504.53,274.19 L504.19,271.84 L503.81,269.64 L503.39,267.59 L502.92,265.71 L502.42,263.99 L501.88,262.45 L501.30,261.10 L500.69,259.94 L500.06,258.97 L499.40,258.20 L498.71,257.63 L498.01,257.27 L497.28,257.12 Z" fill="none" stroke-width="0.7"/>
<path d="M317.5,108.0 L334.0,109.0 L334.0,132.5 L317.5,131.5 C312.5,128.5 312.5,111.0 317.5,108.0 Z"/>
<path d="M319.5,109.0 C315.5,113.0 315.5,126.5 319.5,130.5" fill="none" stroke="#999" stroke-width="0.6"/>
<path d="M312.5,140.0 L329.0,141.0 L329.0,165.0 L312.5,164.0 C307.5,161.0 307.5,143.0 312.5,140.0 Z"/>
<path d="M314.5,141.0 C310.5,145.0 310.5,159.0 314.5,163.0" fill="none" stroke="#999" stroke-width="0.6"/>
<path d="M316.0,166.0 L331.0,167.0 L331.0,190.0 L316.0,189.0 C311.0,186.0 311.0,169.0 316.0,166.0 Z"/>
<path d="M318.0,167.0 C314.0,171.0 314.0,184.0 318.0,188.0" fill="none" stroke="#999" stroke-width="0.6"/>
<ellipse cx="337.50" cy="146.70" rx="11.50" ry="61.80" transform="rotate(2.3 337.50 146.70)" stroke-width="1"/>
<path d="M339.9,84.9 L346,84.9 L341,208.5 L334.9,208.5 Z" fill="#fff" stroke="none"/>
<path d="M339.9,84.9 L346,84.9 M334.9,208.5 L341,208.5" fill="none" stroke-width="0.9"/>
<ellipse cx="343.50" cy="146.70" rx="19.50" ry="61.80" transform="rotate(2.3 343.50 146.70)" stroke-width="1"/>
<ellipse cx="344.60" cy="146.70" rx="18.00" ry="60.00" transform="rotate(2.3 344.60 146.70)" fill="none" stroke-width="0.7"/>
<ellipse cx="346.00" cy="146.70" rx="16.40" ry="58.50" transform="rotate(2.3 346.00 146.70)" fill="none" stroke="#555" stroke-width="0.6"/>
<ellipse cx="350.00" cy="146.90" rx="12.50" ry="53.50" transform="rotate(2.3 350.00 146.90)" fill="none" stroke-width="0.9"/>
<ellipse cx="350.60" cy="146.90" rx="11.50" ry="52.00" transform="rotate(2.3 350.60 146.90)" fill="none" stroke="#888" stroke-width="0.6"/>
<ellipse cx="350.50" cy="145.00" rx="8.00" ry="38.00" transform="rotate(4 350.50 145.00)" fill="#d6d6d6" stroke="none"/>
<ellipse cx="354.30" cy="106.40" rx="2.70" ry="7.40" transform="rotate(4 354.30 106.40)" fill="#fff" stroke="#333" stroke-width="0.8"/>
<ellipse cx="355.00" cy="106.70" rx="1.00" ry="5.50" transform="rotate(4 355.00 106.70)" fill="none" stroke="#999" stroke-width="0.5"/>
<ellipse cx="349.70" cy="117.70" rx="4.20" ry="6.20" transform="rotate(4 349.70 117.70)" fill="#fff" stroke="#333" stroke-width="0.8"/>
<ellipse cx="350.40" cy="118.00" rx="2.50" ry="4.30" transform="rotate(4 350.40 118.00)" fill="none" stroke="#999" stroke-width="0.5"/>
<ellipse cx="344.50" cy="131.60" rx="4.20" ry="9.50" transform="rotate(4 344.50 131.60)" fill="#fff" stroke="#333" stroke-width="0.8"/>
<ellipse cx="345.20" cy="131.90" rx="2.50" ry="7.60" transform="rotate(4 345.20 131.90)" fill="none" stroke="#999" stroke-width="0.5"/>
<ellipse cx="356.30" cy="138.80" rx="5.30" ry="8.60" transform="rotate(4 356.30 138.80)" fill="#fff" stroke="#333" stroke-width="0.8"/>
<ellipse cx="357.00" cy="139.10" rx="3.60" ry="6.70" transform="rotate(4 357.00 139.10)" fill="none" stroke="#999" stroke-width="0.5"/>
<ellipse cx="345.80" cy="151.50" rx="5.20" ry="9.20" transform="rotate(4 345.80 151.50)" fill="#fff" stroke="#333" stroke-width="0.8"/>
<ellipse cx="346.50" cy="151.80" rx="3.50" ry="7.30" transform="rotate(4 346.50 151.80)" fill="none" stroke="#999" stroke-width="0.5"/>
<ellipse cx="356.30" cy="158.70" rx="5.40" ry="10.00" transform="rotate(4 356.30 158.70)" fill="#fff" stroke="#333" stroke-width="0.8"/>
<ellipse cx="357.00" cy="159.00" rx="3.70" ry="8.10" transform="rotate(4 357.00 159.00)" fill="none" stroke="#999" stroke-width="0.5"/>
<ellipse cx="343.70" cy="174.60" rx="4.80" ry="7.60" transform="rotate(4 343.70 174.60)" fill="#fff" stroke="#333" stroke-width="0.8"/>
<ellipse cx="344.40" cy="174.90" rx="3.10" ry="5.70" transform="rotate(4 344.40 174.90)" fill="none" stroke="#999" stroke-width="0.5"/>
<ellipse cx="351.00" cy="183.00" rx="5.30" ry="7.40" transform="rotate(4 351.00 183.00)" fill="#fff" stroke="#333" stroke-width="0.8"/>
<ellipse cx="351.70" cy="183.30" rx="3.60" ry="5.50" transform="rotate(4 351.70 183.30)" fill="none" stroke="#999" stroke-width="0.5"/>
<path d="M349.5,124 C350.5,129 350,133 349.5,137 L352,142 L349.5,147 C351,150 351,154 350,158 M345.5,161 C347.5,162 349,164 349.5,167 L348,171 M352.5,111 L352.5,113 M351,147 L353.5,149" fill="none" stroke="#222" stroke-width="1.3"/>
<ellipse cx="385.00" cy="111.00" rx="2.7" ry="9.1" transform="rotate(4 385.00 111.00)" fill="none" stroke="#3a3a3a" stroke-width="0.95"/>
<ellipse cx="385.40" cy="111.00" rx="1.4" ry="7.6" transform="rotate(4 385.00 111.00)" fill="none" stroke="#666" stroke-width="0.65"/>
<ellipse cx="389.51" cy="111.00" rx="2.7" ry="9.1" transform="rotate(4 389.51 111.00)" fill="none" stroke="#3a3a3a" stroke-width="0.95"/>
<ellipse cx="389.91" cy="111.00" rx="1.4" ry="7.6" transform="rotate(4 389.51 111.00)" fill="none" stroke="#666" stroke-width="0.65"/>
<ellipse cx="394.03" cy="111.00" rx="2.7" ry="9.1" transform="rotate(4 394.03 111.00)" fill="none" stroke="#3a3a3a" stroke-width="0.95"/>
<ellipse cx="394.43" cy="111.00" rx="1.4" ry="7.6" transform="rotate(4 394.03 111.00)" fill="none" stroke="#666" stroke-width="0.65"/>
<ellipse cx="398.54" cy="111.00" rx="2.7" ry="9.1" transform="rotate(4 398.54 111.00)" fill="none" stroke="#3a3a3a" stroke-width="0.95"/>
<ellipse cx="398.94" cy="111.00" rx="1.4" ry="7.6" transform="rotate(4 398.54 111.00)" fill="none" stroke="#666" stroke-width="0.65"/>
<ellipse cx="403.06" cy="111.00" rx="2.7" ry="9.1" transform="rotate(4 403.06 111.00)" fill="none" stroke="#3a3a3a" stroke-width="0.95"/>
<ellipse cx="403.46" cy="111.00" rx="1.4" ry="7.6" transform="rotate(4 403.06 111.00)" fill="none" stroke="#666" stroke-width="0.65"/>
<ellipse cx="407.57" cy="111.00" rx="2.7" ry="9.1" transform="rotate(4 407.57 111.00)" fill="none" stroke="#3a3a3a" stroke-width="0.95"/>
<ellipse cx="407.97" cy="111.00" rx="1.4" ry="7.6" transform="rotate(4 407.57 111.00)" fill="none" stroke="#666" stroke-width="0.65"/>
<ellipse cx="412.09" cy="111.00" rx="2.7" ry="9.1" transform="rotate(4 412.09 111.00)" fill="none" stroke="#3a3a3a" stroke-width="0.95"/>
<ellipse cx="412.49" cy="111.00" rx="1.4" ry="7.6" transform="rotate(4 412.09 111.00)" fill="none" stroke="#666" stroke-width="0.65"/>
<ellipse cx="416.60" cy="111.00" rx="2.7" ry="9.1" transform="rotate(4 416.60 111.00)" fill="none" stroke="#3a3a3a" stroke-width="0.95"/>
<ellipse cx="417.00" cy="111.00" rx="1.4" ry="7.6" transform="rotate(4 416.60 111.00)" fill="none" stroke="#666" stroke-width="0.65"/>
<ellipse cx="416.40" cy="111.00" rx="2.6" ry="8.8" fill="none" stroke="#222" stroke-width="1.4"/>
<ellipse cx="416.60" cy="111.00" rx="1.1" ry="6.5" fill="none" stroke="#444" stroke-width="0.7"/>
<ellipse cx="374.10" cy="133.10" rx="2.7" ry="9.1" transform="rotate(4 374.10 133.10)" fill="none" stroke="#3a3a3a" stroke-width="0.95"/>
<ellipse cx="374.50" cy="133.10" rx="1.4" ry="7.6" transform="rotate(4 374.10 133.10)" fill="none" stroke="#666" stroke-width="0.65"/>
<ellipse cx="378.60" cy="133.10" rx="2.7" ry="9.1" transform="rotate(4 378.60 133.10)" fill="none" stroke="#3a3a3a" stroke-width="0.95"/>
<ellipse cx="379.00" cy="133.10" rx="1.4" ry="7.6" transform="rotate(4 378.60 133.10)" fill="none" stroke="#666" stroke-width="0.65"/>
<ellipse cx="383.10" cy="133.10" rx="2.7" ry="9.1" transform="rotate(4 383.10 133.10)" fill="none" stroke="#3a3a3a" stroke-width="0.95"/>
<ellipse cx="383.50" cy="133.10" rx="1.4" ry="7.6" transform="rotate(4 383.10 133.10)" fill="none" stroke="#666" stroke-width="0.65"/>
<ellipse cx="387.60" cy="133.10" rx="2.7" ry="9.1" transform="rotate(4 387.60 133.10)" fill="none" stroke="#3a3a3a" stroke-width="0.95"/>
<ellipse cx="388.00" cy="133.10" rx="1.4" ry="7.6" transform="rotate(4 387.60 133.10)" fill="none" stroke="#666" stroke-width="0.65"/>
<ellipse cx="392.10" cy="133.10" rx="2.7" ry="9.1" transform="rotate(4 392.10 133.10)" fill="none" stroke="#3a3a3a" stroke-width="0.95"/>
<ellipse cx="392.50" cy="133.10" rx="1.4" ry="7.6" transform="rotate(4 392.10 133.10)" fill="none" stroke="#666" stroke-width="0.65"/>
<ellipse cx="396.60" cy="133.10" rx="2.7" ry="9.1" transform="rotate(4 396.60 133.10)" fill="none" stroke="#3a3a3a" stroke-width="0.95"/>
<ellipse cx="397.00" cy="133.10" rx="1.4" ry="7.6" transform="rotate(4 396.60 133.10)" fill="none" stroke="#666" stroke-width="0.65"/>
<ellipse cx="401.10" cy="133.10" rx="2.7" ry="9.1" transform="rotate(4 401.10 133.10)" fill="none" stroke="#3a3a3a" stroke-width="0.95"/>
<ellipse cx="401.50" cy="133.10" rx="1.4" ry="7.6" transform="rotate(4 401.10 133.10)" fill="none" stroke="#666" stroke-width="0.65"/>
<ellipse cx="405.60" cy="133.10" rx="2.7" ry="9.1" transform="rotate(4 405.60 133.10)" fill="none" stroke="#3a3a3a" stroke-width="0.95"/>
<ellipse cx="406.00" cy="133.10" rx="1.4" ry="7.6" transform="rotate(4 405.60 133.10)" fill="none" stroke="#666" stroke-width="0.65"/>
<ellipse cx="405.40" cy="133.10" rx="2.6" ry="8.8" fill="none" stroke="#222" stroke-width="1.4"/>
<ellipse cx="405.60" cy="133.10" rx="1.1" ry="6.5" fill="none" stroke="#444" stroke-width="0.7"/>
<ellipse cx="385.40" cy="158.90" rx="2.7" ry="9.1" transform="rotate(4 385.40 158.90)" fill="none" stroke="#3a3a3a" stroke-width="0.95"/>
<ellipse cx="385.80" cy="158.90" rx="1.4" ry="7.6" transform="rotate(4 385.40 158.90)" fill="none" stroke="#666" stroke-width="0.65"/>
<ellipse cx="389.94" cy="158.90" rx="2.7" ry="9.1" transform="rotate(4 389.94 158.90)" fill="none" stroke="#3a3a3a" stroke-width="0.95"/>
<ellipse cx="390.34" cy="158.90" rx="1.4" ry="7.6" transform="rotate(4 389.94 158.90)" fill="none" stroke="#666" stroke-width="0.65"/>
<ellipse cx="394.49" cy="158.90" rx="2.7" ry="9.1" transform="rotate(4 394.49 158.90)" fill="none" stroke="#3a3a3a" stroke-width="0.95"/>
<ellipse cx="394.89" cy="158.90" rx="1.4" ry="7.6" transform="rotate(4 394.49 158.90)" fill="none" stroke="#666" stroke-width="0.65"/>
<ellipse cx="399.03" cy="158.90" rx="2.7" ry="9.1" transform="rotate(4 399.03 158.90)" fill="none" stroke="#3a3a3a" stroke-width="0.95"/>
<ellipse cx="399.43" cy="158.90" rx="1.4" ry="7.6" transform="rotate(4 399.03 158.90)" fill="none" stroke="#666" stroke-width="0.65"/>
<ellipse cx="403.57" cy="158.90" rx="2.7" ry="9.1" transform="rotate(4 403.57 158.90)" fill="none" stroke="#3a3a3a" stroke-width="0.95"/>
<ellipse cx="403.97" cy="158.90" rx="1.4" ry="7.6" transform="rotate(4 403.57 158.90)" fill="none" stroke="#666" stroke-width="0.65"/>
<ellipse cx="408.11" cy="158.90" rx="2.7" ry="9.1" transform="rotate(4 408.11 158.90)" fill="none" stroke="#3a3a3a" stroke-width="0.95"/>
<ellipse cx="408.51" cy="158.90" rx="1.4" ry="7.6" transform="rotate(4 408.11 158.90)" fill="none" stroke="#666" stroke-width="0.65"/>
<ellipse cx="412.66" cy="158.90" rx="2.7" ry="9.1" transform="rotate(4 412.66 158.90)" fill="none" stroke="#3a3a3a" stroke-width="0.95"/>
<ellipse cx="413.06" cy="158.90" rx="1.4" ry="7.6" transform="rotate(4 412.66 158.90)" fill="none" stroke="#666" stroke-width="0.65"/>
<ellipse cx="417.20" cy="158.90" rx="2.7" ry="9.1" transform="rotate(4 417.20 158.90)" fill="none" stroke="#3a3a3a" stroke-width="0.95"/>
<ellipse cx="417.60" cy="158.90" rx="1.4" ry="7.6" transform="rotate(4 417.20 158.90)" fill="none" stroke="#666" stroke-width="0.65"/>
<ellipse cx="417.00" cy="158.90" rx="2.6" ry="8.8" fill="none" stroke="#222" stroke-width="1.4"/>
<ellipse cx="417.20" cy="158.90" rx="1.1" ry="6.5" fill="none" stroke="#444" stroke-width="0.7"/>
<ellipse cx="373.10" cy="181.20" rx="2.7" ry="9.1" transform="rotate(4 373.10 181.20)" fill="none" stroke="#3a3a3a" stroke-width="0.95"/>
<ellipse cx="373.50" cy="181.20" rx="1.4" ry="7.6" transform="rotate(4 373.10 181.20)" fill="none" stroke="#666" stroke-width="0.65"/>
<ellipse cx="377.60" cy="181.20" rx="2.7" ry="9.1" transform="rotate(4 377.60 181.20)" fill="none" stroke="#3a3a3a" stroke-width="0.95"/>
<ellipse cx="378.00" cy="181.20" rx="1.4" ry="7.6" transform="rotate(4 377.60 181.20)" fill="none" stroke="#666" stroke-width="0.65"/>
<ellipse cx="382.10" cy="181.20" rx="2.7" ry="9.1" transform="rotate(4 382.10 181.20)" fill="none" stroke="#3a3a3a" stroke-width="0.95"/>
<ellipse cx="382.50" cy="181.20" rx="1.4" ry="7.6" transform="rotate(4 382.10 181.20)" fill="none" stroke="#666" stroke-width="0.65"/>
<ellipse cx="386.60" cy="181.20" rx="2.7" ry="9.1" transform="rotate(4 386.60 181.20)" fill="none" stroke="#3a3a3a" stroke-width="0.95"/>
<ellipse cx="387.00" cy="181.20" rx="1.4" ry="7.6" transform="rotate(4 386.60 181.20)" fill="none" stroke="#666" stroke-width="0.65"/>
<ellipse cx="391.10" cy="181.20" rx="2.7" ry="9.1" transform="rotate(4 391.10 181.20)" fill="none" stroke="#3a3a3a" stroke-width="0.95"/>
<ellipse cx="391.50" cy="181.20" rx="1.4" ry="7.6" transform="rotate(4 391.10 181.20)" fill="none" stroke="#666" stroke-width="0.65"/>
<ellipse cx="395.60" cy="181.20" rx="2.7" ry="9.1" transform="rotate(4 395.60 181.20)" fill="none" stroke="#3a3a3a" stroke-width="0.95"/>
<ellipse cx="396.00" cy="181.20" rx="1.4" ry="7.6" transform="rotate(4 395.60 181.20)" fill="none" stroke="#666" stroke-width="0.65"/>
<ellipse cx="400.10" cy="181.20" rx="2.7" ry="9.1" transform="rotate(4 400.10 181.20)" fill="none" stroke="#3a3a3a" stroke-width="0.95"/>
<ellipse cx="400.50" cy="181.20" rx="1.4" ry="7.6" transform="rotate(4 400.10 181.20)" fill="none" stroke="#666" stroke-width="0.65"/>
<ellipse cx="404.60" cy="181.20" rx="2.7" ry="9.1" transform="rotate(4 404.60 181.20)" fill="none" stroke="#3a3a3a" stroke-width="0.95"/>
<ellipse cx="405.00" cy="181.20" rx="1.4" ry="7.6" transform="rotate(4 404.60 181.20)" fill="none" stroke="#666" stroke-width="0.65"/>
<ellipse cx="404.40" cy="181.20" rx="2.6" ry="8.8" fill="none" stroke="#222" stroke-width="1.4"/>
<ellipse cx="404.60" cy="181.20" rx="1.1" ry="6.5" fill="none" stroke="#444" stroke-width="0.7"/>
<ellipse cx="379.10" cy="203.40" rx="2.7" ry="9.1" transform="rotate(4 379.10 203.40)" fill="none" stroke="#3a3a3a" stroke-width="0.95"/>
<ellipse cx="379.50" cy="203.40" rx="1.4" ry="7.6" transform="rotate(4 379.10 203.40)" fill="none" stroke="#666" stroke-width="0.65"/>
<ellipse cx="383.60" cy="203.40" rx="2.7" ry="9.1" transform="rotate(4 383.60 203.40)" fill="none" stroke="#3a3a3a" stroke-width="0.95"/>
<ellipse cx="384.00" cy="203.40" rx="1.4" ry="7.6" transform="rotate(4 383.60 203.40)" fill="none" stroke="#666" stroke-width="0.65"/>
<ellipse cx="388.10" cy="203.40" rx="2.7" ry="9.1" transform="rotate(4 388.10 203.40)" fill="none" stroke="#3a3a3a" stroke-width="0.95"/>
<ellipse cx="388.50" cy="203.40" rx="1.4" ry="7.6" transform="rotate(4 388.10 203.40)" fill="none" stroke="#666" stroke-width="0.65"/>
<ellipse cx="392.60" cy="203.40" rx="2.7" ry="9.1" transform="rotate(4 392.60 203.40)" fill="none" stroke="#3a3a3a" stroke-width="0.95"/>
<ellipse cx="393.00" cy="203.40" rx="1.4" ry="7.6" transform="rotate(4 392.60 203.40)" fill="none" stroke="#666" stroke-width="0.65"/>
<ellipse cx="397.10" cy="203.40" rx="2.7" ry="9.1" transform="rotate(4 397.10 203.40)" fill="none" stroke="#3a3a3a" stroke-width="0.95"/>
<ellipse cx="397.50" cy="203.40" rx="1.4" ry="7.6" transform="rotate(4 397.10 203.40)" fill="none" stroke="#666" stroke-width="0.65"/>
<ellipse cx="401.60" cy="203.40" rx="2.7" ry="9.1" transform="rotate(4 401.60 203.40)" fill="none" stroke="#3a3a3a" stroke-width="0.95"/>
<ellipse cx="402.00" cy="203.40" rx="1.4" ry="7.6" transform="rotate(4 401.60 203.40)" fill="none" stroke="#666" stroke-width="0.65"/>
<ellipse cx="406.10" cy="203.40" rx="2.7" ry="9.1" transform="rotate(4 406.10 203.40)" fill="none" stroke="#3a3a3a" stroke-width="0.95"/>
<ellipse cx="406.50" cy="203.40" rx="1.4" ry="7.6" transform="rotate(4 406.10 203.40)" fill="none" stroke="#666" stroke-width="0.65"/>
<ellipse cx="410.60" cy="203.40" rx="2.7" ry="9.1" transform="rotate(4 410.60 203.40)" fill="none" stroke="#3a3a3a" stroke-width="0.95"/>
<ellipse cx="411.00" cy="203.40" rx="1.4" ry="7.6" transform="rotate(4 410.60 203.40)" fill="none" stroke="#666" stroke-width="0.65"/>
<ellipse cx="410.40" cy="203.40" rx="2.6" ry="8.8" fill="none" stroke="#222" stroke-width="1.4"/>
<ellipse cx="410.60" cy="203.40" rx="1.1" ry="6.5" fill="none" stroke="#444" stroke-width="0.7"/>
<line x1="419.5" y1="112.4" x2="424.2" y2="112.6" stroke="#999" stroke-width="0.7"/>
<path d="M425.4,109.9 L439.4,110.2 L439.4,116.8 L425.4,116.5 C423.9,115.2 423.9,111.2 425.4,109.9 Z" stroke-width="0.9"/>
<line x1="426.7" y1="112.9" x2="438.4" y2="113.2" stroke="#999" stroke-width="0.6"/>
<path d="M442.20,106.00 L442.90,106.07 L443.40,107.29 L443.98,107.56 L444.90,107.02 L445.49,107.57 L445.48,108.98 L445.88,109.62 L446.88,109.80 L447.19,110.69 L446.69,111.91 L446.80,112.75 L447.60,113.60 L447.55,114.59 L446.69,115.29 L446.49,116.10 L446.88,117.40 L446.48,118.23 L445.48,118.22 L445.03,118.79 L444.90,120.18 L444.27,120.62 L443.40,119.91 L442.81,120.08 L442.20,121.20 Z" fill="#fff" stroke-width="0.9"/>
<ellipse cx="441.00" cy="113.60" rx="2.60" ry="8.90" transform="rotate(4 441.00 113.60)" fill="#fff" stroke-width="1"/>
<path d="M444.0,110.7 L446.8,111.0 M444.0,116.2 L446.8,116.4" fill="none" stroke-width="0.6"/>
<line x1="408.5" y1="134.7" x2="413.0" y2="134.9" stroke="#999" stroke-width="0.7"/>
<path d="M414.2,132.2 L428.6,132.5 L428.6,139.1 L414.2,138.8 C412.7,137.5 412.7,133.5 414.2,132.2 Z" stroke-width="0.9"/>
<line x1="415.5" y1="135.2" x2="427.6" y2="135.5" stroke="#999" stroke-width="0.6"/>
<path d="M431.40,128.30 L432.10,128.37 L432.60,129.59 L433.18,129.86 L434.10,129.32 L434.69,129.87 L434.68,131.28 L435.08,131.92 L436.08,132.10 L436.39,132.99 L435.89,134.21 L436.00,135.05 L436.80,135.90 L436.75,136.89 L435.89,137.59 L435.69,138.40 L436.08,139.70 L435.68,140.53 L434.68,140.52 L434.23,141.09 L434.10,142.48 L433.47,142.92 L432.60,142.21 L432.01,142.38 L431.40,143.50 Z" fill="#fff" stroke-width="0.9"/>
<ellipse cx="430.20" cy="135.90" rx="2.60" ry="8.90" transform="rotate(4 430.20 135.90)" fill="#fff" stroke-width="1"/>
<path d="M433.2,133.0 L436.0,133.3 M433.2,138.5 L436.0,138.7" fill="none" stroke-width="0.6"/>
<line x1="420.1" y1="160.4" x2="424.6" y2="160.6" stroke="#999" stroke-width="0.7"/>
<path d="M425.8,157.9 L440.6,158.2 L440.6,164.8 L425.8,164.5 C424.3,163.2 424.3,159.2 425.8,157.9 Z" stroke-width="0.9"/>
<line x1="427.1" y1="160.9" x2="439.6" y2="161.2" stroke="#999" stroke-width="0.6"/>
<path d="M443.40,154.00 L444.10,154.07 L444.60,155.29 L445.18,155.56 L446.10,155.02 L446.69,155.57 L446.68,156.98 L447.08,157.62 L448.08,157.80 L448.39,158.69 L447.89,159.91 L448.00,160.75 L448.80,161.60 L448.75,162.59 L447.89,163.29 L447.69,164.10 L448.08,165.40 L447.68,166.23 L446.68,166.22 L446.23,166.79 L446.10,168.18 L445.47,168.62 L444.60,167.91 L444.01,168.08 L443.40,169.20 Z" fill="#fff" stroke-width="0.9"/>
<ellipse cx="442.20" cy="161.60" rx="2.60" ry="8.90" transform="rotate(4 442.20 161.60)" fill="#fff" stroke-width="1"/>
<path d="M445.2,158.7 L448.0,159.0 M445.2,164.2 L448.0,164.4" fill="none" stroke-width="0.6"/>
<line x1="407.5" y1="182.4" x2="412.0" y2="182.6" stroke="#999" stroke-width="0.7"/>
<path d="M413.2,179.9 L428.0,180.2 L428.0,186.8 L413.2,186.5 C411.7,185.2 411.7,181.2 413.2,179.9 Z" stroke-width="0.9"/>
<line x1="414.5" y1="182.9" x2="427.0" y2="183.2" stroke="#999" stroke-width="0.6"/>
<path d="M430.80,176.00 L431.50,176.07 L432.00,177.29 L432.58,177.56 L433.50,177.02 L434.09,177.57 L434.08,178.98 L434.48,179.62 L435.48,179.80 L435.79,180.69 L435.29,181.91 L435.40,182.75 L436.20,183.60 L436.15,184.59 L435.29,185.29 L435.09,186.10 L435.48,187.40 L435.08,188.23 L434.08,188.22 L433.63,188.79 L433.50,190.18 L432.87,190.62 L432.00,189.91 L431.41,190.08 L430.80,191.20 Z" fill="#fff" stroke-width="0.9"/>
<ellipse cx="429.60" cy="183.60" rx="2.60" ry="8.90" transform="rotate(4 429.60 183.60)" fill="#fff" stroke-width="1"/>
<path d="M432.6,180.7 L435.4,181.0 M432.6,186.2 L435.4,186.4" fill="none" stroke-width="0.6"/>
<line x1="413.5" y1="205.2" x2="419.6" y2="205.4" stroke="#999" stroke-width="0.7"/>
<path d="M420.8,202.7 L435.6,203.0 L435.6,209.6 L420.8,209.3 C419.3,208.0 419.3,204.0 420.8,202.7 Z" stroke-width="0.9"/>
<line x1="422.1" y1="205.7" x2="434.6" y2="206.0" stroke="#999" stroke-width="0.6"/>
<path d="M438.40,198.80 L439.10,198.87 L439.60,200.09 L440.18,200.36 L441.10,199.82 L441.69,200.37 L441.68,201.78 L442.08,202.42 L443.08,202.60 L443.39,203.49 L442.89,204.71 L443.00,205.55 L443.80,206.40 L443.75,207.39 L442.89,208.09 L442.69,208.90 L443.08,210.20 L442.68,211.03 L441.68,211.02 L441.23,211.59 L441.10,212.98 L440.47,213.42 L439.60,212.71 L439.01,212.88 L438.40,214.00 Z" fill="#fff" stroke-width="0.9"/>
<ellipse cx="437.20" cy="206.40" rx="2.60" ry="8.90" transform="rotate(4 437.20 206.40)" fill="#fff" stroke-width="1"/>
<path d="M440.2,203.5 L443.0,203.8 M440.2,209.0 L443.0,209.2" fill="none" stroke-width="0.6"/>
<ellipse cx="213.60" cy="139.00" rx="5.20" ry="17.80" transform="rotate(4 213.60 139.00)" stroke-width="1"/>
<ellipse cx="212.60" cy="139.00" rx="4.60" ry="17.20" transform="rotate(4 212.60 139.00)" fill="none" stroke-width="0.7"/>
<ellipse cx="214.00" cy="139.20" rx="2.30" ry="9.00" transform="rotate(4 214.00 139.20)" stroke-width="0.9"/>
<path d="M209.5,125.5 L210.5,120.5 L214.5,121.5 L214,124.5" stroke-width="0.9"/>
<path d="M226,124.8 L232.5,125.5 C236.5,129 237,151 232.5,155 L226,154.5 C220,150 220,129 226,124.8 Z" stroke-width="1"/>
<ellipse cx="226.00" cy="139.60" rx="4.60" ry="14.80" transform="rotate(4 226.00 139.60)" fill="none" stroke-width="0.9"/>
<path d="M222,132 L233,132.8 M221.5,147.5 L233,148.3" fill="none" stroke-width="0.8"/>
<ellipse cx="232.50" cy="140.20" rx="3.20" ry="12.00" transform="rotate(4 232.50 140.20)" fill="none" stroke-width="0.8"/>
<path d="M244.5,134.8 L278.5,137.3 L278.5,148.8 L244.5,147.8 Z" stroke-width="0.9"/>
<ellipse cx="256.0" cy="142.5" rx="1.5" ry="5.4" transform="rotate(12 256.0 142.5)" fill="none" stroke="#2a2a2a" stroke-width="1.5"/>
<ellipse cx="259.4" cy="142.7" rx="1.5" ry="5.4" transform="rotate(12 259.4 142.5)" fill="none" stroke="#2a2a2a" stroke-width="1.5"/>
<ellipse cx="262.8" cy="142.8" rx="1.5" ry="5.4" transform="rotate(12 262.8 142.5)" fill="none" stroke="#2a2a2a" stroke-width="1.5"/>
<ellipse cx="266.2" cy="142.9" rx="1.5" ry="5.4" transform="rotate(12 266.2 142.5)" fill="none" stroke="#2a2a2a" stroke-width="1.5"/>
<ellipse cx="269.6" cy="143.1" rx="1.5" ry="5.4" transform="rotate(12 269.6 142.5)" fill="none" stroke="#2a2a2a" stroke-width="1.5"/>
<ellipse cx="273.0" cy="143.2" rx="1.5" ry="5.4" transform="rotate(12 273.0 142.5)" fill="none" stroke="#2a2a2a" stroke-width="1.5"/>
<ellipse cx="276.4" cy="143.4" rx="1.5" ry="5.4" transform="rotate(12 276.4 142.5)" fill="none" stroke="#2a2a2a" stroke-width="1.5"/>
<ellipse cx="277.50" cy="143.00" rx="1.60" ry="5.80" transform="rotate(4 277.50 143.00)" stroke-width="0.9"/>
<ellipse cx="241.20" cy="141.00" rx="3.60" ry="13.30" transform="rotate(4 241.20 141.00)" stroke-width="1"/>
<ellipse cx="243.50" cy="141.20" rx="3.60" ry="13.30" transform="rotate(4 243.50 141.20)" stroke-width="1"/>
<line x1="246" y1="141" x2="255" y2="141.6" stroke="#999" stroke-width="0.6"/>
<clipPath id="c11"><ellipse cx="288.7" cy="144.2" rx="4.7" ry="12" transform="rotate(4 288.7 144.2)"/></clipPath>
<ellipse cx="288.70" cy="144.20" rx="5.20" ry="12.50" transform="rotate(4 288.70 144.20)" fill="#3a3a3a" stroke-width="1"/>
<g clip-path="url(#c11)"><ellipse cx="282.10" cy="133.40" rx="1.0" ry="1.15" fill="#fff" stroke="none"/><ellipse cx="285.00" cy="133.40" rx="1.0" ry="1.15" fill="#fff" stroke="none"/><ellipse cx="287.90" cy="133.40" rx="1.0" ry="1.15" fill="#fff" stroke="none"/><ellipse cx="290.80" cy="133.40" rx="1.0" ry="1.15" fill="#fff" stroke="none"/><ellipse cx="293.70" cy="133.40" rx="1.0" ry="1.15" fill="#fff" stroke="none"/><ellipse cx="283.75" cy="136.10" rx="1.0" ry="1.15" fill="#fff" stroke="none"/><ellipse cx="286.65" cy="136.10" rx="1.0" ry="1.15" fill="#fff" stroke="none"/><ellipse cx="289.55" cy="136.10" rx="1.0" ry="1.15" fill="#fff" stroke="none"/><ellipse cx="292.45" cy="136.10" rx="1.0" ry="1.15" fill="#fff" stroke="none"/><ellipse cx="295.35" cy="136.10" rx="1.0" ry="1.15" fill="#fff" stroke="none"/><ellipse cx="282.50" cy="138.80" rx="1.0" ry="1.15" fill="#fff" stroke="none"/><ellipse cx="285.40" cy="138.80" rx="1.0" ry="1.15" fill="#fff" stroke="none"/><ellipse cx="288.30" cy="138.80" rx="1.0" ry="1.15" fill="#fff" stroke="none"/><ellipse cx="291.20" cy="138.80" rx="1.0" ry="1.15" fill="#fff" stroke="none"/><ellipse cx="294.10" cy="138.80" rx="1.0" ry="1.15" fill="#fff" stroke="none"/><ellipse cx="284.15" cy="141.50" rx="1.0" ry="1.15" fill="#fff" stroke="none"/><ellipse cx="287.05" cy="141.50" rx="1.0" ry="1.15" fill="#fff" stroke="none"/><ellipse cx="289.95" cy="141.50" rx="1.0" ry="1.15" fill="#fff" stroke="none"/><ellipse cx="292.85" cy="141.50" rx="1.0" ry="1.15" fill="#fff" stroke="none"/><ellipse cx="295.75" cy="141.50" rx="1.0" ry="1.15" fill="#fff" stroke="none"/><ellipse cx="282.90" cy="144.20" rx="1.0" ry="1.15" fill="#fff" stroke="none"/><ellipse cx="285.80" cy="144.20" rx="1.0" ry="1.15" fill="#fff" stroke="none"/><ellipse cx="288.70" cy="144.20" rx="1.0" ry="1.15" fill="#fff" stroke="none"/><ellipse cx="291.60" cy="144.20" rx="1.0" ry="1.15" fill="#fff" stroke="none"/><ellipse cx="294.50" cy="144.20" rx="1.0" ry="1.15" fill="#fff" stroke="none"/><ellipse cx="284.55" cy="146.90" rx="1.0" ry="1.15" fill="#fff" stroke="none"/><ellipse cx="287.45" cy="146.90" rx="1.0" ry="1.15" fill="#fff" stroke="none"/><ellipse cx="290.35" cy="146.90" rx="1.0" ry="1.15" fill="#fff" stroke="none"/><ellipse cx="293.25" cy="146.90" rx="1.0" ry="1.15" fill="#fff" stroke="none"/><ellipse cx="296.15" cy="146.90" rx="1.0" ry="1.15" fill="#fff" stroke="none"/><ellipse cx="283.30" cy="149.60" rx="1.0" ry="1.15" fill="#fff" stroke="none"/><ellipse cx="286.20" cy="149.60" rx="1.0" ry="1.15" fill="#fff" stroke="none"/><ellipse cx="289.10" cy="149.60" rx="1.0" ry="1.15" fill="#fff" stroke="none"/><ellipse cx="292.00" cy="149.60" rx="1.0" ry="1.15" fill="#fff" stroke="none"/><ellipse cx="294.90" cy="149.60" rx="1.0" ry="1.15" fill="#fff" stroke="none"/><ellipse cx="284.95" cy="152.30" rx="1.0" ry="1.15" fill="#fff" stroke="none"/><ellipse cx="287.85" cy="152.30" rx="1.0" ry="1.15" fill="#fff" stroke="none"/><ellipse cx="290.75" cy="152.30" rx="1.0" ry="1.15" fill="#fff" stroke="none"/><ellipse cx="293.65" cy="152.30" rx="1.0" ry="1.15" fill="#fff" stroke="none"/><ellipse cx="296.55" cy="152.30" rx="1.0" ry="1.15" fill="#fff" stroke="none"/><ellipse cx="283.70" cy="155.00" rx="1.0" ry="1.15" fill="#fff" stroke="none"/><ellipse cx="286.60" cy="155.00" rx="1.0" ry="1.15" fill="#fff" stroke="none"/><ellipse cx="289.50" cy="155.00" rx="1.0" ry="1.15" fill="#fff" stroke="none"/><ellipse cx="292.40" cy="155.00" rx="1.0" ry="1.15" fill="#fff" stroke="none"/><ellipse cx="295.30" cy="155.00" rx="1.0" ry="1.15" fill="#fff" stroke="none"/></g>
<ellipse cx="288.70" cy="144.20" rx="5.20" ry="12.50" transform="rotate(4 288.70 144.20)" fill="none" stroke-width="1.3"/>
<ellipse cx="300.30" cy="145.00" rx="3.30" ry="11.80" transform="rotate(4 300.30 145.00)" stroke-width="1"/>
<ellipse cx="299.50" cy="145.00" rx="3.00" ry="11.30" transform="rotate(4 299.50 145.00)" fill="none" stroke-width="0.6"/>
<ellipse cx="300.50" cy="145.20" rx="1.50" ry="6.80" transform="rotate(4 300.50 145.20)" stroke-width="0.9"/>
<path d="M469.5,97 L482.6,97 L472.6,146.5 L459.8,146.5 Z" stroke-width="0.9"/>
<line x1="475.5" y1="99" x2="467.5" y2="139" stroke="#999" stroke-width="0.6" stroke-dasharray="5 1.5 1.5 1.5"/>
<path d="M458.5,146 L474,146 C476.5,149.5 476,155 473,158 L458,158 C455.5,154.5 456,149.5 458.5,146 Z" stroke-width="0.9"/>
<line x1="459.9" y1="146.5" x2="459.5" y2="157.5" stroke="#333" stroke-width="0.8"/>
<line x1="462.5" y1="146.5" x2="462.1" y2="157.5" stroke="#333" stroke-width="0.8"/>
<line x1="465.1" y1="146.5" x2="464.7" y2="157.5" stroke="#333" stroke-width="0.8"/>
<line x1="467.7" y1="146.5" x2="467.3" y2="157.5" stroke="#333" stroke-width="0.8"/>
<line x1="470.3" y1="146.5" x2="469.9" y2="157.5" stroke="#333" stroke-width="0.8"/>
<line x1="472.9" y1="146.5" x2="472.5" y2="157.5" stroke="#333" stroke-width="0.8"/>
<line x1="463.2" y1="139.5" x2="462.0" y2="147" stroke="#1a1a1a" stroke-width="1.3"/>
<line x1="465.8" y1="139.5" x2="464.6" y2="147" stroke="#1a1a1a" stroke-width="1.3"/>
<line x1="468.4" y1="139.5" x2="467.2" y2="147" stroke="#1a1a1a" stroke-width="1.3"/>
<line x1="471.0" y1="139.5" x2="469.8" y2="147" stroke="#1a1a1a" stroke-width="1.3"/>
<line x1="473.6" y1="139.5" x2="472.4" y2="147" stroke="#1a1a1a" stroke-width="1.3"/>
<ellipse cx="466.00" cy="146.00" rx="8.50" ry="1.60" transform="rotate(0 466.00 146.00)" fill="none" stroke-width="0.7"/>
<path d="M458.5,157.5 L469,157.5 L468.8,164 C466,167 461,167 458.3,164 Z" stroke-width="0.9"/>
<ellipse cx="463.60" cy="164.00" rx="5.20" ry="2.20" transform="rotate(0 463.60 164.00)" stroke-width="0.9"/>
<path d="M469,88 L485.5,88 L485.5,96 C481,99 473,99 468.8,96.5 Z" stroke-width="1"/>
<ellipse cx="477.20" cy="88.00" rx="8.30" ry="2.60" transform="rotate(0 477.20 88.00)" stroke-width="1"/>
<path d="M469,94.5 C473,97 481,97 485.5,94.5" fill="none" stroke-width="0.7"/>
<path d="M473,79 L485,79 L484.7,86.5 C480,88 476,88 473,86.5 Z" stroke-width="0.9"/>
<path d="M474.6,73 L487,73 L486.5,79 C482,80.5 477,80.5 474.6,79 Z" stroke-width="0.9"/>
<ellipse cx="480.80" cy="73.00" rx="6.20" ry="1.80" transform="rotate(0 480.80 73.00)" fill="none" stroke-width="0.8"/>
<path d="M476,64.5 L487,64.5 L486.8,72.5 C482,74 478,74 476,72.5 Z" stroke-width="0.9"/>
<ellipse cx="483.50" cy="59.50" rx="11.00" ry="5.50" transform="rotate(8 483.50 59.50)" stroke-width="1"/>
<ellipse cx="483.30" cy="59.50" rx="6.20" ry="2.80" transform="rotate(8 483.30 59.50)" stroke-width="0.9"/>
<ellipse cx="486.00" cy="46.30" rx="11.30" ry="7.80" transform="rotate(8 486.00 46.30)" stroke-width="1.1"/>
<path d="M475.2,45 C476,41 481,39.5 486,39.5 C491.5,39.6 496.5,41.5 497,45" fill="none" stroke-width="0.6"/>
<ellipse cx="486.20" cy="48.60" rx="8.20" ry="4.40" transform="rotate(8 486.20 48.60)" fill="#fff" stroke-width="1.9"/>
<ellipse cx="486.20" cy="49.20" rx="6.20" ry="2.90" transform="rotate(8 486.20 49.20)" fill="#fff" stroke-width="0.8"/>
<line x1="486.5" y1="39" x2="486.5" y2="46" stroke="#999" stroke-width="0.6"/>
<path d="M504.1,58.2 L503.1,54.9 L510.9,48.8 L514.3,50.5 L516,54.5 L513.6,58.6 L506.8,60.3 Z" stroke-width="1.1"/>
<path d="M504.5,56.5 L510.5,51.5 L514.8,53.5 M505.5,56.2 L507.5,59.8" fill="none" stroke-width="0.7"/>
<path d="M498.6,46.2 L503.6,42.6 L511.8,52.8 L506.2,56.6 Z" stroke-width="1.05"/>
<ellipse cx="501.10" cy="44.40" rx="2.90" ry="1.90" transform="rotate(-38 501.10 44.40)" stroke-width="1.05"/>
<line x1="502.5" y1="47" x2="508" y2="54" stroke="#aaa" stroke-width="0.5"/>
<path d="M452.2,22.5 L475,19.2 L483,34 L450.7,32 Z" stroke-width="1"/>
<path d="M474.8,18.8 C476,15.2 479,13.8 482,13.8 L491.6,13.4 C496.5,13.6 500.2,15.5 500.2,18.2 L497.8,29.5 C496.6,33.2 492.5,34.6 489.2,34.6 L483.2,34.2 L471,22.6 C471.5,20.5 473,19.5 474.8,18.8 Z" stroke-width="1.1"/>
<path d="M471,22.6 L474.6,21.6 L486.5,33.2 L483.2,34.2 Z" stroke-width="0.8"/>
<line x1="489.6" y1="14" x2="489.6" y2="24.5" stroke="#888" stroke-width="0.7"/>
<ellipse cx="479.80" cy="20.20" rx="5.00" ry="4.40" transform="rotate(0 479.80 20.20)" fill="#fff" stroke-width="0.9"/>
<ellipse cx="479.80" cy="20.20" rx="3.10" ry="2.70" transform="rotate(0 479.80 20.20)" fill="#fff" stroke-width="1.2"/>
<ellipse cx="489.90" cy="29.20" rx="6.60" ry="4.20" transform="rotate(6 489.90 29.20)" fill="#fff" stroke-width="1"/>
<ellipse cx="490.30" cy="29.70" rx="4.40" ry="2.60" transform="rotate(6 490.30 29.70)" fill="none" stroke-width="0.8"/>
<path d="M440.5,24 C442,21 450,20 452.5,22.5 L452.8,31.5 C452,35.5 440,36 439.3,31.8 Z" stroke-width="1"/>
<ellipse cx="445.90" cy="32.00" rx="6.00" ry="3.60" transform="rotate(3 445.90 32.00)" fill="#fff" stroke-width="1.3"/>
<ellipse cx="445.90" cy="32.30" rx="4.00" ry="2.20" transform="rotate(3 445.90 32.30)" fill="none" stroke-width="0.8"/>
<path d="M442,23.5 L443.5,20 L447,20.5 L447.5,23 M448,21.5 L450.5,20.3 L452.5,22.5" fill="none" stroke-width="0.9"/>
<path d="M84,372.5 L96,358 L97.7,376.3 Z" stroke-width="1"/>
<path d="M85.8,372.6 L96.2,360.2 L96.6,375" fill="none" stroke-width="0.6"/>
<path d="M97.6,360.2 L107.8,355.8 L109.6,365.5 L98.2,371.6 Z" stroke-width="0.9"/>
<path d="M107.8,355.8 L109.2,355.2 L111,364.6 L109.6,365.5 Z" fill="#fff" stroke-width="0.9"/>
<path d="M94.6,365 L94.1,373.2 M94.6,365 L97.2,364.2 M94.4,368.8 L96.6,368.2" fill="none" stroke="#1a1a1a" stroke-width="1.4"/>
<path d="M99.6,361.8 L99.3,370.8" fill="none" stroke="#1a1a1a" stroke-width="1.2"/>
<path d="M101.6,361.2 L101.4,368.4 C105.5,368 106,361.5 101.6,361.2 Z" fill="none" stroke="#1a1a1a" stroke-width="1.2"/>
</g>
<g fill="none" stroke="#8a8a8a" stroke-width="0.75" stroke-dasharray="9 1.8 1.6 1.8">
<polyline points="204.5,138 186,206.9 536,231.2 516.5,306.2"/>
<polyline points="204.5,138 330,146"/>
<polyline points="124,279.4 516.5,306.2"/>
<polyline points="356,107.7 383,108.8"/>
<polyline points="357,131.8 372,132.8"/>
<polyline points="367.5,141 364,156.3 384,158"/>
<polyline points="351,179 371,180.7"/>
<polyline points="362,186 358.5,199.7 378.4,202.4"/>
<polyline points="492,38 500,46"/>
</g>
<g font-family="Liberation Sans, sans-serif" font-size="12.5" fill="#1769c0" stroke="#1769c0" stroke-width="0.32">
<text x="523.4" y="31.0" text-anchor="middle">18</text>
<line x1="517" y1="33.5" x2="531" y2="33.5" stroke="#1769c0" stroke-width="1" stroke-dasharray="1 1"/>
<text x="531.4" y="57.0" text-anchor="middle">19</text>
<line x1="525" y1="59.5" x2="539" y2="59.5" stroke="#1769c0" stroke-width="1" stroke-dasharray="1 1"/>
<text x="449.6" y="48.8" text-anchor="middle">17</text>
<line x1="443" y1="52.5" x2="457" y2="52.5" stroke="#1769c0" stroke-width="1" stroke-dasharray="1 1"/>
<text x="450.0" y="70.0" text-anchor="middle">16</text>
<line x1="444" y1="73.5" x2="458" y2="73.5" stroke="#1769c0" stroke-width="1" stroke-dasharray="1 1"/>
<text x="450.8" y="93.7" text-anchor="middle">15</text>
<line x1="444" y1="96.5" x2="458" y2="96.5" stroke="#1769c0" stroke-width="1" stroke-dasharray="1 1"/>
<text x="425.1" y="81.6" text-anchor="middle">14</text>
<line x1="419" y1="84.5" x2="433" y2="84.5" stroke="#1769c0" stroke-width="1" stroke-dasharray="1 1"/>
<text x="393.6" y="73.5" text-anchor="middle">13</text>
<line x1="387" y1="77.5" x2="401" y2="77.5" stroke="#1769c0" stroke-width="1" stroke-dasharray="1 1"/>
<text x="347.6" y="63.0" text-anchor="middle">12</text>
<line x1="341" y1="65.5" x2="355" y2="65.5" stroke="#1769c0" stroke-width="1" stroke-dasharray="1 1"/>
<text x="216.9" y="94.5" text-anchor="middle">8</text>
<line x1="214" y1="97.5" x2="221" y2="97.5" stroke="#1769c0" stroke-width="1" stroke-dasharray="1 1"/>
<text x="235.4" y="99.8" text-anchor="middle">9</text>
<line x1="233" y1="103.5" x2="239" y2="103.5" stroke="#1769c0" stroke-width="1" stroke-dasharray="1 1"/>
<text x="260.9" y="112.0" text-anchor="middle">10</text>
<line x1="255" y1="115.5" x2="268" y2="115.5" stroke="#1769c0" stroke-width="1" stroke-dasharray="1 1"/>
<text x="293.0" y="108.4" text-anchor="middle">11</text>
<line x1="287" y1="110.5" x2="300" y2="110.5" stroke="#1769c0" stroke-width="1" stroke-dasharray="1 1"/>
<text x="289.0" y="190.8" text-anchor="middle">20</text>
<line x1="283" y1="193.5" x2="297" y2="193.5" stroke="#1769c0" stroke-width="1" stroke-dasharray="1 1"/>
<text x="461.7" y="211.5" text-anchor="middle">7</text>
<line x1="459" y1="215.5" x2="466" y2="215.5" stroke="#1769c0" stroke-width="1" stroke-dasharray="1 1"/>
<text x="267.9" y="233.0" text-anchor="middle">7</text>
<line x1="265" y1="235.5" x2="272" y2="235.5" stroke="#1769c0" stroke-width="1" stroke-dasharray="1 1"/>
<text x="116.9" y="328.5" text-anchor="middle">1</text>
<line x1="114" y1="331.5" x2="121" y2="331.5" stroke="#1769c0" stroke-width="1" stroke-dasharray="1 1"/>
<text x="144.9" y="377.0" text-anchor="middle">2</text>
<line x1="142" y1="378.5" x2="149" y2="378.5" stroke="#1769c0" stroke-width="1" stroke-dasharray="1 1"/>
<text x="239.9" y="334.0" text-anchor="middle">3</text>
<line x1="237" y1="336.5" x2="244" y2="336.5" stroke="#1769c0" stroke-width="1" stroke-dasharray="1 1"/>
<text x="277.0" y="342.0" text-anchor="middle">1</text>
<line x1="274" y1="344.5" x2="281" y2="344.5" stroke="#1769c0" stroke-width="1" stroke-dasharray="1 1"/>
<text x="283.9" y="381.8" text-anchor="middle">5</text>
<line x1="281" y1="384.5" x2="288" y2="384.5" stroke="#1769c0" stroke-width="1" stroke-dasharray="1 1"/>
<text x="304.6" y="387.0" text-anchor="middle">4</text>
<line x1="302" y1="389.5" x2="309" y2="389.5" stroke="#1769c0" stroke-width="1" stroke-dasharray="1 1"/>
<text x="418.6" y="386.4" text-anchor="middle">6</text>
<line x1="416" y1="389.5" x2="423" y2="389.5" stroke="#1769c0" stroke-width="1" stroke-dasharray="1 1"/>
<text x="384.6" y="405.8" text-anchor="middle">5</text>
<line x1="382" y1="408.5" x2="389" y2="408.5" stroke="#1769c0" stroke-width="1" stroke-dasharray="1 1"/>
</g>
</svg>
</body></html>
